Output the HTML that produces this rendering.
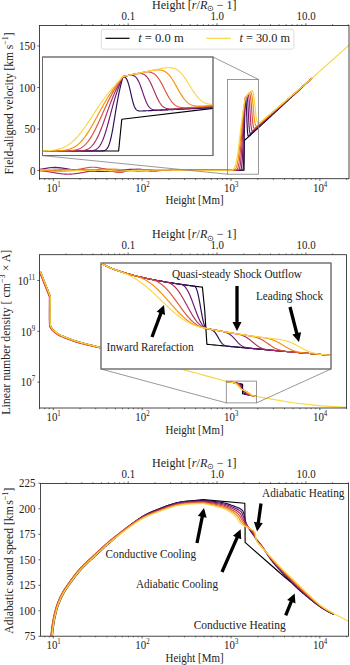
<!DOCTYPE html>
<html><head><meta charset="utf-8"><style>html,body{margin:0;padding:0;background:#fff;width:350px;height:665px;overflow:hidden}svg{display:block}</style></head><body>
<svg width="350" height="665" viewBox="0 0 350 665" font-family='"Liberation Serif", serif' fill="#222">
<rect width="350" height="665" fill="#fff"/>
<defs>
<clipPath id="c1"><rect x="39.5" y="25.5" width="309.5" height="153.2"/></clipPath>
<clipPath id="ci1"><rect x="42.5" y="57" width="170.5" height="98.6"/></clipPath>
</defs>
<path d="M39 170.2 L244 170.2 L244.3 139.7 L245 139.93 L246 139.04 L247 138.15 L248 137.26 L249 136.37 L250 135.48 L251 134.55 L252 133.63 L253 132.7 L254 131.78 L255 130.85 L256 129.92 L257 129 L258 128.07 L259 127.15 L260 126.22 L261 125.3 L262 124.37 L263 123.44 L264 122.52 L265 121.59 L266 120.67 L267 119.74 L268 118.81 L269 117.89 L270 116.96 L271 116.04 L272 115.11 L273 114.19 L274 113.26 L275 112.33 L276 111.41 L277 110.48 L278 109.56 L279 108.63 L280 107.7 L281 106.78 L282 105.85 L283 104.93 L284 104 L285 103.08 L286 102.15 L287 101.22 L288 100.3 L289 99.37 L290 98.45 L291 97.52 L292 96.59 L293 95.67 L294 94.74 L295 93.82 L296 92.89 L297 91.97 L298 91.04 L299 90.11 L300 89.19 L301 88.26 L302 87.34 L303 86.41 L304 85.48 L305 84.56 L306 83.63 L307 82.71 L308 81.78 L309 80.86 L310 79.93 L311 79.04 L312 78.15" fill="none" stroke="#000004" stroke-width="1.15" stroke-linejoin="round" stroke-linecap="butt" clip-path="url(#c1)"/>
<path d="M39 170.06 L39.5 170.05 L40 170.03 L40.5 170.02 L41 170 L41.5 169.98 L42 169.96 L42.5 169.94 L43 169.92 L43.5 169.9 L44 169.88 L44.5 169.86 L45 169.83 L45.5 169.81 L46 169.78 L46.5 169.76 L47 169.73 L47.5 169.7 L48 169.67 L48.5 169.64 L49 169.62 L49.5 169.59 L50 169.56 L50.5 169.53 L51 169.5 L51.5 169.47 L52 169.45 L52.5 169.42 L53 169.4 L53.5 169.37 L54 169.35 L54.5 169.33 L55 169.31 L55.5 169.29 L56 169.27 L56.5 169.25 L57 169.24 L57.5 169.23 L58 169.22 L58.5 169.21 L59 169.2 L59.5 169.2 L60 169.2 L60.5 169.2 L61 169.2 L61.5 169.21 L62 169.22 L62.5 169.23 L63 169.24 L63.5 169.25 L64 169.27 L64.5 169.29 L65 169.31 L65.5 169.33 L66 169.35 L66.5 169.37 L67 169.4 L67.5 169.42 L68 169.45 L68.5 169.48 L69 169.5 L69.5 169.53 L70 169.56 L70.5 169.59 L71 169.62 L71.5 169.65 L72 169.67 L72.5 169.7 L73 169.73 L73.5 169.76 L74 169.78 L74.5 169.81 L75 169.84 L75.5 169.86 L76 169.88 L76.5 169.91 L77 169.93 L77.5 169.95 L78 169.97 L78.5 169.99 L79 170.01 L79.5 170.03 L80 170.05 L80.5 170.06 L81 170.08 L81.5 170.09 L82 170.11 L82.5 170.12 L83 170.14 L83.5 170.15 L84 170.16 L84.5 170.18 L85 170.19 L85.5 170.2 L86 170.21 L86.5 170.22 L87 170.24 L87.5 170.25 L88 170.26 L88.5 170.28 L89 170.29 L89.5 170.3 L90 170.32 L90.5 170.33 L91 170.35 L91.5 170.36 L92 170.38 L92.5 170.4 L93 170.41 L93.5 170.43 L94 170.45 L94.5 170.47 L95 170.49 L95.5 170.51 L96 170.53 L96.5 170.55 L97 170.58 L97.5 170.6 L98 170.62 L98.5 170.64 L99 170.67 L99.5 170.69 L100 170.71 L100.5 170.73 L101 170.76 L101.5 170.78 L102 170.8 L102.5 170.82 L103 170.84 L103.5 170.86 L104 170.88 L104.5 170.9 L105 170.92 L105.5 170.93 L106 170.95 L106.5 170.96 L107 170.97 L107.5 170.98 L108 170.99 L108.5 170.99 L109 171 L109.5 171 L110 171 L110.5 171 L111 171 L111.5 170.99 L112 170.99 L112.5 170.98 L113 170.97 L113.5 170.96 L114 170.95 L114.5 170.93 L115 170.92 L115.5 170.9 L116 170.88 L116.5 170.86 L117 170.84 L117.5 170.82 L118 170.8 L118.5 170.78 L119 170.76 L119.5 170.73 L120 170.71 L120.5 170.69 L121 170.67 L121.5 170.64 L122 170.62 L122.5 170.6 L123 170.57 L123.5 170.55 L124 170.53 L124.5 170.51 L125 170.49 L125.5 170.47 L126 170.45 L126.5 170.43 L127 170.41 L127.5 170.39 L128 170.37 L128.5 170.35 L129 170.34 L129.5 170.32 L130 170.3 L130.5 170.29 L131 170.27 L131.5 170.26 L132 170.24 L132.5 170.22 L133 170.21 L133.5 170.19 L134 170.18 L134.5 170.16 L135 170.14 L135.5 170.13 L136 170.11 L136.5 170.09 L137 170.08 L137.5 170.06 L138 170.04 L138.5 170.02 L139 170 L139.5 169.98 L140 169.96 L140.5 169.95 L141 169.93 L141.5 169.91 L142 169.89 L142.5 169.87 L143 169.85 L143.5 169.83 L144 169.82 L144.5 169.8 L145 169.78 L145.5 169.77 L146 169.76 L146.5 169.74 L147 169.73 L147.5 169.72 L148 169.72 L148.5 169.71 L149 169.7 L149.5 169.7 L150 169.7 L150.5 169.7 L151 169.7 L151.5 169.71 L152 169.71 L152.5 169.72 L153 169.73 L153.5 169.74 L154 169.75 L154.5 169.77 L155 169.78 L155.5 169.79 L156 169.81 L156.5 169.83 L157 169.84 L157.5 169.86 L158 169.88 L158.5 169.9 L159 169.92 L159.5 169.93 L160 169.95 L160.5 169.97 L161 169.98 L161.5 170 L162 170.02 L162.5 170.03 L163 170.05 L163.5 170.06 L164 170.07 L164.5 170.08 L165 170.1 L165.5 170.11 L166 170.12 L166.5 170.12 L167 170.13 L167.5 170.14 L168 170.15 L168.5 170.15 L169 170.16 L169.5 170.16 L170 170.17 L170.5 170.17 L171 170.18 L171.5 170.18 L172 170.18 L172.5 170.19 L173 170.19 L173.5 170.19 L174 170.19 L174.5 170.19 L175 170.19 L175.5 170.19 L176 170.2 L176.5 170.2 L177 170.2 L177.5 170.2 L178 170.2 L178.5 170.2 L179 170.2 L179.5 170.2 L180 170.2 L180.5 170.2 L181 170.2 L181.5 170.2 L182 170.2 L182.5 170.2 L183 170.2 L183.5 170.2 L184 170.2 L184.5 170.2 L185 170.2 L185.5 170.2 L186 170.2 L186.5 170.2 L187 170.2 L187.5 170.2 L188 170.2 L188.5 170.2 L189 170.2 L189.5 170.2 L190 170.2 L190.5 170.2 L191 170.2 L191.5 170.2 L192 170.2 L192.5 170.2 L193 170.2 L193.5 170.2 L194 170.2 L194.5 170.2 L195 170.2 L195.5 170.2 L196 170.2 L196.5 170.2 L197 170.2 L197.5 170.2 L198 170.2 L198.5 170.2 L199 170.2 L199.5 170.2 L200 170.2 L200.5 170.2 L201 170.2 L201.5 170.2 L202 170.2 L202.5 170.2 L203 170.2 L203.5 170.2 L204 170.2 L204.5 170.2 L205 170.2 L205.5 170.2 L206 170.2 L206.5 170.2 L207 170.2 L207.5 170.2 L208 170.2 L208.5 170.2 L209 170.2 L209.5 170.2 L210 170.2 L210.5 170.2 L211 170.2 L211.5 170.2 L212 170.2 L212.5 170.2 L213 170.2 L213.5 170.2 L214 170.2 L214.5 170.2 L215 170.2 L215.5 170.2 L216 170.2 L216.5 170.2 L217 170.2 L217.5 170.2 L218 170.2 L218.5 170.2 L219 170.2 L219.5 170.2 L220 170.2 L220.5 170.2 L221 170.2 L221.5 170.2 L222 170.2 L222.5 170.2 L223 170.2 L223.5 170.2 L224 170.2 L224.5 170.2 L225 170.2 L225.5 170.2 L226 170.2 L226.5 170.2 L227 170.2 L227.5 170.2 L228 170.2 L228.5 170.2 L229 170.2 L229.5 170.2 L230 170.2 L230.5 170.2 L231 170.2 L231.5 170.2 L232 170.2 L232.5 170.2 L233 170.2 L233.5 170.2 L234 170.2 L234.5 170.2 L235 170.2 L235.5 170.2 L236 170.2 L236.5 170.2 L237 170.2 L237.5 170.2 L238 170.2 L238.5 170.2 L239 170.2 L239.5 170.2 L240 170.2 L240.5 170.2 L241 170.2 L241.5 170.2 L242 170.2 L242.5 170.19 L243 169.74 L243.5 165.38 L244 149.93 L244.5 126.17 L245 106.53 L245.5 97.72 L246 99.97 L246.5 108.56 L247 122.28 L247.5 132.45 L248 135.83 L248.5 136.04 L249 135.65 L249.5 135.21 L250 134.76 L250.5 134.31 L251 133.85 L251.5 133.39 L252 132.94 L252.5 132.48 L253 132.02 L253.5 131.56 L254 131.11 L254.5 130.65 L255 130.19 L255.5 129.74 L256 129.28 L256.5 128.82 L257 128.37 L257.5 127.91 L258 127.45 L258.5 127 L259 126.54 L259.5 126.08 L260 125.62 L260.5 125.17 L261 124.71 L261.5 124.25 L262 123.8 L262.5 123.34 L263 122.88 L263.5 122.43 L264 121.97 L264.5 121.51 L265 121.05 L265.5 120.6 L266 120.14 L266.5 119.68 L267 119.23 L267.5 118.77 L268 118.31 L268.5 117.86 L269 117.4 L269.5 116.94 L270 116.49 L270.5 116.03 L271 115.57 L271.5 115.11 L272 114.66 L272.5 114.2 L273 113.74 L273.5 113.29 L274 112.83 L274.5 112.37 L275 111.92 L275.5 111.46 L276 111 L276.5 110.55 L277 110.09 L277.5 109.63 L278 109.17 L278.5 108.72 L279 108.26 L279.5 107.8 L280 107.35 L280.5 106.89 L281 106.43 L281.5 105.98 L282 105.52 L282.5 105.06 L283 104.6 L283.5 104.15 L284 103.69 L284.5 103.23 L285 102.78 L285.5 102.32 L286 101.86 L286.5 101.41 L287 100.95 L287.5 100.49 L288 100.04 L288.5 99.58 L289 99.12 L289.5 98.66 L290 98.21 L290.5 97.75 L291 97.29 L291.5 96.84 L292 96.38 L292.5 95.92 L293 95.47 L293.5 95.01 L294 94.55 L294.5 94.1 L295 93.64 L295.5 93.18 L296 92.72 L296.5 92.27 L297 91.81 L297.5 91.35 L298 90.9 L298.5 90.44 L299 89.98 L299.5 89.53 L300 89.07 L300.5 88.61 L301 88.16 L301.5 87.7 L302 87.24 L302.5 86.78 L303 86.33 L303.5 85.87 L304 85.41 L304.5 84.96 L305 84.5 L305.5 84.04 L306 83.59 L306.5 83.13 L307 82.67 L307.5 82.21 L308 81.76 L308.5 81.3 L309 80.84 L309.5 80.39 L310 79.93 L310.5 79.48 L311 79.04 L311.5 78.59 L312 78.15" fill="none" stroke="#2b0b57" stroke-width="1.15" stroke-linejoin="round" stroke-linecap="butt" clip-path="url(#c1)"/>
<path d="M39 169.44 L39.5 169.38 L40 169.31 L40.5 169.24 L41 169.17 L41.5 169.1 L42 169.02 L42.5 168.94 L43 168.86 L43.5 168.77 L44 168.69 L44.5 168.6 L45 168.52 L45.5 168.43 L46 168.35 L46.5 168.26 L47 168.18 L47.5 168.1 L48 168.02 L48.5 167.94 L49 167.87 L49.5 167.8 L50 167.74 L50.5 167.67 L51 167.62 L51.5 167.57 L52 167.53 L52.5 167.49 L53 167.46 L53.5 167.43 L54 167.41 L54.5 167.4 L55 167.4 L55.5 167.4 L56 167.41 L56.5 167.43 L57 167.46 L57.5 167.49 L58 167.53 L58.5 167.57 L59 167.62 L59.5 167.68 L60 167.74 L60.5 167.8 L61 167.87 L61.5 167.94 L62 168.02 L62.5 168.1 L63 168.18 L63.5 168.26 L64 168.35 L64.5 168.44 L65 168.52 L65.5 168.61 L66 168.69 L66.5 168.78 L67 168.86 L67.5 168.94 L68 169.02 L68.5 169.1 L69 169.18 L69.5 169.25 L70 169.32 L70.5 169.39 L71 169.46 L71.5 169.52 L72 169.58 L72.5 169.64 L73 169.69 L73.5 169.74 L74 169.79 L74.5 169.84 L75 169.89 L75.5 169.93 L76 169.97 L76.5 170.01 L77 170.04 L77.5 170.08 L78 170.11 L78.5 170.15 L79 170.18 L79.5 170.21 L80 170.24 L80.5 170.27 L81 170.3 L81.5 170.33 L82 170.36 L82.5 170.39 L83 170.42 L83.5 170.45 L84 170.49 L84.5 170.52 L85 170.55 L85.5 170.59 L86 170.62 L86.5 170.66 L87 170.69 L87.5 170.73 L88 170.76 L88.5 170.8 L89 170.84 L89.5 170.88 L90 170.92 L90.5 170.95 L91 170.99 L91.5 171.03 L92 171.06 L92.5 171.1 L93 171.13 L93.5 171.17 L94 171.2 L94.5 171.23 L95 171.26 L95.5 171.28 L96 171.31 L96.5 171.33 L97 171.35 L97.5 171.36 L98 171.38 L98.5 171.39 L99 171.39 L99.5 171.4 L100 171.4 L100.5 171.4 L101 171.39 L101.5 171.39 L102 171.38 L102.5 171.36 L103 171.35 L103.5 171.33 L104 171.3 L104.5 171.28 L105 171.25 L105.5 171.23 L106 171.2 L106.5 171.16 L107 171.13 L107.5 171.1 L108 171.06 L108.5 171.02 L109 170.98 L109.5 170.95 L110 170.91 L110.5 170.87 L111 170.83 L111.5 170.79 L112 170.75 L112.5 170.71 L113 170.67 L113.5 170.63 L114 170.59 L114.5 170.56 L115 170.52 L115.5 170.48 L116 170.44 L116.5 170.41 L117 170.37 L117.5 170.33 L118 170.3 L118.5 170.26 L119 170.22 L119.5 170.18 L120 170.15 L120.5 170.11 L121 170.07 L121.5 170.03 L122 169.99 L122.5 169.95 L123 169.91 L123.5 169.87 L124 169.83 L124.5 169.79 L125 169.75 L125.5 169.71 L126 169.67 L126.5 169.63 L127 169.59 L127.5 169.55 L128 169.51 L128.5 169.47 L129 169.44 L129.5 169.4 L130 169.37 L130.5 169.34 L131 169.31 L131.5 169.29 L132 169.27 L132.5 169.25 L133 169.23 L133.5 169.22 L134 169.21 L134.5 169.2 L135 169.2 L135.5 169.2 L136 169.21 L136.5 169.22 L137 169.23 L137.5 169.24 L138 169.26 L138.5 169.28 L139 169.31 L139.5 169.33 L140 169.36 L140.5 169.39 L141 169.42 L141.5 169.45 L142 169.49 L142.5 169.52 L143 169.56 L143.5 169.59 L144 169.63 L144.5 169.67 L145 169.7 L145.5 169.73 L146 169.77 L146.5 169.8 L147 169.83 L147.5 169.86 L148 169.89 L148.5 169.92 L149 169.94 L149.5 169.97 L150 169.99 L150.5 170.01 L151 170.03 L151.5 170.05 L152 170.07 L152.5 170.08 L153 170.09 L153.5 170.11 L154 170.12 L154.5 170.13 L155 170.14 L155.5 170.15 L156 170.15 L156.5 170.16 L157 170.17 L157.5 170.17 L158 170.17 L158.5 170.18 L159 170.18 L159.5 170.18 L160 170.19 L160.5 170.19 L161 170.19 L161.5 170.19 L162 170.19 L162.5 170.19 L163 170.2 L163.5 170.2 L164 170.2 L164.5 170.2 L165 170.2 L165.5 170.2 L166 170.2 L166.5 170.2 L167 170.2 L167.5 170.2 L168 170.2 L168.5 170.2 L169 170.2 L169.5 170.2 L170 170.2 L170.5 170.2 L171 170.2 L171.5 170.2 L172 170.2 L172.5 170.2 L173 170.2 L173.5 170.2 L174 170.2 L174.5 170.2 L175 170.2 L175.5 170.2 L176 170.2 L176.5 170.2 L177 170.2 L177.5 170.2 L178 170.2 L178.5 170.2 L179 170.2 L179.5 170.2 L180 170.2 L180.5 170.2 L181 170.2 L181.5 170.2 L182 170.2 L182.5 170.2 L183 170.2 L183.5 170.2 L184 170.2 L184.5 170.2 L185 170.2 L185.5 170.2 L186 170.2 L186.5 170.2 L187 170.2 L187.5 170.2 L188 170.2 L188.5 170.2 L189 170.2 L189.5 170.2 L190 170.2 L190.5 170.2 L191 170.2 L191.5 170.2 L192 170.2 L192.5 170.2 L193 170.2 L193.5 170.2 L194 170.2 L194.5 170.2 L195 170.2 L195.5 170.2 L196 170.2 L196.5 170.2 L197 170.2 L197.5 170.2 L198 170.2 L198.5 170.2 L199 170.2 L199.5 170.2 L200 170.2 L200.5 170.2 L201 170.2 L201.5 170.2 L202 170.2 L202.5 170.2 L203 170.2 L203.5 170.2 L204 170.2 L204.5 170.2 L205 170.2 L205.5 170.2 L206 170.2 L206.5 170.2 L207 170.2 L207.5 170.2 L208 170.2 L208.5 170.2 L209 170.2 L209.5 170.2 L210 170.2 L210.5 170.2 L211 170.2 L211.5 170.2 L212 170.2 L212.5 170.2 L213 170.2 L213.5 170.2 L214 170.2 L214.5 170.2 L215 170.2 L215.5 170.2 L216 170.2 L216.5 170.2 L217 170.2 L217.5 170.2 L218 170.2 L218.5 170.2 L219 170.2 L219.5 170.2 L220 170.2 L220.5 170.2 L221 170.2 L221.5 170.2 L222 170.2 L222.5 170.2 L223 170.2 L223.5 170.2 L224 170.2 L224.5 170.2 L225 170.2 L225.5 170.2 L226 170.2 L226.5 170.2 L227 170.2 L227.5 170.2 L228 170.2 L228.5 170.2 L229 170.2 L229.5 170.2 L230 170.2 L230.5 170.2 L231 170.2 L231.5 170.2 L232 170.2 L232.5 170.2 L233 170.2 L233.5 170.2 L234 170.2 L234.5 170.2 L235 170.2 L235.5 170.2 L236 170.2 L236.5 170.2 L237 170.2 L237.5 170.2 L238 170.2 L238.5 170.2 L239 170.2 L239.5 170.2 L240 170.18 L240.5 170.06 L241 169.52 L241.5 167.79 L242 163.67 L242.5 156.16 L243 145.41 L243.5 132.96 L244 120.92 L244.5 110.67 L245 102.22 L245.5 97.27 L246 96.72 L246.5 96.32 L247 96.67 L247.5 99.3 L248 105.94 L248.5 115.93 L249 125.45 L249.5 131.2 L250 133.26 L250.5 133.47 L251 133.13 L251.5 132.69 L252 132.24 L252.5 131.79 L253 131.34 L253.5 130.89 L254 130.44 L254.5 129.99 L255 129.54 L255.5 129.09 L256 128.63 L256.5 128.18 L257 127.73 L257.5 127.28 L258 126.83 L258.5 126.38 L259 125.93 L259.5 125.48 L260 125.03 L260.5 124.58 L261 124.13 L261.5 123.67 L262 123.22 L262.5 122.77 L263 122.32 L263.5 121.87 L264 121.42 L264.5 120.97 L265 120.52 L265.5 120.07 L266 119.62 L266.5 119.16 L267 118.71 L267.5 118.26 L268 117.81 L268.5 117.36 L269 116.91 L269.5 116.46 L270 116.01 L270.5 115.56 L271 115.11 L271.5 114.65 L272 114.2 L272.5 113.75 L273 113.3 L273.5 112.85 L274 112.4 L274.5 111.95 L275 111.5 L275.5 111.05 L276 110.6 L276.5 110.15 L277 109.69 L277.5 109.24 L278 108.79 L278.5 108.34 L279 107.89 L279.5 107.44 L280 106.99 L280.5 106.54 L281 106.09 L281.5 105.64 L282 105.18 L282.5 104.73 L283 104.28 L283.5 103.83 L284 103.38 L284.5 102.93 L285 102.48 L285.5 102.03 L286 101.58 L286.5 101.13 L287 100.67 L287.5 100.22 L288 99.77 L288.5 99.32 L289 98.87 L289.5 98.42 L290 97.97 L290.5 97.52 L291 97.07 L291.5 96.62 L292 96.16 L292.5 95.71 L293 95.26 L293.5 94.81 L294 94.36 L294.5 93.91 L295 93.46 L295.5 93.01 L296 92.56 L296.5 92.11 L297 91.66 L297.5 91.2 L298 90.75 L298.5 90.3 L299 89.85 L299.5 89.4 L300 88.95 L300.5 88.5 L301 88.05 L301.5 87.6 L302 87.15 L302.5 86.69 L303 86.24 L303.5 85.79 L304 85.34 L304.5 84.89 L305 84.44 L305.5 83.99 L306 83.54 L306.5 83.09 L307 82.64 L307.5 82.18 L308 81.73 L308.5 81.28 L309 80.83 L309.5 80.38 L310 79.93 L310.5 79.48 L311 79.04 L311.5 78.59 L312 78.15" fill="none" stroke="#6a176e" stroke-width="1.15" stroke-linejoin="round" stroke-linecap="butt" clip-path="url(#c1)"/>
<path d="M39 170.69 L39.5 170.73 L40 170.76 L40.5 170.8 L41 170.85 L41.5 170.89 L42 170.94 L42.5 170.99 L43 171.04 L43.5 171.09 L44 171.15 L44.5 171.21 L45 171.27 L45.5 171.33 L46 171.39 L46.5 171.46 L47 171.53 L47.5 171.6 L48 171.67 L48.5 171.75 L49 171.82 L49.5 171.9 L50 171.98 L50.5 172.06 L51 172.14 L51.5 172.23 L52 172.31 L52.5 172.39 L53 172.48 L53.5 172.56 L54 172.65 L54.5 172.74 L55 172.82 L55.5 172.91 L56 172.99 L56.5 173.07 L57 173.16 L57.5 173.24 L58 173.32 L58.5 173.39 L59 173.47 L59.5 173.54 L60 173.61 L60.5 173.68 L61 173.74 L61.5 173.8 L62 173.86 L62.5 173.91 L63 173.96 L63.5 174 L64 174.04 L64.5 174.08 L65 174.11 L65.5 174.14 L66 174.16 L66.5 174.18 L67 174.19 L67.5 174.2 L68 174.2 L68.5 174.2 L69 174.19 L69.5 174.18 L70 174.16 L70.5 174.14 L71 174.11 L71.5 174.08 L72 174.04 L72.5 174 L73 173.96 L73.5 173.91 L74 173.86 L74.5 173.8 L75 173.74 L75.5 173.68 L76 173.61 L76.5 173.54 L77 173.47 L77.5 173.39 L78 173.31 L78.5 173.24 L79 173.15 L79.5 173.07 L80 172.99 L80.5 172.9 L81 172.82 L81.5 172.73 L82 172.64 L82.5 172.56 L83 172.47 L83.5 172.38 L84 172.29 L84.5 172.2 L85 172.11 L85.5 172.03 L86 171.94 L86.5 171.85 L87 171.76 L87.5 171.67 L88 171.58 L88.5 171.49 L89 171.39 L89.5 171.3 L90 171.21 L90.5 171.11 L91 171.01 L91.5 170.91 L92 170.81 L92.5 170.71 L93 170.6 L93.5 170.49 L94 170.39 L94.5 170.28 L95 170.17 L95.5 170.06 L96 169.94 L96.5 169.84 L97 169.73 L97.5 169.62 L98 169.52 L98.5 169.42 L99 169.33 L99.5 169.25 L100 169.17 L100.5 169.1 L101 169.04 L101.5 168.99 L102 168.95 L102.5 168.93 L103 168.91 L103.5 168.9 L104 168.91 L104.5 168.93 L105 168.96 L105.5 169.01 L106 169.06 L106.5 169.12 L107 169.2 L107.5 169.29 L108 169.38 L108.5 169.49 L109 169.6 L109.5 169.72 L110 169.85 L110.5 169.98 L111 170.12 L111.5 170.27 L112 170.42 L112.5 170.57 L113 170.72 L113.5 170.87 L114 171.02 L114.5 171.17 L115 171.32 L115.5 171.45 L116 171.58 L116.5 171.7 L117 171.81 L117.5 171.91 L118 171.99 L118.5 172.06 L119 172.11 L119.5 172.15 L120 172.16 L120.5 172.16 L121 172.15 L121.5 172.11 L122 172.06 L122.5 172 L123 171.93 L123.5 171.85 L124 171.75 L124.5 171.65 L125 171.55 L125.5 171.45 L126 171.34 L126.5 171.24 L127 171.13 L127.5 171.03 L128 170.94 L128.5 170.85 L129 170.77 L129.5 170.7 L130 170.63 L130.5 170.57 L131 170.52 L131.5 170.47 L132 170.43 L132.5 170.4 L133 170.38 L133.5 170.36 L134 170.34 L134.5 170.33 L135 170.32 L135.5 170.32 L136 170.32 L136.5 170.33 L137 170.33 L137.5 170.34 L138 170.35 L138.5 170.37 L139 170.39 L139.5 170.4 L140 170.42 L140.5 170.45 L141 170.47 L141.5 170.49 L142 170.52 L142.5 170.54 L143 170.57 L143.5 170.59 L144 170.62 L144.5 170.64 L145 170.67 L145.5 170.69 L146 170.71 L146.5 170.73 L147 170.75 L147.5 170.76 L148 170.78 L148.5 170.79 L149 170.79 L149.5 170.8 L150 170.8 L150.5 170.8 L151 170.79 L151.5 170.79 L152 170.78 L152.5 170.76 L153 170.75 L153.5 170.73 L154 170.71 L154.5 170.69 L155 170.67 L155.5 170.64 L156 170.62 L156.5 170.59 L157 170.57 L157.5 170.54 L158 170.52 L158.5 170.49 L159 170.47 L159.5 170.44 L160 170.42 L160.5 170.4 L161 170.38 L161.5 170.36 L162 170.34 L162.5 170.33 L163 170.31 L163.5 170.3 L164 170.28 L164.5 170.27 L165 170.26 L165.5 170.25 L166 170.25 L166.5 170.24 L167 170.23 L167.5 170.23 L168 170.22 L168.5 170.22 L169 170.22 L169.5 170.21 L170 170.21 L170.5 170.21 L171 170.21 L171.5 170.21 L172 170.2 L172.5 170.2 L173 170.2 L173.5 170.2 L174 170.2 L174.5 170.2 L175 170.2 L175.5 170.2 L176 170.2 L176.5 170.2 L177 170.2 L177.5 170.2 L178 170.2 L178.5 170.2 L179 170.2 L179.5 170.2 L180 170.2 L180.5 170.2 L181 170.2 L181.5 170.2 L182 170.2 L182.5 170.2 L183 170.2 L183.5 170.2 L184 170.2 L184.5 170.2 L185 170.2 L185.5 170.2 L186 170.2 L186.5 170.2 L187 170.2 L187.5 170.2 L188 170.2 L188.5 170.2 L189 170.2 L189.5 170.2 L190 170.2 L190.5 170.2 L191 170.2 L191.5 170.2 L192 170.2 L192.5 170.2 L193 170.2 L193.5 170.2 L194 170.2 L194.5 170.2 L195 170.2 L195.5 170.2 L196 170.2 L196.5 170.2 L197 170.2 L197.5 170.2 L198 170.2 L198.5 170.2 L199 170.2 L199.5 170.2 L200 170.2 L200.5 170.2 L201 170.2 L201.5 170.2 L202 170.2 L202.5 170.2 L203 170.2 L203.5 170.2 L204 170.2 L204.5 170.2 L205 170.2 L205.5 170.2 L206 170.2 L206.5 170.2 L207 170.2 L207.5 170.2 L208 170.2 L208.5 170.2 L209 170.2 L209.5 170.2 L210 170.2 L210.5 170.2 L211 170.2 L211.5 170.2 L212 170.2 L212.5 170.2 L213 170.2 L213.5 170.2 L214 170.2 L214.5 170.2 L215 170.2 L215.5 170.2 L216 170.2 L216.5 170.2 L217 170.2 L217.5 170.2 L218 170.2 L218.5 170.2 L219 170.2 L219.5 170.2 L220 170.2 L220.5 170.2 L221 170.2 L221.5 170.2 L222 170.2 L222.5 170.2 L223 170.2 L223.5 170.2 L224 170.2 L224.5 170.2 L225 170.2 L225.5 170.2 L226 170.2 L226.5 170.2 L227 170.2 L227.5 170.2 L228 170.2 L228.5 170.2 L229 170.2 L229.5 170.2 L230 170.2 L230.5 170.2 L231 170.2 L231.5 170.2 L232 170.2 L232.5 170.2 L233 170.2 L233.5 170.2 L234 170.2 L234.5 170.2 L235 170.2 L235.5 170.2 L236 170.2 L236.5 170.2 L237 170.19 L237.5 170.18 L238 170.11 L238.5 169.92 L239 169.44 L239.5 168.4 L240 166.42 L240.5 163.11 L241 158.23 L241.5 151.78 L242 144.08 L242.5 135.71 L243 127.33 L243.5 119.49 L244 112.5 L244.5 106.37 L245 100.8 L245.5 97.27 L246 96.7 L246.5 96.12 L247 95.56 L247.5 95.09 L248 94.92 L248.5 95.67 L249 98.31 L249.5 103.65 L250 111.3 L250.5 119.38 L251 125.71 L251.5 129.33 L252 130.72 L252.5 130.91 L253 130.62 L253.5 130.21 L254 129.77 L254.5 129.32 L255 128.88 L255.5 128.43 L256 127.99 L256.5 127.54 L257 127.1 L257.5 126.65 L258 126.21 L258.5 125.77 L259 125.32 L259.5 124.88 L260 124.43 L260.5 123.98 L261 123.54 L261.5 123.09 L262 122.65 L262.5 122.2 L263 121.76 L263.5 121.31 L264 120.87 L264.5 120.42 L265 119.98 L265.5 119.53 L266 119.09 L266.5 118.64 L267 118.2 L267.5 117.75 L268 117.31 L268.5 116.86 L269 116.42 L269.5 115.97 L270 115.53 L270.5 115.08 L271 114.64 L271.5 114.19 L272 113.75 L272.5 113.3 L273 112.86 L273.5 112.41 L274 111.97 L274.5 111.52 L275 111.08 L275.5 110.63 L276 110.19 L276.5 109.74 L277 109.3 L277.5 108.85 L278 108.41 L278.5 107.97 L279 107.52 L279.5 107.07 L280 106.63 L280.5 106.19 L281 105.74 L281.5 105.29 L282 104.85 L282.5 104.41 L283 103.96 L283.5 103.51 L284 103.07 L284.5 102.62 L285 102.18 L285.5 101.73 L286 101.29 L286.5 100.84 L287 100.4 L287.5 99.96 L288 99.51 L288.5 99.06 L289 98.62 L289.5 98.17 L290 97.73 L290.5 97.28 L291 96.84 L291.5 96.39 L292 95.95 L292.5 95.5 L293 95.06 L293.5 94.62 L294 94.17 L294.5 93.72 L295 93.28 L295.5 92.83 L296 92.39 L296.5 91.94 L297 91.5 L297.5 91.06 L298 90.61 L298.5 90.16 L299 89.72 L299.5 89.27 L300 88.83 L300.5 88.38 L301 87.94 L301.5 87.49 L302 87.05 L302.5 86.61 L303 86.16 L303.5 85.72 L304 85.27 L304.5 84.82 L305 84.38 L305.5 83.94 L306 83.49 L306.5 83.04 L307 82.6 L307.5 82.16 L308 81.71 L308.5 81.26 L309 80.82 L309.5 80.38 L310 79.93 L310.5 79.48 L311 79.04 L311.5 78.59 L312 78.15" fill="none" stroke="#a82e5f" stroke-width="1.15" stroke-linejoin="round" stroke-linecap="butt" clip-path="url(#c1)"/>
<path d="M39 170.2 L39.5 170.2 L40 170.2 L40.5 170.2 L41 170.2 L41.5 170.2 L42 170.2 L42.5 170.2 L43 170.2 L43.5 170.2 L44 170.2 L44.5 170.2 L45 170.2 L45.5 170.2 L46 170.2 L46.5 170.2 L47 170.2 L47.5 170.2 L48 170.2 L48.5 170.2 L49 170.2 L49.5 170.2 L50 170.2 L50.5 170.2 L51 170.2 L51.5 170.2 L52 170.2 L52.5 170.2 L53 170.2 L53.5 170.2 L54 170.2 L54.5 170.2 L55 170.2 L55.5 170.2 L56 170.2 L56.5 170.2 L57 170.2 L57.5 170.2 L58 170.2 L58.5 170.2 L59 170.2 L59.5 170.2 L60 170.2 L60.5 170.19 L61 170.19 L61.5 170.19 L62 170.19 L62.5 170.19 L63 170.19 L63.5 170.18 L64 170.18 L64.5 170.18 L65 170.17 L65.5 170.17 L66 170.16 L66.5 170.15 L67 170.15 L67.5 170.14 L68 170.13 L68.5 170.11 L69 170.1 L69.5 170.09 L70 170.07 L70.5 170.05 L71 170.03 L71.5 170.01 L72 169.98 L72.5 169.95 L73 169.92 L73.5 169.88 L74 169.85 L74.5 169.8 L75 169.76 L75.5 169.71 L76 169.66 L76.5 169.6 L77 169.54 L77.5 169.48 L78 169.41 L78.5 169.34 L79 169.26 L79.5 169.18 L80 169.1 L80.5 169.01 L81 168.92 L81.5 168.83 L82 168.73 L82.5 168.64 L83 168.54 L83.5 168.44 L84 168.34 L84.5 168.24 L85 168.15 L85.5 168.05 L86 167.96 L86.5 167.86 L87 167.78 L87.5 167.69 L88 167.61 L88.5 167.54 L89 167.47 L89.5 167.41 L90 167.36 L90.5 167.31 L91 167.27 L91.5 167.24 L92 167.22 L92.5 167.21 L93 167.2 L93.5 167.21 L94 167.22 L94.5 167.24 L95 167.27 L95.5 167.31 L96 167.36 L96.5 167.42 L97 167.48 L97.5 167.55 L98 167.63 L98.5 167.71 L99 167.8 L99.5 167.9 L100 168 L100.5 168.1 L101 168.21 L101.5 168.32 L102 168.44 L102.5 168.55 L103 168.68 L103.5 168.8 L104 168.93 L104.5 169.06 L105 169.19 L105.5 169.33 L106 169.47 L106.5 169.61 L107 169.75 L107.5 169.9 L108 170.05 L108.5 170.2 L109 170.35 L109.5 170.5 L110 170.66 L110.5 170.81 L111 170.96 L111.5 171.11 L112 171.26 L112.5 171.4 L113 171.53 L113.5 171.66 L114 171.78 L114.5 171.9 L115 172 L115.5 172.09 L116 172.16 L116.5 172.22 L117 172.27 L117.5 172.31 L118 172.32 L118.5 172.33 L119 172.31 L119.5 172.29 L120 172.25 L120.5 172.19 L121 172.13 L121.5 172.05 L122 171.97 L122.5 171.87 L123 171.77 L123.5 171.67 L124 171.56 L124.5 171.45 L125 171.33 L125.5 171.22 L126 171.1 L126.5 170.99 L127 170.88 L127.5 170.77 L128 170.67 L128.5 170.57 L129 170.47 L129.5 170.37 L130 170.28 L130.5 170.19 L131 170.11 L131.5 170.02 L132 169.94 L132.5 169.87 L133 169.79 L133.5 169.73 L134 169.66 L134.5 169.6 L135 169.54 L135.5 169.49 L136 169.44 L136.5 169.4 L137 169.37 L137.5 169.34 L138 169.32 L138.5 169.31 L139 169.31 L139.5 169.31 L140 169.33 L140.5 169.36 L141 169.4 L141.5 169.44 L142 169.5 L142.5 169.57 L143 169.64 L143.5 169.73 L144 169.82 L144.5 169.92 L145 170.02 L145.5 170.13 L146 170.24 L146.5 170.35 L147 170.47 L147.5 170.58 L148 170.68 L148.5 170.78 L149 170.87 L149.5 170.96 L150 171.04 L150.5 171.1 L151 171.16 L151.5 171.2 L152 171.23 L152.5 171.25 L153 171.26 L153.5 171.25 L154 171.24 L154.5 171.21 L155 171.18 L155.5 171.14 L156 171.09 L156.5 171.04 L157 170.98 L157.5 170.93 L158 170.87 L158.5 170.81 L159 170.75 L159.5 170.69 L160 170.63 L160.5 170.58 L161 170.53 L161.5 170.49 L162 170.45 L162.5 170.41 L163 170.38 L163.5 170.35 L164 170.33 L164.5 170.3 L165 170.29 L165.5 170.27 L166 170.26 L166.5 170.24 L167 170.24 L167.5 170.23 L168 170.22 L168.5 170.22 L169 170.21 L169.5 170.21 L170 170.21 L170.5 170.21 L171 170.2 L171.5 170.2 L172 170.2 L172.5 170.2 L173 170.2 L173.5 170.2 L174 170.2 L174.5 170.2 L175 170.2 L175.5 170.2 L176 170.2 L176.5 170.2 L177 170.2 L177.5 170.2 L178 170.2 L178.5 170.2 L179 170.2 L179.5 170.2 L180 170.2 L180.5 170.2 L181 170.2 L181.5 170.2 L182 170.2 L182.5 170.2 L183 170.2 L183.5 170.2 L184 170.2 L184.5 170.2 L185 170.2 L185.5 170.2 L186 170.2 L186.5 170.2 L187 170.2 L187.5 170.2 L188 170.2 L188.5 170.2 L189 170.2 L189.5 170.2 L190 170.2 L190.5 170.2 L191 170.2 L191.5 170.2 L192 170.2 L192.5 170.2 L193 170.2 L193.5 170.2 L194 170.2 L194.5 170.2 L195 170.2 L195.5 170.2 L196 170.2 L196.5 170.2 L197 170.2 L197.5 170.2 L198 170.2 L198.5 170.2 L199 170.2 L199.5 170.2 L200 170.2 L200.5 170.2 L201 170.2 L201.5 170.2 L202 170.2 L202.5 170.2 L203 170.2 L203.5 170.2 L204 170.2 L204.5 170.2 L205 170.2 L205.5 170.2 L206 170.2 L206.5 170.2 L207 170.2 L207.5 170.2 L208 170.2 L208.5 170.2 L209 170.2 L209.5 170.2 L210 170.2 L210.5 170.2 L211 170.2 L211.5 170.2 L212 170.2 L212.5 170.2 L213 170.2 L213.5 170.2 L214 170.2 L214.5 170.2 L215 170.2 L215.5 170.2 L216 170.2 L216.5 170.2 L217 170.2 L217.5 170.2 L218 170.2 L218.5 170.2 L219 170.2 L219.5 170.2 L220 170.2 L220.5 170.2 L221 170.2 L221.5 170.2 L222 170.2 L222.5 170.2 L223 170.2 L223.5 170.2 L224 170.2 L224.5 170.2 L225 170.2 L225.5 170.2 L226 170.2 L226.5 170.2 L227 170.2 L227.5 170.2 L228 170.2 L228.5 170.2 L229 170.2 L229.5 170.2 L230 170.2 L230.5 170.2 L231 170.2 L231.5 170.2 L232 170.2 L232.5 170.2 L233 170.2 L233.5 170.2 L234 170.2 L234.5 170.19 L235 170.18 L235.5 170.13 L236 170.03 L236.5 169.82 L237 169.42 L237.5 168.68 L238 167.46 L238.5 165.59 L239 162.92 L239.5 159.34 L240 154.86 L240.5 149.56 L241 143.64 L241.5 137.36 L242 131 L242.5 124.82 L243 119.01 L243.5 113.67 L244 108.82 L244.5 104.34 L245 100.07 L245.5 97.27 L246 96.7 L246.5 96.12 L247 95.55 L247.5 94.97 L248 94.41 L248.5 93.9 L249 93.55 L249.5 93.62 L250 94.6 L250.5 97.11 L251 101.54 L251.5 107.64 L252 114.39 L252.5 120.43 L253 124.77 L253.5 127.24 L254 128.24 L254.5 128.39 L255 128.15 L255.5 127.77 L256 127.34 L256.5 126.91 L257 126.47 L257.5 126.03 L258 125.59 L258.5 125.15 L259 124.71 L259.5 124.27 L260 123.83 L260.5 123.39 L261 122.95 L261.5 122.52 L262 122.08 L262.5 121.64 L263 121.2 L263.5 120.76 L264 120.32 L264.5 119.88 L265 119.44 L265.5 119 L266 118.56 L266.5 118.13 L267 117.69 L267.5 117.25 L268 116.81 L268.5 116.37 L269 115.93 L269.5 115.49 L270 115.05 L270.5 114.61 L271 114.17 L271.5 113.74 L272 113.3 L272.5 112.86 L273 112.42 L273.5 111.98 L274 111.54 L274.5 111.1 L275 110.66 L275.5 110.22 L276 109.78 L276.5 109.34 L277 108.91 L277.5 108.47 L278 108.03 L278.5 107.59 L279 107.15 L279.5 106.71 L280 106.27 L280.5 105.83 L281 105.39 L281.5 104.95 L282 104.52 L282.5 104.08 L283 103.64 L283.5 103.2 L284 102.76 L284.5 102.32 L285 101.88 L285.5 101.44 L286 101 L286.5 100.56 L287 100.13 L287.5 99.69 L288 99.25 L288.5 98.81 L289 98.37 L289.5 97.93 L290 97.49 L290.5 97.05 L291 96.61 L291.5 96.17 L292 95.73 L292.5 95.3 L293 94.86 L293.5 94.42 L294 93.98 L294.5 93.54 L295 93.1 L295.5 92.66 L296 92.22 L296.5 91.78 L297 91.34 L297.5 90.91 L298 90.47 L298.5 90.03 L299 89.59 L299.5 89.15 L300 88.71 L300.5 88.27 L301 87.83 L301.5 87.39 L302 86.95 L302.5 86.52 L303 86.08 L303.5 85.64 L304 85.2 L304.5 84.76 L305 84.32 L305.5 83.88 L306 83.44 L306.5 83 L307 82.56 L307.5 82.13 L308 81.69 L308.5 81.25 L309 80.81 L309.5 80.37 L310 79.93 L310.5 79.48 L311 79.04 L311.5 78.59 L312 78.15" fill="none" stroke="#dd513a" stroke-width="1.15" stroke-linejoin="round" stroke-linecap="butt" clip-path="url(#c1)"/>
<path d="M39 170.34 L39.5 170.35 L40 170.37 L40.5 170.38 L41 170.4 L41.5 170.42 L42 170.44 L42.5 170.46 L43 170.48 L43.5 170.5 L44 170.52 L44.5 170.54 L45 170.57 L45.5 170.59 L46 170.62 L46.5 170.64 L47 170.67 L47.5 170.7 L48 170.73 L48.5 170.76 L49 170.78 L49.5 170.81 L50 170.84 L50.5 170.87 L51 170.9 L51.5 170.93 L52 170.95 L52.5 170.98 L53 171 L53.5 171.03 L54 171.05 L54.5 171.07 L55 171.09 L55.5 171.11 L56 171.13 L56.5 171.15 L57 171.16 L57.5 171.17 L58 171.18 L58.5 171.19 L59 171.2 L59.5 171.2 L60 171.2 L60.5 171.2 L61 171.2 L61.5 171.19 L62 171.18 L62.5 171.17 L63 171.16 L63.5 171.15 L64 171.13 L64.5 171.11 L65 171.09 L65.5 171.07 L66 171.05 L66.5 171.03 L67 171 L67.5 170.98 L68 170.95 L68.5 170.93 L69 170.9 L69.5 170.87 L70 170.84 L70.5 170.81 L71 170.78 L71.5 170.76 L72 170.73 L72.5 170.7 L73 170.67 L73.5 170.64 L74 170.62 L74.5 170.59 L75 170.57 L75.5 170.54 L76 170.52 L76.5 170.5 L77 170.48 L77.5 170.46 L78 170.44 L78.5 170.42 L79 170.4 L79.5 170.38 L80 170.37 L80.5 170.35 L81 170.34 L81.5 170.33 L82 170.32 L82.5 170.31 L83 170.29 L83.5 170.29 L84 170.28 L84.5 170.27 L85 170.26 L85.5 170.25 L86 170.25 L86.5 170.24 L87 170.24 L87.5 170.23 L88 170.23 L88.5 170.22 L89 170.22 L89.5 170.21 L90 170.21 L90.5 170.2 L91 170.2 L91.5 170.19 L92 170.19 L92.5 170.18 L93 170.18 L93.5 170.17 L94 170.16 L94.5 170.15 L95 170.14 L95.5 170.12 L96 170.11 L96.5 170.09 L97 170.08 L97.5 170.06 L98 170.03 L98.5 170.01 L99 169.98 L99.5 169.95 L100 169.92 L100.5 169.88 L101 169.84 L101.5 169.8 L102 169.76 L102.5 169.71 L103 169.67 L103.5 169.62 L104 169.57 L104.5 169.52 L105 169.46 L105.5 169.41 L106 169.36 L106.5 169.31 L107 169.27 L107.5 169.22 L108 169.18 L108.5 169.14 L109 169.1 L109.5 169.07 L110 169.05 L110.5 169.03 L111 169.01 L111.5 169 L112 169 L112.5 169 L113 169.01 L113.5 169.03 L114 169.05 L114.5 169.07 L115 169.1 L115.5 169.14 L116 169.18 L116.5 169.22 L117 169.27 L117.5 169.31 L118 169.37 L118.5 169.42 L119 169.47 L119.5 169.52 L120 169.57 L120.5 169.63 L121 169.68 L121.5 169.73 L122 169.78 L122.5 169.83 L123 169.88 L123.5 169.93 L124 169.97 L124.5 170.02 L125 170.06 L125.5 170.11 L126 170.16 L126.5 170.21 L127 170.25 L127.5 170.31 L128 170.36 L128.5 170.41 L129 170.47 L129.5 170.53 L130 170.59 L130.5 170.66 L131 170.73 L131.5 170.79 L132 170.86 L132.5 170.93 L133 171 L133.5 171.06 L134 171.13 L134.5 171.18 L135 171.24 L135.5 171.28 L136 171.32 L136.5 171.36 L137 171.38 L137.5 171.39 L138 171.4 L138.5 171.39 L139 171.38 L139.5 171.36 L140 171.33 L140.5 171.29 L141 171.24 L141.5 171.19 L142 171.13 L142.5 171.07 L143 171.01 L143.5 170.94 L144 170.88 L144.5 170.81 L145 170.75 L145.5 170.68 L146 170.63 L146.5 170.57 L147 170.51 L147.5 170.46 L148 170.42 L148.5 170.37 L149 170.33 L149.5 170.3 L150 170.26 L150.5 170.23 L151 170.2 L151.5 170.17 L152 170.15 L152.5 170.12 L153 170.09 L153.5 170.07 L154 170.04 L154.5 170.02 L155 169.99 L155.5 169.97 L156 169.94 L156.5 169.91 L157 169.89 L157.5 169.86 L158 169.83 L158.5 169.81 L159 169.78 L159.5 169.76 L160 169.73 L160.5 169.71 L161 169.69 L161.5 169.67 L162 169.65 L162.5 169.64 L163 169.62 L163.5 169.61 L164 169.61 L164.5 169.6 L165 169.6 L165.5 169.6 L166 169.61 L166.5 169.61 L167 169.62 L167.5 169.64 L168 169.65 L168.5 169.67 L169 169.69 L169.5 169.71 L170 169.73 L170.5 169.76 L171 169.78 L171.5 169.81 L172 169.83 L172.5 169.86 L173 169.88 L173.5 169.91 L174 169.93 L174.5 169.96 L175 169.98 L175.5 170 L176 170.02 L176.5 170.04 L177 170.06 L177.5 170.07 L178 170.09 L178.5 170.1 L179 170.12 L179.5 170.13 L180 170.14 L180.5 170.15 L181 170.15 L181.5 170.16 L182 170.17 L182.5 170.17 L183 170.18 L183.5 170.18 L184 170.18 L184.5 170.19 L185 170.19 L185.5 170.19 L186 170.19 L186.5 170.19 L187 170.2 L187.5 170.2 L188 170.2 L188.5 170.2 L189 170.2 L189.5 170.2 L190 170.2 L190.5 170.2 L191 170.2 L191.5 170.2 L192 170.2 L192.5 170.2 L193 170.2 L193.5 170.2 L194 170.2 L194.5 170.2 L195 170.2 L195.5 170.2 L196 170.2 L196.5 170.2 L197 170.2 L197.5 170.2 L198 170.2 L198.5 170.2 L199 170.2 L199.5 170.2 L200 170.2 L200.5 170.2 L201 170.2 L201.5 170.2 L202 170.2 L202.5 170.2 L203 170.2 L203.5 170.2 L204 170.2 L204.5 170.2 L205 170.2 L205.5 170.2 L206 170.2 L206.5 170.2 L207 170.2 L207.5 170.2 L208 170.2 L208.5 170.2 L209 170.2 L209.5 170.2 L210 170.2 L210.5 170.2 L211 170.2 L211.5 170.2 L212 170.2 L212.5 170.2 L213 170.2 L213.5 170.2 L214 170.2 L214.5 170.2 L215 170.2 L215.5 170.2 L216 170.2 L216.5 170.2 L217 170.2 L217.5 170.2 L218 170.2 L218.5 170.2 L219 170.2 L219.5 170.2 L220 170.2 L220.5 170.2 L221 170.2 L221.5 170.2 L222 170.2 L222.5 170.2 L223 170.2 L223.5 170.2 L224 170.2 L224.5 170.2 L225 170.2 L225.5 170.2 L226 170.2 L226.5 170.2 L227 170.2 L227.5 170.2 L228 170.2 L228.5 170.2 L229 170.2 L229.5 170.2 L230 170.2 L230.5 170.2 L231 170.2 L231.5 170.2 L232 170.19 L232.5 170.18 L233 170.14 L233.5 170.08 L234 169.97 L234.5 169.76 L235 169.41 L235.5 168.85 L236 168.01 L236.5 166.79 L237 165.1 L237.5 162.88 L238 160.09 L238.5 156.7 L239 152.76 L239.5 148.35 L240 143.57 L240.5 138.55 L241 133.45 L241.5 128.41 L242 123.53 L242.5 118.89 L243 114.56 L243.5 110.52 L244 106.75 L244.5 103.16 L245 99.64 L245.5 97.27 L246 96.7 L246.5 96.12 L247 95.55 L247.5 94.97 L248 94.4 L248.5 93.82 L249 93.26 L249.5 92.73 L250 92.29 L250.5 92.08 L251 92.34 L251.5 93.44 L252 95.77 L252.5 99.52 L253 104.54 L253.5 110.22 L254 115.68 L254.5 120.18 L255 123.29 L255.5 125.06 L256 125.82 L256.5 125.94 L257 125.73 L257.5 125.37 L258 124.96 L258.5 124.53 L259 124.1 L259.5 123.67 L260 123.24 L260.5 122.8 L261 122.37 L261.5 121.94 L262 121.5 L262.5 121.07 L263 120.64 L263.5 120.2 L264 119.77 L264.5 119.34 L265 118.9 L265.5 118.47 L266 118.04 L266.5 117.61 L267 117.17 L267.5 116.74 L268 116.31 L268.5 115.87 L269 115.44 L269.5 115.01 L270 114.57 L270.5 114.14 L271 113.71 L271.5 113.28 L272 112.84 L272.5 112.41 L273 111.98 L273.5 111.54 L274 111.11 L274.5 110.68 L275 110.24 L275.5 109.81 L276 109.38 L276.5 108.94 L277 108.51 L277.5 108.08 L278 107.65 L278.5 107.21 L279 106.78 L279.5 106.35 L280 105.91 L280.5 105.48 L281 105.05 L281.5 104.61 L282 104.18 L282.5 103.75 L283 103.31 L283.5 102.88 L284 102.45 L284.5 102.02 L285 101.58 L285.5 101.15 L286 100.72 L286.5 100.28 L287 99.85 L287.5 99.42 L288 98.98 L288.5 98.55 L289 98.12 L289.5 97.69 L290 97.25 L290.5 96.82 L291 96.39 L291.5 95.95 L292 95.52 L292.5 95.09 L293 94.65 L293.5 94.22 L294 93.79 L294.5 93.35 L295 92.92 L295.5 92.49 L296 92.06 L296.5 91.62 L297 91.19 L297.5 90.76 L298 90.32 L298.5 89.89 L299 89.46 L299.5 89.02 L300 88.59 L300.5 88.16 L301 87.72 L301.5 87.29 L302 86.86 L302.5 86.43 L303 85.99 L303.5 85.56 L304 85.13 L304.5 84.69 L305 84.26 L305.5 83.83 L306 83.39 L306.5 82.96 L307 82.53 L307.5 82.1 L308 81.66 L308.5 81.23 L309 80.8 L309.5 80.36 L310 79.93 L310.5 79.48 L311 79.04 L311.5 78.59 L312 78.15" fill="none" stroke="#f98e09" stroke-width="1.15" stroke-linejoin="round" stroke-linecap="butt" clip-path="url(#c1)"/>
<path d="M39 170.02 L39.5 170 L40 169.98 L40.5 169.96 L41 169.93 L41.5 169.91 L42 169.88 L42.5 169.86 L43 169.83 L43.5 169.81 L44 169.78 L44.5 169.76 L45 169.73 L45.5 169.71 L46 169.69 L46.5 169.67 L47 169.65 L47.5 169.64 L48 169.62 L48.5 169.61 L49 169.61 L49.5 169.6 L50 169.6 L50.5 169.6 L51 169.61 L51.5 169.61 L52 169.62 L52.5 169.64 L53 169.65 L53.5 169.67 L54 169.69 L54.5 169.71 L55 169.73 L55.5 169.76 L56 169.78 L56.5 169.81 L57 169.83 L57.5 169.86 L58 169.88 L58.5 169.91 L59 169.93 L59.5 169.96 L60 169.98 L60.5 170 L61 170.02 L61.5 170.04 L62 170.06 L62.5 170.07 L63 170.09 L63.5 170.1 L64 170.12 L64.5 170.13 L65 170.14 L65.5 170.15 L66 170.15 L66.5 170.16 L67 170.17 L67.5 170.17 L68 170.18 L68.5 170.18 L69 170.18 L69.5 170.19 L70 170.19 L70.5 170.19 L71 170.19 L71.5 170.19 L72 170.2 L72.5 170.2 L73 170.2 L73.5 170.2 L74 170.2 L74.5 170.2 L75 170.2 L75.5 170.2 L76 170.2 L76.5 170.2 L77 170.2 L77.5 170.2 L78 170.2 L78.5 170.2 L79 170.2 L79.5 170.2 L80 170.2 L80.5 170.2 L81 170.2 L81.5 170.2 L82 170.2 L82.5 170.2 L83 170.2 L83.5 170.2 L84 170.2 L84.5 170.2 L85 170.2 L85.5 170.2 L86 170.2 L86.5 170.2 L87 170.2 L87.5 170.2 L88 170.2 L88.5 170.21 L89 170.21 L89.5 170.21 L90 170.21 L90.5 170.21 L91 170.21 L91.5 170.21 L92 170.21 L92.5 170.22 L93 170.22 L93.5 170.22 L94 170.22 L94.5 170.23 L95 170.23 L95.5 170.24 L96 170.24 L96.5 170.24 L97 170.25 L97.5 170.26 L98 170.26 L98.5 170.27 L99 170.28 L99.5 170.28 L100 170.29 L100.5 170.3 L101 170.31 L101.5 170.32 L102 170.34 L102.5 170.35 L103 170.36 L103.5 170.37 L104 170.39 L104.5 170.41 L105 170.42 L105.5 170.44 L106 170.46 L106.5 170.48 L107 170.49 L107.5 170.51 L108 170.53 L108.5 170.56 L109 170.58 L109.5 170.6 L110 170.62 L110.5 170.64 L111 170.67 L111.5 170.69 L112 170.71 L112.5 170.74 L113 170.76 L113.5 170.78 L114 170.8 L114.5 170.82 L115 170.84 L115.5 170.86 L116 170.88 L116.5 170.9 L117 170.92 L117.5 170.93 L118 170.95 L118.5 170.96 L119 170.97 L119.5 170.98 L120 170.99 L120.5 170.99 L121 171 L121.5 171 L122 171 L122.5 171 L123 171 L123.5 170.99 L124 170.99 L124.5 170.98 L125 170.97 L125.5 170.96 L126 170.94 L126.5 170.93 L127 170.92 L127.5 170.9 L128 170.88 L128.5 170.86 L129 170.84 L129.5 170.82 L130 170.8 L130.5 170.78 L131 170.76 L131.5 170.73 L132 170.71 L132.5 170.69 L133 170.66 L133.5 170.64 L134 170.62 L134.5 170.6 L135 170.57 L135.5 170.55 L136 170.53 L136.5 170.51 L137 170.48 L137.5 170.46 L138 170.44 L138.5 170.42 L139 170.4 L139.5 170.38 L140 170.36 L140.5 170.35 L141 170.33 L141.5 170.31 L142 170.29 L142.5 170.28 L143 170.26 L143.5 170.24 L144 170.23 L144.5 170.21 L145 170.19 L145.5 170.18 L146 170.16 L146.5 170.14 L147 170.13 L147.5 170.11 L148 170.09 L148.5 170.08 L149 170.06 L149.5 170.04 L150 170.02 L150.5 170.01 L151 169.99 L151.5 169.97 L152 169.96 L152.5 169.94 L153 169.93 L153.5 169.91 L154 169.9 L154.5 169.88 L155 169.87 L155.5 169.86 L156 169.85 L156.5 169.84 L157 169.83 L157.5 169.82 L158 169.81 L158.5 169.81 L159 169.8 L159.5 169.8 L160 169.8 L160.5 169.8 L161 169.8 L161.5 169.81 L162 169.81 L162.5 169.82 L163 169.82 L163.5 169.83 L164 169.84 L164.5 169.85 L165 169.86 L165.5 169.88 L166 169.89 L166.5 169.9 L167 169.92 L167.5 169.93 L168 169.94 L168.5 169.96 L169 169.97 L169.5 169.99 L170 170 L170.5 170.01 L171 170.03 L171.5 170.04 L172 170.05 L172.5 170.06 L173 170.08 L173.5 170.09 L174 170.1 L174.5 170.11 L175 170.12 L175.5 170.12 L176 170.13 L176.5 170.14 L177 170.15 L177.5 170.15 L178 170.16 L178.5 170.16 L179 170.17 L179.5 170.17 L180 170.18 L180.5 170.18 L181 170.18 L181.5 170.18 L182 170.19 L182.5 170.19 L183 170.19 L183.5 170.19 L184 170.19 L184.5 170.19 L185 170.19 L185.5 170.2 L186 170.2 L186.5 170.2 L187 170.2 L187.5 170.2 L188 170.2 L188.5 170.2 L189 170.2 L189.5 170.2 L190 170.2 L190.5 170.2 L191 170.2 L191.5 170.2 L192 170.2 L192.5 170.2 L193 170.2 L193.5 170.2 L194 170.2 L194.5 170.2 L195 170.2 L195.5 170.2 L196 170.2 L196.5 170.2 L197 170.2 L197.5 170.2 L198 170.2 L198.5 170.2 L199 170.2 L199.5 170.2 L200 170.2 L200.5 170.2 L201 170.2 L201.5 170.2 L202 170.2 L202.5 170.2 L203 170.2 L203.5 170.2 L204 170.2 L204.5 170.2 L205 170.2 L205.5 170.2 L206 170.2 L206.5 170.2 L207 170.2 L207.5 170.2 L208 170.2 L208.5 170.2 L209 170.2 L209.5 170.2 L210 170.2 L210.5 170.2 L211 170.2 L211.5 170.2 L212 170.2 L212.5 170.2 L213 170.2 L213.5 170.2 L214 170.2 L214.5 170.2 L215 170.2 L215.5 170.2 L216 170.2 L216.5 170.2 L217 170.2 L217.5 170.2 L218 170.2 L218.5 170.2 L219 170.2 L219.5 170.2 L220 170.2 L220.5 170.2 L221 170.2 L221.5 170.2 L222 170.2 L222.5 170.2 L223 170.2 L223.5 170.2 L224 170.2 L224.5 170.2 L225 170.2 L225.5 170.2 L226 170.2 L226.5 170.2 L227 170.2 L227.5 170.2 L228 170.2 L228.5 170.2 L229 170.19 L229.5 170.19 L230 170.18 L230.5 170.15 L231 170.11 L231.5 170.04 L232 169.91 L232.5 169.72 L233 169.42 L233.5 168.98 L234 168.34 L234.5 167.47 L235 166.31 L235.5 164.81 L236 162.93 L236.5 160.65 L237 157.96 L237.5 154.88 L238 151.43 L238.5 147.68 L239 143.68 L239.5 139.52 L240 135.28 L240.5 131.04 L241 126.87 L241.5 122.83 L242 118.97 L242.5 115.3 L243 111.84 L243.5 108.55 L244 105.42 L244.5 102.37 L245 99.34 L245.5 97.27 L246 96.7 L246.5 96.12 L247 95.55 L247.5 94.97 L248 94.4 L248.5 93.82 L249 93.25 L249.5 92.67 L250 92.11 L250.5 91.57 L251 91.08 L251.5 90.73 L252 90.66 L252.5 91.06 L253 92.2 L253.5 94.34 L254 97.58 L254.5 101.8 L255 106.63 L255.5 111.49 L256 115.83 L256.5 119.22 L257 121.54 L257.5 122.87 L258 123.45 L258.5 123.54 L259 123.35 L259.5 123.01 L260 122.62 L260.5 122.21 L261 121.78 L261.5 121.36 L262 120.93 L262.5 120.5 L263 120.08 L263.5 119.65 L264 119.22 L264.5 118.79 L265 118.37 L265.5 117.94 L266 117.51 L266.5 117.09 L267 116.66 L267.5 116.23 L268 115.8 L268.5 115.38 L269 114.95 L269.5 114.52 L270 114.1 L270.5 113.67 L271 113.24 L271.5 112.82 L272 112.39 L272.5 111.96 L273 111.53 L273.5 111.11 L274 110.68 L274.5 110.25 L275 109.83 L275.5 109.4 L276 108.97 L276.5 108.54 L277 108.12 L277.5 107.69 L278 107.26 L278.5 106.84 L279 106.41 L279.5 105.98 L280 105.55 L280.5 105.13 L281 104.7 L281.5 104.27 L282 103.85 L282.5 103.42 L283 102.99 L283.5 102.57 L284 102.14 L284.5 101.71 L285 101.28 L285.5 100.86 L286 100.43 L286.5 100 L287 99.58 L287.5 99.15 L288 98.72 L288.5 98.29 L289 97.87 L289.5 97.44 L290 97.01 L290.5 96.59 L291 96.16 L291.5 95.73 L292 95.3 L292.5 94.88 L293 94.45 L293.5 94.02 L294 93.6 L294.5 93.17 L295 92.74 L295.5 92.32 L296 91.89 L296.5 91.46 L297 91.03 L297.5 90.61 L298 90.18 L298.5 89.75 L299 89.33 L299.5 88.9 L300 88.47 L300.5 88.04 L301 87.62 L301.5 87.19 L302 86.76 L302.5 86.34 L303 85.91 L303.5 85.48 L304 85.05 L304.5 84.63 L305 84.2 L305.5 83.77 L306 83.35 L306.5 82.92 L307 82.49 L307.5 82.07 L308 81.64 L308.5 81.21 L309 80.78 L309.5 80.36 L310 79.93 L310.5 79.48 L311 79.04 L311.5 78.59 L312 78.15 L312.5 77.7 L313 77.26 L313.5 76.81 L314 76.37 L314.5 75.92 L315 75.48 L315.5 75.04 L316 74.59 L316.5 74.14 L317 73.7 L317.5 73.26 L318 72.81 L318.5 72.36 L319 71.92 L319.5 71.47 L320 71.03 L320.5 70.59 L321 70.14 L321.5 69.69 L322 69.25 L322.5 68.81 L323 68.36 L323.5 67.91 L324 67.47 L324.5 67.02 L325 66.58 L325.5 66.14 L326 65.69 L326.5 65.24 L327 64.8 L327.5 64.35 L328 63.91 L328.5 63.46 L329 63.02 L329.5 62.57 L330 62.13 L330.5 61.69 L331 61.24 L331.5 60.79 L332 60.35 L332.5 59.9 L333 59.46 L333.5 59.01 L334 58.57 L334.5 58.12 L335 57.68 L335.5 57.24 L336 56.79 L336.5 56.34 L337 55.9 L337.5 55.45 L338 55.01 L338.5 54.56 L339 54.12 L339.5 53.67 L340 53.23 L340.5 52.79 L341 52.34 L341.5 51.89 L342 51.45 L342.5 51 L343 50.56 L343.5 50.11 L344 49.67 L344.5 49.22 L345 48.78 L345.5 48.34 L346 47.89 L346.5 47.44 L347 47 L347.5 46.55 L348 46.11 L348.5 45.66 L349 45.22 L349.5 44.77" fill="none" stroke="#f6d746" stroke-width="1.15" stroke-linejoin="round" stroke-linecap="butt" clip-path="url(#c1)"/>
<rect x="39.5" y="25.5" width="309.5" height="153.2" fill="none" stroke="#262626" stroke-width="0.85"/>
<line x1="39.54" y1="178.7" x2="39.54" y2="179.9" stroke="#262626" stroke-width="0.7"/>
<line x1="44.69" y1="178.7" x2="44.69" y2="179.9" stroke="#262626" stroke-width="0.7"/>
<line x1="49.23" y1="178.7" x2="49.23" y2="179.9" stroke="#262626" stroke-width="0.7"/>
<line x1="53.3" y1="178.7" x2="53.3" y2="180.9" stroke="#262626" stroke-width="0.7"/>
<line x1="80.05" y1="178.7" x2="80.05" y2="179.9" stroke="#262626" stroke-width="0.7"/>
<line x1="95.69" y1="178.7" x2="95.69" y2="179.9" stroke="#262626" stroke-width="0.7"/>
<line x1="106.79" y1="178.7" x2="106.79" y2="179.9" stroke="#262626" stroke-width="0.7"/>
<line x1="115.4" y1="178.7" x2="115.4" y2="179.9" stroke="#262626" stroke-width="0.7"/>
<line x1="122.44" y1="178.7" x2="122.44" y2="179.9" stroke="#262626" stroke-width="0.7"/>
<line x1="128.39" y1="178.7" x2="128.39" y2="179.9" stroke="#262626" stroke-width="0.7"/>
<line x1="133.54" y1="178.7" x2="133.54" y2="179.9" stroke="#262626" stroke-width="0.7"/>
<line x1="138.08" y1="178.7" x2="138.08" y2="179.9" stroke="#262626" stroke-width="0.7"/>
<line x1="142.15" y1="178.7" x2="142.15" y2="180.9" stroke="#262626" stroke-width="0.7"/>
<line x1="168.9" y1="178.7" x2="168.9" y2="179.9" stroke="#262626" stroke-width="0.7"/>
<line x1="184.54" y1="178.7" x2="184.54" y2="179.9" stroke="#262626" stroke-width="0.7"/>
<line x1="195.64" y1="178.7" x2="195.64" y2="179.9" stroke="#262626" stroke-width="0.7"/>
<line x1="204.25" y1="178.7" x2="204.25" y2="179.9" stroke="#262626" stroke-width="0.7"/>
<line x1="211.29" y1="178.7" x2="211.29" y2="179.9" stroke="#262626" stroke-width="0.7"/>
<line x1="217.24" y1="178.7" x2="217.24" y2="179.9" stroke="#262626" stroke-width="0.7"/>
<line x1="222.39" y1="178.7" x2="222.39" y2="179.9" stroke="#262626" stroke-width="0.7"/>
<line x1="226.93" y1="178.7" x2="226.93" y2="179.9" stroke="#262626" stroke-width="0.7"/>
<line x1="231" y1="178.7" x2="231" y2="180.9" stroke="#262626" stroke-width="0.7"/>
<line x1="257.75" y1="178.7" x2="257.75" y2="179.9" stroke="#262626" stroke-width="0.7"/>
<line x1="273.39" y1="178.7" x2="273.39" y2="179.9" stroke="#262626" stroke-width="0.7"/>
<line x1="284.49" y1="178.7" x2="284.49" y2="179.9" stroke="#262626" stroke-width="0.7"/>
<line x1="293.1" y1="178.7" x2="293.1" y2="179.9" stroke="#262626" stroke-width="0.7"/>
<line x1="300.14" y1="178.7" x2="300.14" y2="179.9" stroke="#262626" stroke-width="0.7"/>
<line x1="306.09" y1="178.7" x2="306.09" y2="179.9" stroke="#262626" stroke-width="0.7"/>
<line x1="311.24" y1="178.7" x2="311.24" y2="179.9" stroke="#262626" stroke-width="0.7"/>
<line x1="315.78" y1="178.7" x2="315.78" y2="179.9" stroke="#262626" stroke-width="0.7"/>
<line x1="319.85" y1="178.7" x2="319.85" y2="180.9" stroke="#262626" stroke-width="0.7"/>
<line x1="346.6" y1="178.7" x2="346.6" y2="179.9" stroke="#262626" stroke-width="0.7"/>
<line x1="66.06" y1="25.5" x2="66.06" y2="24.3" stroke="#262626" stroke-width="0.7"/>
<line x1="81.71" y1="25.5" x2="81.71" y2="24.3" stroke="#262626" stroke-width="0.7"/>
<line x1="92.81" y1="25.5" x2="92.81" y2="24.3" stroke="#262626" stroke-width="0.7"/>
<line x1="101.42" y1="25.5" x2="101.42" y2="24.3" stroke="#262626" stroke-width="0.7"/>
<line x1="108.45" y1="25.5" x2="108.45" y2="24.3" stroke="#262626" stroke-width="0.7"/>
<line x1="114.4" y1="25.5" x2="114.4" y2="24.3" stroke="#262626" stroke-width="0.7"/>
<line x1="119.56" y1="25.5" x2="119.56" y2="24.3" stroke="#262626" stroke-width="0.7"/>
<line x1="124.1" y1="25.5" x2="124.1" y2="24.3" stroke="#262626" stroke-width="0.7"/>
<line x1="128.17" y1="25.5" x2="128.17" y2="23.3" stroke="#262626" stroke-width="0.7"/>
<line x1="154.91" y1="25.5" x2="154.91" y2="24.3" stroke="#262626" stroke-width="0.7"/>
<line x1="170.56" y1="25.5" x2="170.56" y2="24.3" stroke="#262626" stroke-width="0.7"/>
<line x1="181.66" y1="25.5" x2="181.66" y2="24.3" stroke="#262626" stroke-width="0.7"/>
<line x1="190.27" y1="25.5" x2="190.27" y2="24.3" stroke="#262626" stroke-width="0.7"/>
<line x1="197.3" y1="25.5" x2="197.3" y2="24.3" stroke="#262626" stroke-width="0.7"/>
<line x1="203.25" y1="25.5" x2="203.25" y2="24.3" stroke="#262626" stroke-width="0.7"/>
<line x1="208.41" y1="25.5" x2="208.41" y2="24.3" stroke="#262626" stroke-width="0.7"/>
<line x1="212.95" y1="25.5" x2="212.95" y2="24.3" stroke="#262626" stroke-width="0.7"/>
<line x1="217.02" y1="25.5" x2="217.02" y2="23.3" stroke="#262626" stroke-width="0.7"/>
<line x1="243.76" y1="25.5" x2="243.76" y2="24.3" stroke="#262626" stroke-width="0.7"/>
<line x1="259.41" y1="25.5" x2="259.41" y2="24.3" stroke="#262626" stroke-width="0.7"/>
<line x1="270.51" y1="25.5" x2="270.51" y2="24.3" stroke="#262626" stroke-width="0.7"/>
<line x1="279.12" y1="25.5" x2="279.12" y2="24.3" stroke="#262626" stroke-width="0.7"/>
<line x1="286.15" y1="25.5" x2="286.15" y2="24.3" stroke="#262626" stroke-width="0.7"/>
<line x1="292.1" y1="25.5" x2="292.1" y2="24.3" stroke="#262626" stroke-width="0.7"/>
<line x1="297.26" y1="25.5" x2="297.26" y2="24.3" stroke="#262626" stroke-width="0.7"/>
<line x1="301.8" y1="25.5" x2="301.8" y2="24.3" stroke="#262626" stroke-width="0.7"/>
<line x1="305.87" y1="25.5" x2="305.87" y2="23.3" stroke="#262626" stroke-width="0.7"/>
<line x1="332.61" y1="25.5" x2="332.61" y2="24.3" stroke="#262626" stroke-width="0.7"/>
<line x1="348.26" y1="25.5" x2="348.26" y2="24.3" stroke="#262626" stroke-width="0.7"/>
<text x="53.6" y="191.6" font-size="10.9" text-anchor="middle" transform="matrix(1 0 0 1.1 0 -19.16)">10<tspan dy="-4.6" font-size="6.9">1</tspan></text>
<text x="142.45" y="191.6" font-size="10.9" text-anchor="middle" transform="matrix(1 0 0 1.1 0 -19.16)">10<tspan dy="-4.6" font-size="6.9">2</tspan></text>
<text x="231.3" y="191.6" font-size="10.9" text-anchor="middle" transform="matrix(1 0 0 1.1 0 -19.16)">10<tspan dy="-4.6" font-size="6.9">3</tspan></text>
<text x="320.15" y="191.6" font-size="10.9" text-anchor="middle" transform="matrix(1 0 0 1.1 0 -19.16)">10<tspan dy="-4.6" font-size="6.9">4</tspan></text>
<text x="128.37" y="19.7" font-size="10.9" text-anchor="middle" transform="matrix(1 0 0 1.1 0 -1.97)">0.1</text>
<text x="217.22" y="19.7" font-size="10.9" text-anchor="middle" transform="matrix(1 0 0 1.1 0 -1.97)">1.0</text>
<text x="306.07" y="19.7" font-size="10.9" text-anchor="middle" transform="matrix(1 0 0 1.1 0 -1.97)">10.0</text>
<text x="165.6" y="204.5" font-size="10.9" textLength="58" lengthAdjust="spacingAndGlyphs" transform="matrix(1 0 0 1.1 0 -20.45)">Height [Mm]</text>
<text x="152" y="8.9" font-size="10.9" textLength="84.5" lengthAdjust="spacingAndGlyphs" transform="matrix(1 0 0 1.1 0 -0.89)">Height [<tspan font-style="italic">r</tspan>/<tspan font-style="italic">R</tspan><tspan dy="2.2" font-size="7">&#8857;</tspan><tspan dy="-2.2"> &#8722; 1]</tspan></text>
<line x1="37.3" y1="170.5" x2="39.5" y2="170.5" stroke="#262626" stroke-width="0.7"/>
<text x="35.4" y="174.7" font-size="10.9" text-anchor="end" transform="matrix(1 0 0 1.1 0 -17.47)">0</text>
<line x1="37.3" y1="129" x2="39.5" y2="129" stroke="#262626" stroke-width="0.7"/>
<text x="35.4" y="133.2" font-size="10.9" text-anchor="end" transform="matrix(1 0 0 1.1 0 -13.32)">50</text>
<line x1="37.3" y1="87.5" x2="39.5" y2="87.5" stroke="#262626" stroke-width="0.7"/>
<text x="35.4" y="91.7" font-size="10.9" text-anchor="end" transform="matrix(1 0 0 1.1 0 -9.17)">100</text>
<line x1="37.3" y1="46" x2="39.5" y2="46" stroke="#262626" stroke-width="0.7"/>
<text x="35.4" y="50.2" font-size="10.9" text-anchor="end" transform="matrix(1 0 0 1.1 0 -5.02)">150</text>
<text x="0" y="0" font-size="11.3" text-anchor="middle" textLength="142" lengthAdjust="spacingAndGlyphs" transform="translate(12.5 103.4) rotate(-90) scale(1 1.1)">Field-aligned velocity [km s<tspan dy="-4.4" font-size="7.8">&#8722;1</tspan><tspan dy="4.4">]</tspan></text>
<rect x="227.5" y="79.4" width="31" height="94.8" fill="none" stroke="#7f7f7f" stroke-width="0.8"/>
<line x1="213" y1="57" x2="258.5" y2="79.4" stroke="#7f7f7f" stroke-width="0.8"/>
<line x1="42.5" y1="155.6" x2="227.5" y2="174.2" stroke="#7f7f7f" stroke-width="0.8"/>
<rect x="42.5" y="57" width="170.5" height="98.6" fill="#fff" stroke="#555" stroke-width="0.85"/>
<path d="M42 151 L118.6 151 L121.8 119.2 L213.5 108.3" fill="none" stroke="#000004" stroke-width="1.15" stroke-linejoin="round" stroke-linecap="butt" clip-path="url(#ci1)"/>
<path d="M42 151 L42.5 151 L43 151 L43.5 151 L44 151 L44.5 151 L45 151 L45.5 151 L46 151 L46.5 151 L47 151 L47.5 151 L48 151 L48.5 151 L49 151 L49.5 151 L50 151 L50.5 151 L51 151 L51.5 151 L52 151 L52.5 151 L53 151 L53.5 151 L54 151 L54.5 151 L55 151 L55.5 151 L56 151 L56.5 151 L57 151 L57.5 151 L58 151 L58.5 151 L59 151 L59.5 151 L60 151 L60.5 151 L61 151 L61.5 151 L62 151 L62.5 151 L63 151 L63.5 151 L64 151 L64.5 151 L65 151 L65.5 151 L66 151 L66.5 151 L67 151 L67.5 151 L68 151 L68.5 151 L69 151 L69.5 151 L70 151 L70.5 151 L71 151 L71.5 151 L72 151 L72.5 151 L73 151 L73.5 151 L74 151 L74.5 151 L75 151 L75.5 151 L76 151 L76.5 151 L77 151 L77.5 151 L78 151 L78.5 151 L79 151 L79.5 151 L80 151 L80.5 151 L81 151 L81.5 151 L82 151 L82.5 151 L83 151 L83.5 151 L84 151 L84.5 151 L85 151 L85.5 151 L86 151 L86.5 151 L87 151 L87.5 151 L88 151 L88.5 151 L89 151 L89.5 151 L90 151 L90.5 151 L91 151 L91.5 151 L92 151 L92.5 151 L93 151 L93.5 151 L94 151 L94.5 151 L95 151 L95.5 151 L96 151 L96.5 151 L97 151 L97.5 151 L98 151 L98.5 151 L99 151 L99.5 150.99 L100 150.99 L100.5 150.98 L101 150.97 L101.5 150.96 L102 150.93 L102.5 150.9 L103 150.84 L103.5 150.77 L104 150.66 L104.5 150.51 L105 150.3 L105.5 150.03 L106 149.67 L106.5 149.22 L107 148.64 L107.5 147.93 L108 147.05 L108.5 146.01 L109 144.77 L109.5 143.34 L110 141.69 L110.5 139.83 L111 137.76 L111.5 135.48 L112 133.01 L112.5 130.37 L113 127.58 L113.5 124.67 L114 121.66 L114.5 118.6 L115 115.5 L115.5 112.4 L116 109.34 L116.5 106.34 L117 103.41 L117.5 100.59 L118 97.88 L118.5 95.3 L119 92.84 L119.5 90.51 L120 88.3 L120.5 86.2 L121 84.19 L121.5 82.27 L122 80.4 L122.5 78.57 L123 76.76 L123.5 76.79 L124 76.88 L124.5 77.04 L125 77.31 L125.5 77.7 L126 78.23 L126.5 78.95 L127 79.85 L127.5 80.97 L128 82.31 L128.5 83.87 L129 85.63 L129.5 87.57 L130 89.66 L130.5 91.85 L131 94.07 L131.5 96.29 L132 98.44 L132.5 100.47 L133 102.34 L133.5 104.03 L134 105.5 L134.5 106.76 L135 107.81 L135.5 108.67 L136 109.34 L136.5 109.86 L137 110.24 L137.5 110.52 L138 110.72 L138.5 110.85 L139 110.93 L139.5 110.98 L140 111 L140.5 111.01 L141 111 L141.5 110.99 L142 110.98 L142.5 110.96 L143 110.94 L143.5 110.92 L144 110.89 L144.5 110.87 L145 110.85 L145.5 110.83 L146 110.8 L146.5 110.78 L147 110.76 L147.5 110.74 L148 110.71 L148.5 110.69 L149 110.67 L149.5 110.65 L150 110.62 L150.5 110.6 L151 110.58 L151.5 110.56 L152 110.53 L152.5 110.51 L153 110.49 L153.5 110.47 L154 110.44 L154.5 110.42 L155 110.4 L155.5 110.38 L156 110.35 L156.5 110.33 L157 110.31 L157.5 110.29 L158 110.27 L158.5 110.24 L159 110.22 L159.5 110.2 L160 110.17 L160.5 110.15 L161 110.13 L161.5 110.11 L162 110.08 L162.5 110.06 L163 110.04 L163.5 110.02 L164 109.99 L164.5 109.97 L165 109.95 L165.5 109.93 L166 109.91 L166.5 109.88 L167 109.86 L167.5 109.84 L168 109.81 L168.5 109.79 L169 109.77 L169.5 109.75 L170 109.72 L170.5 109.7 L171 109.68 L171.5 109.66 L172 109.63 L172.5 109.61 L173 109.59 L173.5 109.57 L174 109.55 L174.5 109.52 L175 109.5 L175.5 109.48 L176 109.45 L176.5 109.43 L177 109.41 L177.5 109.39 L178 109.36 L178.5 109.34 L179 109.32 L179.5 109.3 L180 109.27 L180.5 109.25 L181 109.23 L181.5 109.21 L182 109.19 L182.5 109.16 L183 109.14 L183.5 109.12 L184 109.09 L184.5 109.07 L185 109.05 L185.5 109.03 L186 109 L186.5 108.98 L187 108.96 L187.5 108.94 L188 108.91 L188.5 108.89 L189 108.87 L189.5 108.85 L190 108.83 L190.5 108.8 L191 108.78 L191.5 108.76 L192 108.73 L192.5 108.71 L193 108.69 L193.5 108.67 L194 108.64 L194.5 108.62 L195 108.6 L195.5 108.58 L196 108.56 L196.5 108.53 L197 108.51 L197.5 108.49 L198 108.47 L198.5 108.44 L199 108.42 L199.5 108.4 L200 108.38 L200.5 108.35 L201 108.33 L201.5 108.31 L202 108.28 L202.5 108.26 L203 108.24 L203.5 108.22 L204 108.19 L204.5 108.17 L205 108.15 L205.5 108.13 L206 108.11 L206.5 108.08 L207 108.06 L207.5 108.04 L208 108.02 L208.5 107.99 L209 107.97 L209.5 107.95 L210 107.92 L210.5 107.9 L211 107.88 L211.5 107.86 L212 107.83 L212.5 107.81 L213 107.79 L213.5 107.77" fill="none" stroke="#2b0b57" stroke-width="1.15" stroke-linejoin="round" stroke-linecap="butt" clip-path="url(#ci1)"/>
<path d="M42 151 L42.5 151 L43 151 L43.5 151 L44 151 L44.5 151 L45 151 L45.5 151 L46 151 L46.5 151 L47 151 L47.5 151 L48 151 L48.5 151 L49 151 L49.5 151 L50 151 L50.5 151 L51 151 L51.5 151 L52 151 L52.5 151 L53 151 L53.5 151 L54 151 L54.5 151 L55 151 L55.5 151 L56 151 L56.5 151 L57 151 L57.5 151 L58 151 L58.5 151 L59 151 L59.5 151 L60 151 L60.5 151 L61 151 L61.5 151 L62 151 L62.5 151 L63 151 L63.5 151 L64 151 L64.5 151 L65 151 L65.5 151 L66 151 L66.5 151 L67 151 L67.5 151 L68 151 L68.5 151 L69 151 L69.5 151 L70 151 L70.5 151 L71 151 L71.5 151 L72 151 L72.5 151 L73 151 L73.5 151 L74 151 L74.5 151 L75 151 L75.5 151 L76 151 L76.5 151 L77 151 L77.5 151 L78 151 L78.5 151 L79 151 L79.5 151 L80 151 L80.5 151 L81 151 L81.5 151 L82 151 L82.5 151 L83 151 L83.5 151 L84 151 L84.5 151 L85 150.99 L85.5 150.99 L86 150.99 L86.5 150.99 L87 150.98 L87.5 150.97 L88 150.96 L88.5 150.95 L89 150.94 L89.5 150.92 L90 150.89 L90.5 150.86 L91 150.82 L91.5 150.77 L92 150.7 L92.5 150.63 L93 150.53 L93.5 150.42 L94 150.28 L94.5 150.12 L95 149.93 L95.5 149.71 L96 149.44 L96.5 149.14 L97 148.79 L97.5 148.39 L98 147.93 L98.5 147.41 L99 146.83 L99.5 146.18 L100 145.46 L100.5 144.67 L101 143.8 L101.5 142.85 L102 141.82 L102.5 140.71 L103 139.52 L103.5 138.25 L104 136.9 L104.5 135.47 L105 133.97 L105.5 132.41 L106 130.78 L106.5 129.09 L107 127.35 L107.5 125.57 L108 123.74 L108.5 121.89 L109 120.01 L109.5 118.11 L110 116.2 L110.5 114.29 L111 112.39 L111.5 110.5 L112 108.63 L112.5 106.78 L113 104.95 L113.5 103.17 L114 101.42 L114.5 99.71 L115 98.05 L115.5 96.43 L116 94.85 L116.5 93.32 L117 91.84 L117.5 90.41 L118 89.01 L118.5 87.66 L119 86.34 L119.5 85.06 L120 83.8 L120.5 82.56 L121 81.35 L121.5 80.14 L122 78.94 L122.5 77.73 L123 76.51 L123.5 76.41 L124 76.3 L124.5 76.2 L125 76.1 L125.5 76 L126 75.9 L126.5 75.8 L127 75.7 L127.5 75.61 L128 75.52 L128.5 75.44 L129 75.37 L129.5 75.3 L130 75.25 L130.5 75.22 L131 75.2 L131.5 75.21 L132 75.24 L132.5 75.31 L133 75.43 L133.5 75.58 L134 75.8 L134.5 76.07 L135 76.41 L135.5 76.83 L136 77.32 L136.5 77.91 L137 78.58 L137.5 79.35 L138 80.22 L138.5 81.19 L139 82.25 L139.5 83.39 L140 84.63 L140.5 85.93 L141 87.3 L141.5 88.72 L142 90.18 L142.5 91.66 L143 93.15 L143.5 94.62 L144 96.07 L144.5 97.49 L145 98.85 L145.5 100.14 L146 101.36 L146.5 102.5 L147 103.55 L147.5 104.51 L148 105.37 L148.5 106.14 L149 106.83 L149.5 107.42 L150 107.94 L150.5 108.38 L151 108.75 L151.5 109.05 L152 109.31 L152.5 109.51 L153 109.67 L153.5 109.8 L154 109.89 L154.5 109.96 L155 110.01 L155.5 110.04 L156 110.06 L156.5 110.07 L157 110.07 L157.5 110.06 L158 110.05 L158.5 110.04 L159 110.02 L159.5 110 L160 109.97 L160.5 109.95 L161 109.93 L161.5 109.9 L162 109.88 L162.5 109.85 L163 109.82 L163.5 109.8 L164 109.77 L164.5 109.75 L165 109.72 L165.5 109.69 L166 109.67 L166.5 109.64 L167 109.61 L167.5 109.59 L168 109.56 L168.5 109.53 L169 109.51 L169.5 109.48 L170 109.46 L170.5 109.43 L171 109.4 L171.5 109.38 L172 109.35 L172.5 109.32 L173 109.3 L173.5 109.27 L174 109.24 L174.5 109.22 L175 109.19 L175.5 109.17 L176 109.14 L176.5 109.11 L177 109.09 L177.5 109.06 L178 109.03 L178.5 109.01 L179 108.98 L179.5 108.96 L180 108.93 L180.5 108.9 L181 108.88 L181.5 108.85 L182 108.82 L182.5 108.8 L183 108.77 L183.5 108.74 L184 108.72 L184.5 108.69 L185 108.67 L185.5 108.64 L186 108.61 L186.5 108.59 L187 108.56 L187.5 108.53 L188 108.51 L188.5 108.48 L189 108.45 L189.5 108.43 L190 108.4 L190.5 108.38 L191 108.35 L191.5 108.32 L192 108.3 L192.5 108.27 L193 108.24 L193.5 108.22 L194 108.19 L194.5 108.16 L195 108.14 L195.5 108.11 L196 108.09 L196.5 108.06 L197 108.03 L197.5 108.01 L198 107.98 L198.5 107.95 L199 107.93 L199.5 107.9 L200 107.88 L200.5 107.85 L201 107.82 L201.5 107.8 L202 107.77 L202.5 107.74 L203 107.72 L203.5 107.69 L204 107.66 L204.5 107.64 L205 107.61 L205.5 107.59 L206 107.56 L206.5 107.53 L207 107.51 L207.5 107.48 L208 107.45 L208.5 107.43 L209 107.4 L209.5 107.37 L210 107.35 L210.5 107.32 L211 107.3 L211.5 107.27 L212 107.24 L212.5 107.22 L213 107.19 L213.5 107.17" fill="none" stroke="#6a176e" stroke-width="1.15" stroke-linejoin="round" stroke-linecap="butt" clip-path="url(#ci1)"/>
<path d="M42 151 L42.5 151 L43 151 L43.5 151 L44 151 L44.5 151 L45 151 L45.5 151 L46 151 L46.5 151 L47 151 L47.5 151 L48 151 L48.5 151 L49 151 L49.5 151 L50 151 L50.5 151 L51 151 L51.5 151 L52 151 L52.5 151 L53 151 L53.5 151 L54 151 L54.5 151 L55 151 L55.5 151 L56 151 L56.5 151 L57 151 L57.5 151 L58 151 L58.5 151 L59 151 L59.5 151 L60 151 L60.5 151 L61 151 L61.5 151 L62 151 L62.5 151 L63 151 L63.5 151 L64 151 L64.5 151 L65 151 L65.5 151 L66 151 L66.5 151 L67 151 L67.5 151 L68 151 L68.5 151 L69 151 L69.5 151 L70 151 L70.5 151 L71 151 L71.5 151 L72 151 L72.5 150.99 L73 150.99 L73.5 150.99 L74 150.99 L74.5 150.98 L75 150.98 L75.5 150.97 L76 150.97 L76.5 150.96 L77 150.95 L77.5 150.94 L78 150.93 L78.5 150.91 L79 150.89 L79.5 150.86 L80 150.84 L80.5 150.8 L81 150.76 L81.5 150.72 L82 150.66 L82.5 150.6 L83 150.53 L83.5 150.45 L84 150.35 L84.5 150.24 L85 150.12 L85.5 149.98 L86 149.82 L86.5 149.64 L87 149.44 L87.5 149.21 L88 148.97 L88.5 148.69 L89 148.38 L89.5 148.05 L90 147.68 L90.5 147.28 L91 146.84 L91.5 146.36 L92 145.85 L92.5 145.29 L93 144.7 L93.5 144.06 L94 143.37 L94.5 142.65 L95 141.87 L95.5 141.06 L96 140.19 L96.5 139.29 L97 138.34 L97.5 137.34 L98 136.31 L98.5 135.23 L99 134.11 L99.5 132.95 L100 131.76 L100.5 130.53 L101 129.27 L101.5 127.99 L102 126.67 L102.5 125.33 L103 123.97 L103.5 122.6 L104 121.2 L104.5 119.8 L105 118.39 L105.5 116.97 L106 115.54 L106.5 114.12 L107 112.7 L107.5 111.29 L108 109.88 L108.5 108.49 L109 107.11 L109.5 105.74 L110 104.39 L110.5 103.06 L111 101.75 L111.5 100.47 L112 99.2 L112.5 97.96 L113 96.75 L113.5 95.56 L114 94.39 L114.5 93.25 L115 92.13 L115.5 91.04 L116 89.97 L116.5 88.92 L117 87.89 L117.5 86.89 L118 85.9 L118.5 84.93 L119 83.97 L119.5 83.02 L120 82.08 L120.5 81.15 L121 80.23 L121.5 79.3 L122 78.38 L122.5 77.45 L123 76.51 L123.5 76.41 L124 76.3 L124.5 76.2 L125 76.09 L125.5 75.99 L126 75.88 L126.5 75.78 L127 75.67 L127.5 75.57 L128 75.46 L128.5 75.36 L129 75.25 L129.5 75.15 L130 75.04 L130.5 74.94 L131 74.84 L131.5 74.73 L132 74.63 L132.5 74.53 L133 74.43 L133.5 74.33 L134 74.23 L134.5 74.14 L135 74.05 L135.5 73.96 L136 73.88 L136.5 73.8 L137 73.73 L137.5 73.66 L138 73.61 L138.5 73.56 L139 73.53 L139.5 73.51 L140 73.51 L140.5 73.53 L141 73.58 L141.5 73.64 L142 73.74 L142.5 73.87 L143 74.04 L143.5 74.24 L144 74.49 L144.5 74.78 L145 75.13 L145.5 75.52 L146 75.97 L146.5 76.48 L147 77.05 L147.5 77.68 L148 78.37 L148.5 79.12 L149 79.93 L149.5 80.8 L150 81.73 L150.5 82.7 L151 83.73 L151.5 84.8 L152 85.91 L152.5 87.05 L153 88.21 L153.5 89.39 L154 90.58 L154.5 91.77 L155 92.96 L155.5 94.13 L156 95.28 L156.5 96.4 L157 97.48 L157.5 98.53 L158 99.53 L158.5 100.49 L159 101.39 L159.5 102.23 L160 103.02 L160.5 103.75 L161 104.42 L161.5 105.03 L162 105.58 L162.5 106.09 L163 106.53 L163.5 106.93 L164 107.28 L164.5 107.58 L165 107.85 L165.5 108.08 L166 108.27 L166.5 108.43 L167 108.57 L167.5 108.68 L168 108.77 L168.5 108.83 L169 108.89 L169.5 108.93 L170 108.95 L170.5 108.97 L171 108.98 L171.5 108.98 L172 108.97 L172.5 108.96 L173 108.95 L173.5 108.93 L174 108.91 L174.5 108.89 L175 108.87 L175.5 108.84 L176 108.81 L176.5 108.79 L177 108.76 L177.5 108.73 L178 108.7 L178.5 108.67 L179 108.64 L179.5 108.61 L180 108.58 L180.5 108.55 L181 108.52 L181.5 108.49 L182 108.46 L182.5 108.43 L183 108.4 L183.5 108.37 L184 108.34 L184.5 108.31 L185 108.28 L185.5 108.25 L186 108.22 L186.5 108.19 L187 108.16 L187.5 108.13 L188 108.1 L188.5 108.07 L189 108.04 L189.5 108.01 L190 107.98 L190.5 107.95 L191 107.92 L191.5 107.89 L192 107.86 L192.5 107.83 L193 107.8 L193.5 107.77 L194 107.74 L194.5 107.71 L195 107.68 L195.5 107.65 L196 107.62 L196.5 107.59 L197 107.56 L197.5 107.53 L198 107.5 L198.5 107.47 L199 107.44 L199.5 107.41 L200 107.37 L200.5 107.34 L201 107.31 L201.5 107.28 L202 107.25 L202.5 107.22 L203 107.19 L203.5 107.16 L204 107.13 L204.5 107.1 L205 107.07 L205.5 107.04 L206 107.01 L206.5 106.98 L207 106.95 L207.5 106.92 L208 106.89 L208.5 106.86 L209 106.83 L209.5 106.8 L210 106.77 L210.5 106.74 L211 106.71 L211.5 106.68 L212 106.65 L212.5 106.62 L213 106.59 L213.5 106.57" fill="none" stroke="#a82e5f" stroke-width="1.15" stroke-linejoin="round" stroke-linecap="butt" clip-path="url(#ci1)"/>
<path d="M42 151 L42.5 151 L43 151 L43.5 151 L44 151 L44.5 151 L45 151 L45.5 151 L46 151 L46.5 151 L47 151 L47.5 151 L48 151 L48.5 151 L49 151 L49.5 151 L50 151 L50.5 151 L51 151 L51.5 151 L52 151 L52.5 151 L53 151 L53.5 151 L54 151 L54.5 151 L55 151 L55.5 151 L56 151 L56.5 151 L57 151 L57.5 151 L58 151 L58.5 151 L59 150.99 L59.5 150.99 L60 150.99 L60.5 150.99 L61 150.99 L61.5 150.99 L62 150.98 L62.5 150.98 L63 150.97 L63.5 150.97 L64 150.96 L64.5 150.96 L65 150.95 L65.5 150.94 L66 150.93 L66.5 150.92 L67 150.9 L67.5 150.88 L68 150.87 L68.5 150.84 L69 150.82 L69.5 150.79 L70 150.76 L70.5 150.72 L71 150.68 L71.5 150.63 L72 150.58 L72.5 150.52 L73 150.46 L73.5 150.39 L74 150.31 L74.5 150.22 L75 150.12 L75.5 150.01 L76 149.89 L76.5 149.76 L77 149.61 L77.5 149.45 L78 149.28 L78.5 149.09 L79 148.89 L79.5 148.67 L80 148.43 L80.5 148.17 L81 147.89 L81.5 147.59 L82 147.27 L82.5 146.93 L83 146.56 L83.5 146.17 L84 145.76 L84.5 145.32 L85 144.85 L85.5 144.36 L86 143.84 L86.5 143.3 L87 142.72 L87.5 142.12 L88 141.5 L88.5 140.84 L89 140.16 L89.5 139.44 L90 138.7 L90.5 137.94 L91 137.15 L91.5 136.33 L92 135.48 L92.5 134.61 L93 133.72 L93.5 132.8 L94 131.86 L94.5 130.9 L95 129.92 L95.5 128.92 L96 127.91 L96.5 126.87 L97 125.82 L97.5 124.76 L98 123.69 L98.5 122.6 L99 121.51 L99.5 120.4 L100 119.3 L100.5 118.18 L101 117.06 L101.5 115.94 L102 114.83 L102.5 113.71 L103 112.59 L103.5 111.48 L104 110.37 L104.5 109.27 L105 108.17 L105.5 107.08 L106 106 L106.5 104.94 L107 103.88 L107.5 102.84 L108 101.8 L108.5 100.78 L109 99.78 L109.5 98.79 L110 97.81 L110.5 96.85 L111 95.9 L111.5 94.97 L112 94.05 L112.5 93.15 L113 92.26 L113.5 91.38 L114 90.52 L114.5 89.68 L115 88.84 L115.5 88.02 L116 87.21 L116.5 86.41 L117 85.62 L117.5 84.84 L118 84.07 L118.5 83.3 L119 82.54 L119.5 81.79 L120 81.04 L120.5 80.29 L121 79.54 L121.5 78.78 L122 78.03 L122.5 77.27 L123 76.51 L123.5 76.41 L124 76.3 L124.5 76.2 L125 76.09 L125.5 75.99 L126 75.88 L126.5 75.78 L127 75.67 L127.5 75.57 L128 75.46 L128.5 75.36 L129 75.25 L129.5 75.15 L130 75.04 L130.5 74.94 L131 74.83 L131.5 74.73 L132 74.62 L132.5 74.52 L133 74.41 L133.5 74.31 L134 74.2 L134.5 74.1 L135 73.99 L135.5 73.89 L136 73.79 L136.5 73.68 L137 73.58 L137.5 73.48 L138 73.37 L138.5 73.27 L139 73.17 L139.5 73.07 L140 72.98 L140.5 72.88 L141 72.78 L141.5 72.69 L142 72.6 L142.5 72.52 L143 72.43 L143.5 72.35 L144 72.28 L144.5 72.21 L145 72.15 L145.5 72.1 L146 72.05 L146.5 72.02 L147 72 L147.5 71.99 L148 71.99 L148.5 72.01 L149 72.05 L149.5 72.1 L150 72.18 L150.5 72.28 L151 72.4 L151.5 72.56 L152 72.74 L152.5 72.95 L153 73.2 L153.5 73.48 L154 73.8 L154.5 74.15 L155 74.55 L155.5 74.98 L156 75.46 L156.5 75.98 L157 76.54 L157.5 77.14 L158 77.79 L158.5 78.48 L159 79.21 L159.5 79.97 L160 80.78 L160.5 81.62 L161 82.49 L161.5 83.39 L162 84.31 L162.5 85.26 L163 86.22 L163.5 87.2 L164 88.19 L164.5 89.18 L165 90.18 L165.5 91.17 L166 92.15 L166.5 93.12 L167 94.08 L167.5 95.01 L168 95.93 L168.5 96.81 L169 97.67 L169.5 98.49 L170 99.28 L170.5 100.03 L171 100.75 L171.5 101.42 L172 102.06 L172.5 102.65 L173 103.21 L173.5 103.72 L174 104.2 L174.5 104.63 L175 105.03 L175.5 105.39 L176 105.72 L176.5 106.02 L177 106.28 L177.5 106.52 L178 106.72 L178.5 106.9 L179 107.06 L179.5 107.2 L180 107.31 L180.5 107.41 L181 107.49 L181.5 107.56 L182 107.61 L182.5 107.66 L183 107.69 L183.5 107.71 L184 107.72 L184.5 107.73 L185 107.73 L185.5 107.72 L186 107.72 L186.5 107.7 L187 107.68 L187.5 107.66 L188 107.64 L188.5 107.62 L189 107.59 L189.5 107.56 L190 107.54 L190.5 107.51 L191 107.47 L191.5 107.44 L192 107.41 L192.5 107.38 L193 107.35 L193.5 107.31 L194 107.28 L194.5 107.25 L195 107.21 L195.5 107.18 L196 107.15 L196.5 107.11 L197 107.08 L197.5 107.04 L198 107.01 L198.5 106.98 L199 106.94 L199.5 106.91 L200 106.87 L200.5 106.84 L201 106.81 L201.5 106.77 L202 106.74 L202.5 106.7 L203 106.67 L203.5 106.64 L204 106.6 L204.5 106.57 L205 106.53 L205.5 106.5 L206 106.47 L206.5 106.43 L207 106.4 L207.5 106.36 L208 106.33 L208.5 106.3 L209 106.26 L209.5 106.23 L210 106.19 L210.5 106.16 L211 106.13 L211.5 106.09 L212 106.06 L212.5 106.02 L213 105.99 L213.5 105.97" fill="none" stroke="#dd513a" stroke-width="1.15" stroke-linejoin="round" stroke-linecap="butt" clip-path="url(#ci1)"/>
<path d="M42 151 L42.5 151 L43 151 L43.5 151 L44 151 L44.5 151 L45 151 L45.5 151 L46 150.99 L46.5 150.99 L47 150.99 L47.5 150.99 L48 150.99 L48.5 150.99 L49 150.99 L49.5 150.98 L50 150.98 L50.5 150.98 L51 150.97 L51.5 150.97 L52 150.96 L52.5 150.96 L53 150.95 L53.5 150.95 L54 150.94 L54.5 150.93 L55 150.92 L55.5 150.91 L56 150.9 L56.5 150.88 L57 150.87 L57.5 150.85 L58 150.83 L58.5 150.8 L59 150.78 L59.5 150.75 L60 150.72 L60.5 150.69 L61 150.65 L61.5 150.61 L62 150.56 L62.5 150.52 L63 150.46 L63.5 150.4 L64 150.34 L64.5 150.27 L65 150.19 L65.5 150.1 L66 150.01 L66.5 149.91 L67 149.81 L67.5 149.69 L68 149.57 L68.5 149.43 L69 149.29 L69.5 149.14 L70 148.97 L70.5 148.79 L71 148.61 L71.5 148.4 L72 148.19 L72.5 147.96 L73 147.72 L73.5 147.46 L74 147.19 L74.5 146.9 L75 146.6 L75.5 146.28 L76 145.95 L76.5 145.59 L77 145.22 L77.5 144.83 L78 144.43 L78.5 144 L79 143.56 L79.5 143.1 L80 142.62 L80.5 142.12 L81 141.6 L81.5 141.06 L82 140.5 L82.5 139.92 L83 139.33 L83.5 138.71 L84 138.08 L84.5 137.43 L85 136.76 L85.5 136.07 L86 135.37 L86.5 134.65 L87 133.91 L87.5 133.15 L88 132.38 L88.5 131.6 L89 130.8 L89.5 129.99 L90 129.16 L90.5 128.32 L91 127.47 L91.5 126.61 L92 125.74 L92.5 124.86 L93 123.97 L93.5 123.08 L94 122.17 L94.5 121.26 L95 120.35 L95.5 119.43 L96 118.51 L96.5 117.58 L97 116.66 L97.5 115.73 L98 114.8 L98.5 113.87 L99 112.94 L99.5 112.02 L100 111.1 L100.5 110.18 L101 109.26 L101.5 108.35 L102 107.45 L102.5 106.55 L103 105.66 L103.5 104.78 L104 103.9 L104.5 103.03 L105 102.17 L105.5 101.31 L106 100.47 L106.5 99.64 L107 98.81 L107.5 97.99 L108 97.19 L108.5 96.39 L109 95.61 L109.5 94.83 L110 94.06 L110.5 93.31 L111 92.56 L111.5 91.82 L112 91.09 L112.5 90.37 L113 89.66 L113.5 88.96 L114 88.27 L114.5 87.58 L115 86.9 L115.5 86.23 L116 85.56 L116.5 84.9 L117 84.24 L117.5 83.59 L118 82.94 L118.5 82.3 L119 81.66 L119.5 81.02 L120 80.38 L120.5 79.74 L121 79.1 L121.5 78.46 L122 77.81 L122.5 77.16 L123 76.51 L123.5 76.41 L124 76.3 L124.5 76.2 L125 76.09 L125.5 75.99 L126 75.88 L126.5 75.78 L127 75.67 L127.5 75.57 L128 75.46 L128.5 75.36 L129 75.25 L129.5 75.15 L130 75.04 L130.5 74.94 L131 74.83 L131.5 74.73 L132 74.62 L132.5 74.52 L133 74.41 L133.5 74.31 L134 74.2 L134.5 74.1 L135 73.99 L135.5 73.89 L136 73.78 L136.5 73.68 L137 73.57 L137.5 73.47 L138 73.36 L138.5 73.26 L139 73.15 L139.5 73.05 L140 72.94 L140.5 72.84 L141 72.73 L141.5 72.63 L142 72.52 L142.5 72.42 L143 72.31 L143.5 72.21 L144 72.1 L144.5 72 L145 71.9 L145.5 71.79 L146 71.69 L146.5 71.59 L147 71.49 L147.5 71.38 L148 71.28 L148.5 71.18 L149 71.09 L149.5 70.99 L150 70.89 L150.5 70.8 L151 70.7 L151.5 70.61 L152 70.53 L152.5 70.44 L153 70.36 L153.5 70.28 L154 70.21 L154.5 70.14 L155 70.08 L155.5 70.03 L156 69.98 L156.5 69.94 L157 69.91 L157.5 69.88 L158 69.87 L158.5 69.88 L159 69.89 L159.5 69.92 L160 69.97 L160.5 70.03 L161 70.11 L161.5 70.21 L162 70.34 L162.5 70.48 L163 70.65 L163.5 70.85 L164 71.07 L164.5 71.32 L165 71.6 L165.5 71.92 L166 72.26 L166.5 72.63 L167 73.04 L167.5 73.48 L168 73.96 L168.5 74.47 L169 75.01 L169.5 75.59 L170 76.2 L170.5 76.85 L171 77.52 L171.5 78.23 L172 78.96 L172.5 79.72 L173 80.51 L173.5 81.32 L174 82.15 L174.5 83 L175 83.86 L175.5 84.74 L176 85.63 L176.5 86.52 L177 87.42 L177.5 88.32 L178 89.21 L178.5 90.1 L179 90.98 L179.5 91.85 L180 92.71 L180.5 93.55 L181 94.36 L181.5 95.16 L182 95.93 L182.5 96.68 L183 97.4 L183.5 98.09 L184 98.76 L184.5 99.39 L185 99.99 L185.5 100.55 L186 101.09 L186.5 101.59 L187 102.06 L187.5 102.5 L188 102.91 L188.5 103.28 L189 103.63 L189.5 103.95 L190 104.24 L190.5 104.5 L191 104.74 L191.5 104.96 L192 105.15 L192.5 105.32 L193 105.47 L193.5 105.61 L194 105.72 L194.5 105.82 L195 105.91 L195.5 105.98 L196 106.04 L196.5 106.09 L197 106.12 L197.5 106.15 L198 106.17 L198.5 106.19 L199 106.19 L199.5 106.19 L200 106.19 L200.5 106.18 L201 106.17 L201.5 106.15 L202 106.13 L202.5 106.11 L203 106.08 L203.5 106.06 L204 106.03 L204.5 106 L205 105.97 L205.5 105.93 L206 105.9 L206.5 105.87 L207 105.83 L207.5 105.8 L208 105.76 L208.5 105.72 L209 105.69 L209.5 105.65 L210 105.61 L210.5 105.58 L211 105.54 L211.5 105.5 L212 105.46 L212.5 105.43 L213 105.39 L213.5 105.37" fill="none" stroke="#f98e09" stroke-width="1.15" stroke-linejoin="round" stroke-linecap="butt" clip-path="url(#ci1)"/>
<path d="M42 150.9 L42.5 150.89 L43 150.88 L43.5 150.86 L44 150.85 L44.5 150.83 L45 150.81 L45.5 150.79 L46 150.77 L46.5 150.75 L47 150.72 L47.5 150.7 L48 150.67 L48.5 150.64 L49 150.6 L49.5 150.56 L50 150.52 L50.5 150.48 L51 150.43 L51.5 150.38 L52 150.32 L52.5 150.27 L53 150.2 L53.5 150.14 L54 150.06 L54.5 149.99 L55 149.9 L55.5 149.81 L56 149.72 L56.5 149.62 L57 149.51 L57.5 149.4 L58 149.28 L58.5 149.15 L59 149.02 L59.5 148.88 L60 148.73 L60.5 148.57 L61 148.4 L61.5 148.22 L62 148.04 L62.5 147.84 L63 147.64 L63.5 147.43 L64 147.2 L64.5 146.97 L65 146.72 L65.5 146.46 L66 146.2 L66.5 145.92 L67 145.62 L67.5 145.32 L68 145.01 L68.5 144.68 L69 144.34 L69.5 143.99 L70 143.62 L70.5 143.25 L71 142.85 L71.5 142.45 L72 142.04 L72.5 141.61 L73 141.16 L73.5 140.71 L74 140.24 L74.5 139.76 L75 139.27 L75.5 138.76 L76 138.24 L76.5 137.71 L77 137.17 L77.5 136.61 L78 136.04 L78.5 135.46 L79 134.87 L79.5 134.27 L80 133.65 L80.5 133.03 L81 132.39 L81.5 131.75 L82 131.09 L82.5 130.43 L83 129.75 L83.5 129.07 L84 128.38 L84.5 127.68 L85 126.98 L85.5 126.26 L86 125.54 L86.5 124.82 L87 124.08 L87.5 123.35 L88 122.6 L88.5 121.86 L89 121.11 L89.5 120.35 L90 119.59 L90.5 118.84 L91 118.07 L91.5 117.31 L92 116.55 L92.5 115.78 L93 115.01 L93.5 114.25 L94 113.48 L94.5 112.72 L95 111.96 L95.5 111.2 L96 110.44 L96.5 109.68 L97 108.93 L97.5 108.18 L98 107.43 L98.5 106.69 L99 105.95 L99.5 105.22 L100 104.49 L100.5 103.76 L101 103.04 L101.5 102.33 L102 101.62 L102.5 100.92 L103 100.22 L103.5 99.53 L104 98.85 L104.5 98.17 L105 97.5 L105.5 96.83 L106 96.17 L106.5 95.52 L107 94.87 L107.5 94.23 L108 93.6 L108.5 92.97 L109 92.35 L109.5 91.73 L110 91.12 L110.5 90.52 L111 89.92 L111.5 89.33 L112 88.74 L112.5 88.16 L113 87.58 L113.5 87.01 L114 86.44 L114.5 85.87 L115 85.31 L115.5 84.75 L116 84.2 L116.5 83.65 L117 83.1 L117.5 82.55 L118 82 L118.5 81.45 L119 80.91 L119.5 80.36 L120 79.82 L120.5 79.27 L121 78.72 L121.5 78.17 L122 77.62 L122.5 77.07 L123 76.51 L123.5 76.41 L124 76.3 L124.5 76.2 L125 76.09 L125.5 75.99 L126 75.88 L126.5 75.78 L127 75.67 L127.5 75.57 L128 75.46 L128.5 75.36 L129 75.25 L129.5 75.15 L130 75.04 L130.5 74.94 L131 74.83 L131.5 74.73 L132 74.62 L132.5 74.52 L133 74.41 L133.5 74.31 L134 74.2 L134.5 74.1 L135 73.99 L135.5 73.89 L136 73.78 L136.5 73.68 L137 73.57 L137.5 73.47 L138 73.36 L138.5 73.26 L139 73.15 L139.5 73.05 L140 72.94 L140.5 72.84 L141 72.73 L141.5 72.63 L142 72.52 L142.5 72.42 L143 72.31 L143.5 72.21 L144 72.1 L144.5 72 L145 71.89 L145.5 71.79 L146 71.68 L146.5 71.58 L147 71.47 L147.5 71.37 L148 71.26 L148.5 71.16 L149 71.05 L149.5 70.95 L150 70.84 L150.5 70.74 L151 70.63 L151.5 70.53 L152 70.42 L152.5 70.32 L153 70.22 L153.5 70.11 L154 70.01 L154.5 69.9 L155 69.8 L155.5 69.7 L156 69.6 L156.5 69.49 L157 69.39 L157.5 69.29 L158 69.19 L158.5 69.09 L159 69 L159.5 68.9 L160 68.8 L160.5 68.71 L161 68.62 L161.5 68.53 L162 68.44 L162.5 68.36 L163 68.28 L163.5 68.2 L164 68.12 L164.5 68.05 L165 67.99 L165.5 67.93 L166 67.87 L166.5 67.83 L167 67.79 L167.5 67.75 L168 67.73 L168.5 67.71 L169 67.71 L169.5 67.72 L170 67.73 L170.5 67.77 L171 67.81 L171.5 67.87 L172 67.95 L172.5 68.04 L173 68.15 L173.5 68.28 L174 68.43 L174.5 68.61 L175 68.8 L175.5 69.02 L176 69.26 L176.5 69.52 L177 69.81 L177.5 70.13 L178 70.47 L178.5 70.84 L179 71.24 L179.5 71.67 L180 72.12 L180.5 72.61 L181 73.12 L181.5 73.66 L182 74.22 L182.5 74.81 L183 75.43 L183.5 76.07 L184 76.74 L184.5 77.43 L185 78.14 L185.5 78.87 L186 79.61 L186.5 80.38 L187 81.16 L187.5 81.95 L188 82.74 L188.5 83.55 L189 84.37 L189.5 85.18 L190 86 L190.5 86.82 L191 87.63 L191.5 88.44 L192 89.24 L192.5 90.03 L193 90.81 L193.5 91.57 L194 92.32 L194.5 93.05 L195 93.77 L195.5 94.46 L196 95.13 L196.5 95.78 L197 96.4 L197.5 97 L198 97.57 L198.5 98.12 L199 98.64 L199.5 99.14 L200 99.61 L200.5 100.05 L201 100.47 L201.5 100.86 L202 101.22 L202.5 101.56 L203 101.88 L203.5 102.17 L204 102.44 L204.5 102.68 L205 102.91 L205.5 103.11 L206 103.3 L206.5 103.47 L207 103.62 L207.5 103.75 L208 103.87 L208.5 103.97 L209 104.06 L209.5 104.14 L210 104.21 L210.5 104.26 L211 104.31 L211.5 104.34 L212 104.37 L212.5 104.39 L213 104.41 L213.5 104.43" fill="none" stroke="#f6d746" stroke-width="1.15" stroke-linejoin="round" stroke-linecap="butt" clip-path="url(#ci1)"/>
<rect x="42.5" y="57" width="170.5" height="98.6" fill="none" stroke="#6a6a6a" stroke-width="0.85"/>
<rect x="101.3" y="29.3" width="192.6" height="19.8" rx="2" fill="#fff" fill-opacity="0.85" stroke="#d6d6d6" stroke-width="0.8"/>
<line x1="105.5" y1="38.3" x2="129.5" y2="38.3" stroke="#000" stroke-width="1.2"/>
<line x1="206.3" y1="38.3" x2="230.9" y2="38.3" stroke="#f6d746" stroke-width="1.2"/>
<text x="138.2" y="42.3" font-size="10.9" textLength="45.5" lengthAdjust="spacingAndGlyphs" transform="matrix(1 0 0 1.1 0 -4.23)"><tspan font-style="italic">t</tspan> = 0.0 m</text>
<text x="239.4" y="42.3" font-size="10.9" textLength="50.6" lengthAdjust="spacingAndGlyphs" transform="matrix(1 0 0 1.1 0 -4.23)"><tspan font-style="italic">t</tspan> = 30.0 m</text>
<defs><clipPath id="c2"><rect x="39.5" y="254.7" width="307.0" height="153.3"/></clipPath>
<clipPath id="ci2"><rect x="101" y="263" width="230" height="106"/></clipPath></defs>
<path d="M40.4 271.3 L45.3 283.6 L50.3 296 L50.29 299.07 L50.26 303.51 L50.23 308.68 L50.22 313.91 L50.24 318.57 L50.3 322 L50.4 324.09 L50.52 325.34 L50.67 326.01 L50.86 326.36 L51.1 326.67 L51.4 327.2 L51.77 327.89 L52.2 328.51 L52.69 329.09 L53.21 329.64 L53.75 330.17 L54.3 330.7 L54.86 331.22 L55.43 331.73 L56.02 332.21 L56.65 332.69 L57.3 333.15 L58 333.6 L58.7 334.03 L59.39 334.43 L60.11 334.81 L60.91 335.21 L61.83 335.63 L62.9 336.1 L64.19 336.64 L65.66 337.23 L67.26 337.84 L68.89 338.46 L70.5 339.06 L72 339.6 L73.26 340.06 L74.3 340.44 L75.32 340.79 L76.49 341.17 L77.98 341.63 L80 342.2 L82.41 342.85 L85.04 343.54 L88 344.29 L91.41 345.16 L95.37 346.18 L100 347.4 L105.5 348.86 L111.81 350.55" fill="none" stroke="#000004" stroke-width="1.15" stroke-linejoin="round" stroke-linecap="butt" clip-path="url(#c2)"/>
<path d="M226.5 381.4 L242.6 384.2 L242.6 393.7 L256.5 396.5" fill="none" stroke="#000004" stroke-width="1.15" stroke-linejoin="round" stroke-linecap="butt" clip-path="url(#c2)"/>
<path d="M40.2 271.5 L45.1 283.8 L50.1 296.2 L50.09 299.27 L50.06 303.71 L50.03 308.88 L50.02 314.11 L50.04 318.77 L50.1 322.2 L50.2 324.29 L50.32 325.54 L50.47 326.21 L50.66 326.56 L50.9 326.87 L51.2 327.4 L51.57 328.09 L52 328.71 L52.49 329.29 L53.01 329.84 L53.55 330.37 L54.1 330.9 L54.66 331.42 L55.23 331.93 L55.82 332.41 L56.45 332.89 L57.1 333.35 L57.8 333.8 L58.5 334.23 L59.19 334.63 L59.91 335.01 L60.71 335.41 L61.63 335.83 L62.7 336.3 L63.99 336.84 L65.46 337.43 L67.06 338.04 L68.69 338.66 L70.3 339.26 L71.8 339.8 L73.06 340.26 L74.1 340.64 L75.12 340.99 L76.29 341.37 L77.78 341.83 L79.8 342.4 L82.21 343.05 L84.84 343.74 L87.8 344.49 L91.22 345.35 L95.22 346.33 L99.9 347.5 L105.45 348.91 L111.81 350.55" fill="none" stroke="#2b0b57" stroke-width="1.15" stroke-linejoin="round" stroke-linecap="butt" clip-path="url(#c2)"/>
<path d="M226.5 381.43 L226.75 381.48 L227 381.52 L227.25 381.56 L227.5 381.6 L227.75 381.65 L228 381.69 L228.25 381.73 L228.5 381.77 L228.75 381.82 L229 381.86 L229.25 381.9 L229.5 381.94 L229.75 381.99 L230 382.03 L230.25 382.07 L230.5 382.11 L230.75 382.16 L231 382.2 L231.25 382.24 L231.5 382.28 L231.75 382.33 L232 382.37 L232.25 382.41 L232.5 382.45 L232.75 382.5 L233 382.54 L233.25 382.58 L233.5 382.62 L233.75 382.67 L234 382.71 L234.25 382.75 L234.5 382.79 L234.75 382.84 L235 382.88 L235.25 382.92 L235.5 382.96 L235.75 383.01 L236 383.05 L236.25 383.09 L236.5 383.13 L236.75 383.18 L237 383.22 L237.25 383.26 L237.5 383.3 L237.75 383.35 L238 383.39 L238.25 383.43 L238.5 383.47 L238.75 383.52 L239 383.56 L239.25 383.6 L239.5 383.64 L239.75 383.69 L240 383.73 L240.25 383.77 L240.5 383.81 L240.75 383.86 L241 383.9 L241.25 383.97 L241.5 384.38 L241.75 385.35 L242 386.73 L242.25 388.16 L242.5 389.23 L242.75 389.75 L243 389.91 L243.25 390.19 L243.5 390.78 L243.75 391.61 L244 392.52 L244.25 393.32 L244.5 393.87 L244.75 394.11 L245 394.18 L245.25 394.23 L245.5 394.28 L245.75 394.33 L246 394.38 L246.25 394.43 L246.5 394.48 L246.75 394.53 L247 394.58 L247.25 394.63 L247.5 394.68 L247.75 394.73 L248 394.78 L248.25 394.83 L248.5 394.88 L248.75 394.93 L249 394.98 L249.25 395.03 L249.5 395.08 L249.75 395.13 L250 395.18 L250.25 395.23 L250.5 395.28 L250.75 395.33 L251 395.38 L251.25 395.43 L251.5 395.48 L251.75 395.53 L252 395.58 L252.25 395.63 L252.5 395.68 L252.75 395.73 L253 395.78 L253.25 395.83 L253.5 395.88 L253.75 395.93 L254 395.98 L254.25 396.03 L254.5 396.08 L254.75 396.13 L255 396.18 L255.25 396.23 L255.5 396.28 L255.75 396.33 L256 396.38 L256.25 396.43" fill="none" stroke="#2b0b57" stroke-width="1.15" stroke-linejoin="round" stroke-linecap="butt" clip-path="url(#c2)"/>
<path d="M40 271.7 L44.9 284 L49.9 296.4 L49.89 299.47 L49.86 303.91 L49.83 309.07 L49.82 314.31 L49.84 318.97 L49.9 322.4 L50 324.49 L50.12 325.74 L50.27 326.41 L50.46 326.76 L50.7 327.07 L51 327.6 L51.37 328.29 L51.8 328.91 L52.29 329.49 L52.81 330.04 L53.35 330.57 L53.9 331.1 L54.46 331.62 L55.03 332.13 L55.62 332.61 L56.25 333.09 L56.9 333.55 L57.6 334 L58.3 334.43 L58.99 334.83 L59.71 335.21 L60.51 335.61 L61.43 336.03 L62.5 336.5 L63.79 337.04 L65.26 337.63 L66.86 338.24 L68.49 338.86 L70.1 339.46 L71.6 340 L72.86 340.46 L73.9 340.84 L74.92 341.19 L76.09 341.57 L77.58 342.03 L79.6 342.6 L82.01 343.25 L84.64 343.94 L87.6 344.69 L91.04 345.53 L95.08 346.48 L99.8 347.6 L105.41 348.95 L111.81 350.55" fill="none" stroke="#6a176e" stroke-width="1.15" stroke-linejoin="round" stroke-linecap="butt" clip-path="url(#c2)"/>
<path d="M226.5 381.43 L226.75 381.48 L227 381.52 L227.25 381.56 L227.5 381.6 L227.75 381.65 L228 381.69 L228.25 381.73 L228.5 381.77 L228.75 381.82 L229 381.86 L229.25 381.9 L229.5 381.94 L229.75 381.99 L230 382.03 L230.25 382.07 L230.5 382.11 L230.75 382.16 L231 382.2 L231.25 382.24 L231.5 382.28 L231.75 382.33 L232 382.37 L232.25 382.41 L232.5 382.45 L232.75 382.5 L233 382.54 L233.25 382.58 L233.5 382.62 L233.75 382.67 L234 382.71 L234.25 382.75 L234.5 382.79 L234.75 382.84 L235 382.88 L235.25 382.92 L235.5 382.96 L235.75 383.01 L236 383.05 L236.25 383.09 L236.5 383.13 L236.75 383.18 L237 383.22 L237.25 383.26 L237.5 383.3 L237.75 383.35 L238 383.39 L238.25 383.43 L238.5 383.47 L238.75 383.52 L239 383.56 L239.25 383.6 L239.5 383.65 L239.75 383.76 L240 383.97 L240.25 384.33 L240.5 384.82 L240.75 385.43 L241 386.14 L241.25 386.88 L241.5 387.62 L241.75 388.29 L242 388.86 L242.25 389.3 L242.5 389.59 L242.75 389.77 L243 389.9 L243.25 390.02 L243.5 390.15 L243.75 390.27 L244 390.41 L244.25 390.63 L244.5 390.96 L244.75 391.42 L245 391.95 L245.25 392.53 L245.5 393.09 L245.75 393.6 L246 394 L246.25 394.28 L246.5 394.45 L246.75 394.53 L247 394.58 L247.25 394.63 L247.5 394.68 L247.75 394.73 L248 394.78 L248.25 394.83 L248.5 394.88 L248.75 394.93 L249 394.98 L249.25 395.03 L249.5 395.08 L249.75 395.13 L250 395.18 L250.25 395.23 L250.5 395.28 L250.75 395.33 L251 395.38 L251.25 395.43 L251.5 395.48 L251.75 395.53 L252 395.58 L252.25 395.63 L252.5 395.68 L252.75 395.73 L253 395.78 L253.25 395.83 L253.5 395.88 L253.75 395.93 L254 395.98 L254.25 396.03 L254.5 396.08 L254.75 396.13 L255 396.18 L255.25 396.23 L255.5 396.28 L255.75 396.33 L256 396.38 L256.25 396.43" fill="none" stroke="#6a176e" stroke-width="1.15" stroke-linejoin="round" stroke-linecap="butt" clip-path="url(#c2)"/>
<path d="M39.5 272 L44.4 284.3 L49.4 296.7 L49.39 299.77 L49.36 304.21 L49.33 309.38 L49.32 314.61 L49.34 319.27 L49.4 322.7 L49.5 324.79 L49.62 326.04 L49.77 326.71 L49.96 327.06 L50.2 327.37 L50.5 327.9 L50.87 328.59 L51.3 329.21 L51.79 329.79 L52.31 330.34 L52.85 330.87 L53.4 331.4 L53.96 331.92 L54.53 332.43 L55.12 332.91 L55.75 333.39 L56.4 333.85 L57.1 334.3 L57.8 334.73 L58.49 335.13 L59.21 335.51 L60.01 335.91 L60.93 336.33 L62 336.8 L63.29 337.34 L64.76 337.93 L66.36 338.54 L67.99 339.16 L69.6 339.76 L71.1 340.3 L72.36 340.76 L73.4 341.14 L74.42 341.49 L75.59 341.87 L77.08 342.33 L79.1 342.9 L81.51 343.55 L84.14 344.24 L87.1 344.99 L90.57 345.81 L94.71 346.7 L99.55 347.75 L105.3 349.02 L111.81 350.55" fill="none" stroke="#a82e5f" stroke-width="1.15" stroke-linejoin="round" stroke-linecap="butt" clip-path="url(#c2)"/>
<path d="M226.5 381.43 L226.75 381.48 L227 381.52 L227.25 381.56 L227.5 381.6 L227.75 381.65 L228 381.69 L228.25 381.73 L228.5 381.77 L228.75 381.82 L229 381.86 L229.25 381.9 L229.5 381.94 L229.75 381.99 L230 382.03 L230.25 382.07 L230.5 382.11 L230.75 382.16 L231 382.2 L231.25 382.24 L231.5 382.28 L231.75 382.33 L232 382.37 L232.25 382.41 L232.5 382.45 L232.75 382.5 L233 382.54 L233.25 382.58 L233.5 382.62 L233.75 382.67 L234 382.71 L234.25 382.75 L234.5 382.79 L234.75 382.84 L235 382.88 L235.25 382.92 L235.5 382.96 L235.75 383.01 L236 383.05 L236.25 383.09 L236.5 383.13 L236.75 383.18 L237 383.22 L237.25 383.26 L237.5 383.3 L237.75 383.35 L238 383.42 L238.25 383.52 L238.5 383.68 L238.75 383.89 L239 384.15 L239.25 384.48 L239.5 384.86 L239.75 385.28 L240 385.74 L240.25 386.23 L240.5 386.73 L240.75 387.22 L241 387.7 L241.25 388.15 L241.5 388.55 L241.75 388.91 L242 389.2 L242.25 389.44 L242.5 389.63 L242.75 389.77 L243 389.9 L243.25 390.02 L243.5 390.15 L243.75 390.27 L244 390.4 L244.25 390.52 L244.5 390.65 L244.75 390.77 L245 390.91 L245.25 391.07 L245.5 391.29 L245.75 391.57 L246 391.9 L246.25 392.28 L246.5 392.68 L246.75 393.09 L247 393.48 L247.25 393.85 L247.5 394.17 L247.75 394.43 L248 394.63 L248.25 394.77 L248.5 394.87 L248.75 394.93 L249 394.98 L249.25 395.03 L249.5 395.08 L249.75 395.13 L250 395.18 L250.25 395.23 L250.5 395.28 L250.75 395.33 L251 395.38 L251.25 395.43 L251.5 395.48 L251.75 395.53 L252 395.58 L252.25 395.63 L252.5 395.68 L252.75 395.73 L253 395.78 L253.25 395.83 L253.5 395.88 L253.75 395.93 L254 395.98 L254.25 396.03 L254.5 396.08 L254.75 396.13 L255 396.18 L255.25 396.23 L255.5 396.28 L255.75 396.33 L256 396.38 L256.25 396.43" fill="none" stroke="#a82e5f" stroke-width="1.15" stroke-linejoin="round" stroke-linecap="butt" clip-path="url(#c2)"/>
<path d="M39.7 271.9 L44.6 284.2 L49.6 296.6 L49.59 299.67 L49.56 304.11 L49.53 309.28 L49.52 314.51 L49.54 319.17 L49.6 322.6 L49.7 324.69 L49.82 325.94 L49.97 326.61 L50.16 326.96 L50.4 327.27 L50.7 327.8 L51.07 328.49 L51.5 329.11 L51.99 329.69 L52.51 330.24 L53.05 330.77 L53.6 331.3 L54.16 331.82 L54.73 332.33 L55.32 332.81 L55.95 333.29 L56.6 333.75 L57.3 334.2 L58 334.63 L58.69 335.03 L59.41 335.41 L60.21 335.81 L61.13 336.23 L62.2 336.7 L63.49 337.24 L64.96 337.83 L66.56 338.44 L68.19 339.06 L69.8 339.66 L71.3 340.2 L72.56 340.66 L73.6 341.04 L74.62 341.39 L75.79 341.77 L77.28 342.23 L79.3 342.8 L81.71 343.45 L84.34 344.14 L87.3 344.89 L90.76 345.72 L94.86 346.62 L99.65 347.7 L105.34 349 L111.81 350.55" fill="none" stroke="#dd513a" stroke-width="1.15" stroke-linejoin="round" stroke-linecap="butt" clip-path="url(#c2)"/>
<path d="M226.5 381.43 L226.75 381.48 L227 381.52 L227.25 381.56 L227.5 381.6 L227.75 381.65 L228 381.69 L228.25 381.73 L228.5 381.77 L228.75 381.82 L229 381.86 L229.25 381.9 L229.5 381.94 L229.75 381.99 L230 382.03 L230.25 382.07 L230.5 382.11 L230.75 382.16 L231 382.2 L231.25 382.24 L231.5 382.28 L231.75 382.33 L232 382.37 L232.25 382.41 L232.5 382.45 L232.75 382.5 L233 382.54 L233.25 382.58 L233.5 382.62 L233.75 382.67 L234 382.71 L234.25 382.75 L234.5 382.79 L234.75 382.84 L235 382.88 L235.25 382.92 L235.5 382.96 L235.75 383.01 L236 383.05 L236.25 383.1 L236.5 383.17 L236.75 383.26 L237 383.37 L237.25 383.52 L237.5 383.69 L237.75 383.9 L238 384.14 L238.25 384.41 L238.5 384.71 L238.75 385.04 L239 385.39 L239.25 385.76 L239.5 386.13 L239.75 386.52 L240 386.9 L240.25 387.28 L240.5 387.65 L240.75 387.99 L241 388.32 L241.25 388.61 L241.5 388.88 L241.75 389.12 L242 389.32 L242.25 389.49 L242.5 389.64 L242.75 389.77 L243 389.9 L243.25 390.02 L243.5 390.15 L243.75 390.27 L244 390.4 L244.25 390.52 L244.5 390.65 L244.75 390.77 L245 390.9 L245.25 391.02 L245.5 391.15 L245.75 391.27 L246 391.4 L246.25 391.55 L246.5 391.72 L246.75 391.93 L247 392.16 L247.25 392.43 L247.5 392.72 L247.75 393.02 L248 393.33 L248.25 393.64 L248.5 393.93 L248.75 394.2 L249 394.45 L249.25 394.67 L249.5 394.85 L249.75 395 L250 395.12 L250.25 395.21 L250.5 395.28 L250.75 395.33 L251 395.38 L251.25 395.43 L251.5 395.48 L251.75 395.53 L252 395.58 L252.25 395.63 L252.5 395.68 L252.75 395.73 L253 395.78 L253.25 395.83 L253.5 395.88 L253.75 395.93 L254 395.98 L254.25 396.03 L254.5 396.08 L254.75 396.13 L255 396.18 L255.25 396.23 L255.5 396.28 L255.75 396.33 L256 396.38 L256.25 396.43" fill="none" stroke="#dd513a" stroke-width="1.15" stroke-linejoin="round" stroke-linecap="butt" clip-path="url(#c2)"/>
<path d="M40.1 271.6 L45 283.9 L50 296.3 L49.99 299.37 L49.96 303.81 L49.93 308.98 L49.92 314.21 L49.94 318.87 L50 322.3 L50.1 324.39 L50.22 325.64 L50.37 326.31 L50.56 326.66 L50.8 326.97 L51.1 327.5 L51.47 328.19 L51.9 328.81 L52.39 329.39 L52.91 329.94 L53.45 330.47 L54 331 L54.56 331.52 L55.13 332.03 L55.73 332.51 L56.35 332.99 L57 333.45 L57.7 333.9 L58.4 334.33 L59.09 334.73 L59.81 335.11 L60.61 335.51 L61.53 335.93 L62.6 336.4 L63.89 336.94 L65.36 337.53 L66.96 338.14 L68.59 338.76 L70.2 339.36 L71.7 339.9 L72.96 340.36 L74 340.74 L75.02 341.09 L76.19 341.47 L77.68 341.93 L79.7 342.5 L82.11 343.15 L84.74 343.84 L87.7 344.59 L91.13 345.44 L95.15 346.4 L99.85 347.55 L105.43 348.93 L111.81 350.55" fill="none" stroke="#f98e09" stroke-width="1.15" stroke-linejoin="round" stroke-linecap="butt" clip-path="url(#c2)"/>
<path d="M226.5 381.43 L226.75 381.48 L227 381.52 L227.25 381.56 L227.5 381.6 L227.75 381.65 L228 381.69 L228.25 381.73 L228.5 381.77 L228.75 381.82 L229 381.86 L229.25 381.9 L229.5 381.94 L229.75 381.99 L230 382.03 L230.25 382.07 L230.5 382.11 L230.75 382.16 L231 382.2 L231.25 382.24 L231.5 382.28 L231.75 382.33 L232 382.37 L232.25 382.41 L232.5 382.45 L232.75 382.5 L233 382.54 L233.25 382.58 L233.5 382.62 L233.75 382.67 L234 382.71 L234.25 382.75 L234.5 382.8 L234.75 382.86 L235 382.93 L235.25 383.01 L235.5 383.11 L235.75 383.23 L236 383.36 L236.25 383.52 L236.5 383.69 L236.75 383.89 L237 384.1 L237.25 384.34 L237.5 384.59 L237.75 384.86 L238 385.14 L238.25 385.43 L238.5 385.74 L238.75 386.05 L239 386.36 L239.25 386.68 L239.5 386.99 L239.75 387.29 L240 387.59 L240.25 387.87 L240.5 388.14 L240.75 388.4 L241 388.63 L241.25 388.85 L241.5 389.04 L241.75 389.22 L242 389.37 L242.25 389.52 L242.5 389.65 L242.75 389.77 L243 389.9 L243.25 390.02 L243.5 390.15 L243.75 390.27 L244 390.4 L244.25 390.52 L244.5 390.65 L244.75 390.77 L245 390.9 L245.25 391.02 L245.5 391.15 L245.75 391.27 L246 391.4 L246.25 391.52 L246.5 391.65 L246.75 391.77 L247 391.9 L247.25 392.03 L247.5 392.17 L247.75 392.32 L248 392.49 L248.25 392.68 L248.5 392.89 L248.75 393.11 L249 393.35 L249.25 393.58 L249.5 393.82 L249.75 394.06 L250 394.29 L250.25 394.51 L250.5 394.71 L250.75 394.9 L251 395.06 L251.25 395.21 L251.5 395.34 L251.75 395.44 L252 395.53 L252.25 395.61 L252.5 395.67 L252.75 395.73 L253 395.78 L253.25 395.83 L253.5 395.88 L253.75 395.93 L254 395.98 L254.25 396.03 L254.5 396.08 L254.75 396.13 L255 396.18 L255.25 396.23 L255.5 396.28 L255.75 396.33 L256 396.38 L256.25 396.43" fill="none" stroke="#f98e09" stroke-width="1.15" stroke-linejoin="round" stroke-linecap="butt" clip-path="url(#c2)"/>
<path d="M40.4 271.3 L45.3 283.6 L50.3 296 L50.29 299.07 L50.26 303.51 L50.23 308.68 L50.22 313.91 L50.24 318.57 L50.3 322 L50.4 324.09 L50.52 325.34 L50.67 326.01 L50.86 326.36 L51.1 326.67 L51.4 327.2 L51.77 327.89 L52.2 328.51 L52.69 329.09 L53.21 329.64 L53.75 330.17 L54.3 330.7 L54.86 331.22 L55.43 331.73 L56.02 332.21 L56.65 332.69 L57.3 333.15 L58 333.6 L58.7 334.03 L59.39 334.43 L60.11 334.81 L60.91 335.21 L61.83 335.63 L62.9 336.1 L64.19 336.64 L65.66 337.23 L67.26 337.84 L68.89 338.46 L70.5 339.06 L72 339.6 L73.26 340.06 L74.3 340.44 L75.32 340.79 L76.49 341.17 L77.98 341.63 L80 342.2 L82.41 342.85 L85.04 343.54 L88 344.29 L91.41 345.16 L95.37 346.18 L100 347.4 L105.5 348.86 L111.81 350.55 L118.69 352.39 L125.85 354.31 L133.04 356.24 L140 358.1 L146.73 359.89 L153.43 361.66 L160.17 363.44 L166.98 365.25 L173.91 367.09 L181 369 L188.83 371.12 L197.46 373.48 L206.21 375.88 L214.4 378.13 L221.32 380.03 L226.3 381.4 L226.5 381.43 L226.75 381.48 L227 381.52 L227.25 381.56 L227.5 381.6 L227.75 381.65 L228 381.69 L228.25 381.73 L228.5 381.77 L228.75 381.82 L229 381.86 L229.25 381.9 L229.5 381.94 L229.75 381.99 L230 382.03 L230.25 382.07 L230.5 382.11 L230.75 382.16 L231 382.2 L231.25 382.24 L231.5 382.28 L231.75 382.33 L232 382.37 L232.25 382.41 L232.5 382.46 L232.75 382.51 L233 382.56 L233.25 382.62 L233.5 382.69 L233.75 382.77 L234 382.86 L234.25 382.96 L234.5 383.07 L234.75 383.19 L235 383.33 L235.25 383.48 L235.5 383.64 L235.75 383.81 L236 384 L236.25 384.2 L236.5 384.41 L236.75 384.64 L237 384.87 L237.25 385.11 L237.5 385.36 L237.75 385.61 L238 385.87 L238.25 386.13 L238.5 386.4 L238.75 386.66 L239 386.92 L239.25 387.18 L239.5 387.43 L239.75 387.67 L240 387.91 L240.25 388.13 L240.5 388.35 L240.75 388.55 L241 388.74 L241.25 388.92 L241.5 389.09 L241.75 389.24 L242 389.38 L242.25 389.52 L242.5 389.65 L242.75 389.77 L243 389.9 L243.25 390.02 L243.5 390.15 L243.75 390.27 L244 390.4 L244.25 390.52 L244.5 390.65 L244.75 390.77 L245 390.9 L245.25 391.02 L245.5 391.15 L245.75 391.27 L246 391.4 L246.25 391.52 L246.5 391.65 L246.75 391.77 L247 391.9 L247.25 392.02 L247.5 392.15 L247.75 392.27 L248 392.4 L248.25 392.53 L248.5 392.65 L248.75 392.78 L249 392.92 L249.25 393.07 L249.5 393.23 L249.75 393.4 L250 393.58 L250.25 393.77 L250.5 393.96 L250.75 394.15 L251 394.34 L251.25 394.53 L251.5 394.71 L251.75 394.89 L252 395.05 L252.25 395.21 L252.5 395.35 L252.75 395.48 L253 395.6 L253.25 395.7 L253.5 395.79 L253.75 395.88 L254 395.95 L254.25 396.01 L254.5 396.07 L254.75 396.13 L255 396.18 L255.25 396.23 L255.5 396.28 L255.75 396.33 L256 396.38 L256.25 396.43 L256.5 396.5 L264.3 397.9 L292.9 402.7 L321.4 405.9 L348 407.5" fill="none" stroke="#f6d746" stroke-width="1.15" stroke-linejoin="round" stroke-linecap="butt" clip-path="url(#c2)"/>
<rect x="39.5" y="254.7" width="307" height="153.3" fill="none" stroke="#262626" stroke-width="0.85"/>
<line x1="39.54" y1="408" x2="39.54" y2="409.2" stroke="#262626" stroke-width="0.7"/>
<line x1="44.69" y1="408" x2="44.69" y2="409.2" stroke="#262626" stroke-width="0.7"/>
<line x1="49.23" y1="408" x2="49.23" y2="409.2" stroke="#262626" stroke-width="0.7"/>
<line x1="53.3" y1="408" x2="53.3" y2="410.2" stroke="#262626" stroke-width="0.7"/>
<line x1="80.05" y1="408" x2="80.05" y2="409.2" stroke="#262626" stroke-width="0.7"/>
<line x1="95.69" y1="408" x2="95.69" y2="409.2" stroke="#262626" stroke-width="0.7"/>
<line x1="106.79" y1="408" x2="106.79" y2="409.2" stroke="#262626" stroke-width="0.7"/>
<line x1="115.4" y1="408" x2="115.4" y2="409.2" stroke="#262626" stroke-width="0.7"/>
<line x1="122.44" y1="408" x2="122.44" y2="409.2" stroke="#262626" stroke-width="0.7"/>
<line x1="128.39" y1="408" x2="128.39" y2="409.2" stroke="#262626" stroke-width="0.7"/>
<line x1="133.54" y1="408" x2="133.54" y2="409.2" stroke="#262626" stroke-width="0.7"/>
<line x1="138.08" y1="408" x2="138.08" y2="409.2" stroke="#262626" stroke-width="0.7"/>
<line x1="142.15" y1="408" x2="142.15" y2="410.2" stroke="#262626" stroke-width="0.7"/>
<line x1="168.9" y1="408" x2="168.9" y2="409.2" stroke="#262626" stroke-width="0.7"/>
<line x1="184.54" y1="408" x2="184.54" y2="409.2" stroke="#262626" stroke-width="0.7"/>
<line x1="195.64" y1="408" x2="195.64" y2="409.2" stroke="#262626" stroke-width="0.7"/>
<line x1="204.25" y1="408" x2="204.25" y2="409.2" stroke="#262626" stroke-width="0.7"/>
<line x1="211.29" y1="408" x2="211.29" y2="409.2" stroke="#262626" stroke-width="0.7"/>
<line x1="217.24" y1="408" x2="217.24" y2="409.2" stroke="#262626" stroke-width="0.7"/>
<line x1="222.39" y1="408" x2="222.39" y2="409.2" stroke="#262626" stroke-width="0.7"/>
<line x1="226.93" y1="408" x2="226.93" y2="409.2" stroke="#262626" stroke-width="0.7"/>
<line x1="231" y1="408" x2="231" y2="410.2" stroke="#262626" stroke-width="0.7"/>
<line x1="257.75" y1="408" x2="257.75" y2="409.2" stroke="#262626" stroke-width="0.7"/>
<line x1="273.39" y1="408" x2="273.39" y2="409.2" stroke="#262626" stroke-width="0.7"/>
<line x1="284.49" y1="408" x2="284.49" y2="409.2" stroke="#262626" stroke-width="0.7"/>
<line x1="293.1" y1="408" x2="293.1" y2="409.2" stroke="#262626" stroke-width="0.7"/>
<line x1="300.14" y1="408" x2="300.14" y2="409.2" stroke="#262626" stroke-width="0.7"/>
<line x1="306.09" y1="408" x2="306.09" y2="409.2" stroke="#262626" stroke-width="0.7"/>
<line x1="311.24" y1="408" x2="311.24" y2="409.2" stroke="#262626" stroke-width="0.7"/>
<line x1="315.78" y1="408" x2="315.78" y2="409.2" stroke="#262626" stroke-width="0.7"/>
<line x1="319.85" y1="408" x2="319.85" y2="410.2" stroke="#262626" stroke-width="0.7"/>
<line x1="346.6" y1="408" x2="346.6" y2="409.2" stroke="#262626" stroke-width="0.7"/>
<line x1="66.06" y1="254.7" x2="66.06" y2="253.5" stroke="#262626" stroke-width="0.7"/>
<line x1="81.71" y1="254.7" x2="81.71" y2="253.5" stroke="#262626" stroke-width="0.7"/>
<line x1="92.81" y1="254.7" x2="92.81" y2="253.5" stroke="#262626" stroke-width="0.7"/>
<line x1="101.42" y1="254.7" x2="101.42" y2="253.5" stroke="#262626" stroke-width="0.7"/>
<line x1="108.45" y1="254.7" x2="108.45" y2="253.5" stroke="#262626" stroke-width="0.7"/>
<line x1="114.4" y1="254.7" x2="114.4" y2="253.5" stroke="#262626" stroke-width="0.7"/>
<line x1="119.56" y1="254.7" x2="119.56" y2="253.5" stroke="#262626" stroke-width="0.7"/>
<line x1="124.1" y1="254.7" x2="124.1" y2="253.5" stroke="#262626" stroke-width="0.7"/>
<line x1="128.17" y1="254.7" x2="128.17" y2="252.5" stroke="#262626" stroke-width="0.7"/>
<line x1="154.91" y1="254.7" x2="154.91" y2="253.5" stroke="#262626" stroke-width="0.7"/>
<line x1="170.56" y1="254.7" x2="170.56" y2="253.5" stroke="#262626" stroke-width="0.7"/>
<line x1="181.66" y1="254.7" x2="181.66" y2="253.5" stroke="#262626" stroke-width="0.7"/>
<line x1="190.27" y1="254.7" x2="190.27" y2="253.5" stroke="#262626" stroke-width="0.7"/>
<line x1="197.3" y1="254.7" x2="197.3" y2="253.5" stroke="#262626" stroke-width="0.7"/>
<line x1="203.25" y1="254.7" x2="203.25" y2="253.5" stroke="#262626" stroke-width="0.7"/>
<line x1="208.41" y1="254.7" x2="208.41" y2="253.5" stroke="#262626" stroke-width="0.7"/>
<line x1="212.95" y1="254.7" x2="212.95" y2="253.5" stroke="#262626" stroke-width="0.7"/>
<line x1="217.02" y1="254.7" x2="217.02" y2="252.5" stroke="#262626" stroke-width="0.7"/>
<line x1="243.76" y1="254.7" x2="243.76" y2="253.5" stroke="#262626" stroke-width="0.7"/>
<line x1="259.41" y1="254.7" x2="259.41" y2="253.5" stroke="#262626" stroke-width="0.7"/>
<line x1="270.51" y1="254.7" x2="270.51" y2="253.5" stroke="#262626" stroke-width="0.7"/>
<line x1="279.12" y1="254.7" x2="279.12" y2="253.5" stroke="#262626" stroke-width="0.7"/>
<line x1="286.15" y1="254.7" x2="286.15" y2="253.5" stroke="#262626" stroke-width="0.7"/>
<line x1="292.1" y1="254.7" x2="292.1" y2="253.5" stroke="#262626" stroke-width="0.7"/>
<line x1="297.26" y1="254.7" x2="297.26" y2="253.5" stroke="#262626" stroke-width="0.7"/>
<line x1="301.8" y1="254.7" x2="301.8" y2="253.5" stroke="#262626" stroke-width="0.7"/>
<line x1="305.87" y1="254.7" x2="305.87" y2="252.5" stroke="#262626" stroke-width="0.7"/>
<line x1="332.61" y1="254.7" x2="332.61" y2="253.5" stroke="#262626" stroke-width="0.7"/>
<text x="53.6" y="420.9" font-size="10.9" text-anchor="middle" transform="matrix(1 0 0 1.1 0 -42.09)">10<tspan dy="-4.6" font-size="6.9">1</tspan></text>
<text x="142.45" y="420.9" font-size="10.9" text-anchor="middle" transform="matrix(1 0 0 1.1 0 -42.09)">10<tspan dy="-4.6" font-size="6.9">2</tspan></text>
<text x="231.3" y="420.9" font-size="10.9" text-anchor="middle" transform="matrix(1 0 0 1.1 0 -42.09)">10<tspan dy="-4.6" font-size="6.9">3</tspan></text>
<text x="320.15" y="420.9" font-size="10.9" text-anchor="middle" transform="matrix(1 0 0 1.1 0 -42.09)">10<tspan dy="-4.6" font-size="6.9">4</tspan></text>
<text x="128.37" y="248.9" font-size="10.9" text-anchor="middle" transform="matrix(1 0 0 1.1 0 -24.89)">0.1</text>
<text x="217.22" y="248.9" font-size="10.9" text-anchor="middle" transform="matrix(1 0 0 1.1 0 -24.89)">1.0</text>
<text x="306.07" y="248.9" font-size="10.9" text-anchor="middle" transform="matrix(1 0 0 1.1 0 -24.89)">10.0</text>
<text x="165.6" y="433.8" font-size="10.9" textLength="58" lengthAdjust="spacingAndGlyphs" transform="matrix(1 0 0 1.1 0 -43.38)">Height [Mm]</text>
<text x="152" y="238.1" font-size="10.9" textLength="84.5" lengthAdjust="spacingAndGlyphs" transform="matrix(1 0 0 1.1 0 -23.81)">Height [<tspan font-style="italic">r</tspan>/<tspan font-style="italic">R</tspan><tspan dy="2.2" font-size="7">&#8857;</tspan><tspan dy="-2.2"> &#8722; 1]</tspan></text>
<line x1="37.3" y1="382.1" x2="39.5" y2="382.1" stroke="#262626" stroke-width="0.7"/>
<text x="35.2" y="386.5" font-size="10.9" text-anchor="end" transform="matrix(1 0 0 1.1 0 -38.65)">10<tspan dy="-4.6" font-size="6.9">7</tspan></text>
<line x1="37.3" y1="331.3" x2="39.5" y2="331.3" stroke="#262626" stroke-width="0.7"/>
<text x="35.2" y="335.7" font-size="10.9" text-anchor="end" transform="matrix(1 0 0 1.1 0 -33.57)">10<tspan dy="-4.6" font-size="6.9">9</tspan></text>
<line x1="37.3" y1="280.5" x2="39.5" y2="280.5" stroke="#262626" stroke-width="0.7"/>
<text x="35.2" y="284.9" font-size="10.9" text-anchor="end" transform="matrix(1 0 0 1.1 0 -28.49)">10<tspan dy="-4.6" font-size="6.9">11</tspan></text>
<text x="0" y="0" font-size="11.3" text-anchor="middle" textLength="165" lengthAdjust="spacingAndGlyphs" transform="translate(9.5 332.3) rotate(-90) scale(1 1.1)">Linear number density [ cm<tspan dy="-4.4" font-size="7.8">&#8722;3</tspan><tspan dy="4.4"> &#215; A]</tspan></text>
<rect x="226.3" y="381.1" width="30.2" height="21.8" fill="none" stroke="#7f7f7f" stroke-width="0.8"/>
<line x1="101" y1="369" x2="226.3" y2="402.9" stroke="#7f7f7f" stroke-width="0.8"/>
<line x1="331" y1="369" x2="256.5" y2="402.9" stroke="#7f7f7f" stroke-width="0.8"/>
<rect x="101" y="263" width="230" height="106" fill="#fff" stroke="#555" stroke-width="0.85"/>
<path d="M101 263.28 L102 263.83 L103 264.36 L104 264.88 L105 265.37 L106 265.86 L107 266.33 L108 266.78 L109 267.22 L110 267.65 L111 268.07 L112 268.48 L113 268.87 L114 269.26 L115 269.64 L116 270 L117 270.36 L118 270.72 L119 271.06 L120 271.4 L121 271.72 L122 272.05 L123 272.36 L124 272.67 L125 272.98 L126 273.27 L127 273.56 L128 273.85 L129 274.13 L130 274.41 L131 274.68 L132 274.95 L133 275.21 L134 275.47 L135 275.72 L136 275.97 L137 276.22 L138 276.46 L139 276.7 L140 276.93 L141 277.16 L142 277.39 L143 277.61 L144 277.83 L145 278.05 L146 278.27 L147 278.48 L148 278.69 L149 278.9 L150 279.1 L151 279.3 L152 279.5 L153 279.69 L154 279.89 L155 280.08 L156 280.27 L157 280.45 L158 280.64 L159 280.82 L160 281 L161 281.18 L162 281.35 L163 281.53 L164 281.7 L165 281.87 L166 282.04 L167 282.21 L168 282.37 L169 282.53 L170 282.69 L171 282.85 L172 283.01 L173 283.17 L174 283.32 L175 283.48 L176 283.63 L177 283.78 L178 283.93 L179 284.08 L180 284.22 L181 284.37 L182 284.51 L183 284.65 L184 284.79 L185 284.93 L186 285.07 L187 285.21 L188 285.34 L189 285.48 L190 285.61 L191 285.74 L192 285.88 L193 286.01 L194 286.13 L195 286.26 L196 286.39 L197 286.52 L198 286.64 L199 286.76 L200 286.89 L201 287.01 L202 287.13 L202.4 287.18 L204.7 310 L206.9 344.3 L207.5 344.35 L209.5 344.54 L211.5 344.73 L213.5 344.92 L215.5 345.1 L217.5 345.29 L219.5 345.48 L221.5 345.67 L223.5 345.85 L225.5 346.04 L227.5 346.23 L229.5 346.41 L231.5 346.6 L233.5 346.78 L235.5 346.97 L237.5 347.15 L239.5 347.33 L241.5 347.52 L243.5 347.7 L245.5 347.88 L247.5 348.07 L249.5 348.25 L251.5 348.43 L253.5 348.61 L255.5 348.79 L257.5 348.97 L259.5 349.15 L261.5 349.33 L263.5 349.51 L265.5 349.69 L267.5 349.86 L269.5 350.04 L271.5 350.22 L273.5 350.4 L275.5 350.57 L277.5 350.75 L279.5 350.92 L281.5 351.1 L283.5 351.27 L285.5 351.45 L287.5 351.62 L289.5 351.8 L291.5 351.97 L293.5 352.14 L295.5 352.32 L297.5 352.49 L299.5 352.66 L301.5 352.83 L303.5 353 L305.5 353.17 L307.5 353.34 L309.5 353.51 L311.5 353.68 L313.5 353.85 L315.5 354.02 L317.5 354.19 L319.5 354.35 L321.5 354.52 L323.5 354.69 L325.5 354.86 L327.5 355.02 L329.5 355.19 L331.5 355.35" fill="none" stroke="#000004" stroke-width="1.15" stroke-linejoin="round" stroke-linecap="butt" clip-path="url(#ci2)"/>
<path d="M100 262.7 L100.5 262.99 L101 263.28 L101.5 263.56 L102 263.83 L102.5 264.1 L103 264.36 L103.5 264.62 L104 264.88 L104.5 265.13 L105 265.37 L105.5 265.62 L106 265.86 L106.5 266.09 L107 266.33 L107.5 266.55 L108 266.78 L108.5 267 L109 267.22 L109.5 267.44 L110 267.65 L110.5 267.86 L111 268.07 L111.5 268.27 L112 268.48 L112.5 268.68 L113 268.87 L113.5 269.07 L114 269.26 L114.5 269.45 L115 269.64 L115.5 269.82 L116 270 L116.5 270.19 L117 270.36 L117.5 270.54 L118 270.72 L118.5 270.89 L119 271.06 L119.5 271.23 L120 271.4 L120.5 271.56 L121 271.72 L121.5 271.89 L122 272.05 L122.5 272.21 L123 272.36 L123.5 272.52 L124 272.67 L124.5 272.82 L125 272.98 L125.5 273.12 L126 273.27 L126.5 273.42 L127 273.56 L127.5 273.71 L128 273.85 L128.5 273.99 L129 274.13 L129.5 274.27 L130 274.41 L130.5 274.55 L131 274.68 L131.5 274.81 L132 274.95 L132.5 275.08 L133 275.21 L133.5 275.34 L134 275.47 L134.5 275.59 L135 275.72 L135.5 275.85 L136 275.97 L136.5 276.09 L137 276.22 L137.5 276.34 L138 276.46 L138.5 276.58 L139 276.7 L139.5 276.81 L140 276.93 L140.5 277.05 L141 277.16 L141.5 277.28 L142 277.39 L142.5 277.5 L143 277.61 L143.5 277.72 L144 277.83 L144.5 277.94 L145 278.05 L145.5 278.16 L146 278.27 L146.5 278.37 L147 278.48 L147.5 278.58 L148 278.69 L148.5 278.79 L149 278.9 L149.5 279 L150 279.1 L150.5 279.2 L151 279.3 L151.5 279.4 L152 279.5 L152.5 279.6 L153 279.69 L153.5 279.79 L154 279.89 L154.5 279.98 L155 280.08 L155.5 280.17 L156 280.27 L156.5 280.36 L157 280.45 L157.5 280.55 L158 280.64 L158.5 280.73 L159 280.82 L159.5 280.91 L160 281 L160.5 281.09 L161 281.18 L161.5 281.27 L162 281.35 L162.5 281.44 L163 281.53 L163.5 281.62 L164 281.7 L164.5 281.79 L165 281.87 L165.5 281.96 L166 282.04 L166.5 282.12 L167 282.21 L167.5 282.29 L168 282.37 L168.5 282.45 L169 282.53 L169.5 282.61 L170 282.69 L170.5 282.77 L171 282.85 L171.5 282.93 L172 283.01 L172.5 283.09 L173 283.17 L173.5 283.25 L174 283.32 L174.5 283.4 L175 283.48 L175.5 283.55 L176 283.63 L176.5 283.7 L177 283.78 L177.5 283.85 L178 283.93 L178.5 284 L179 284.08 L179.5 284.15 L180 284.22 L180.5 284.29 L181 284.37 L181.5 284.44 L182 284.51 L182.5 284.58 L183 284.65 L183.5 284.72 L184 284.79 L184.5 284.86 L185 284.93 L185.5 285 L186 285.07 L186.5 285.14 L187 285.21 L187.5 285.28 L188 285.34 L188.5 285.41 L189 285.48 L189.5 285.54 L190 285.61 L190.5 285.68 L191 285.74 L191.5 285.81 L192 285.88 L192.5 285.94 L193 286.01 L193.5 286.07 L194 286.14 L194.5 286.27 L195 286.56 L195.5 287.07 L196 287.86 L196.5 288.95 L197 290.34 L197.5 292.05 L198 294.05 L198.5 296.3 L199 298.78 L199.5 301.44 L200 304.22 L200.5 307.06 L201 309.91 L201.5 312.7 L202 315.38 L202.5 317.9 L203 320.2 L203.5 322.25 L204 324.01 L204.5 325.46 L205 326.6 L205.5 327.43 L206 328 L206.5 328.33 L207 328.5 L207.5 328.61 L208 328.72 L208.5 328.84 L209 328.95 L209.5 329.08 L210 329.22 L210.5 329.37 L211 329.55 L211.5 329.75 L212 329.99 L212.5 330.26 L213 330.58 L213.5 330.96 L214 331.4 L214.5 331.9 L215 332.47 L215.5 333.11 L216 333.82 L216.5 334.58 L217 335.4 L217.5 336.26 L218 337.15 L218.5 338.05 L219 338.94 L219.5 339.81 L220 340.64 L220.5 341.43 L221 342.15 L221.5 342.81 L222 343.4 L222.5 343.91 L223 344.36 L223.5 344.73 L224 345.05 L224.5 345.31 L225 345.53 L225.5 345.7 L226 345.85 L226.5 345.97 L227 346.07 L227.5 346.15 L228 346.22 L228.5 346.29 L229 346.35 L229.5 346.4 L230 346.45 L230.5 346.5 L231 346.55 L231.5 346.6 L232 346.64 L232.5 346.69 L233 346.74 L233.5 346.78 L234 346.83 L234.5 346.87 L235 346.92 L235.5 346.97 L236 347.01 L236.5 347.06 L237 347.1 L237.5 347.15 L238 347.2 L238.5 347.24 L239 347.29 L239.5 347.33 L240 347.38 L240.5 347.43 L241 347.47 L241.5 347.52 L242 347.56 L242.5 347.61 L243 347.66 L243.5 347.7 L244 347.75 L244.5 347.79 L245 347.84 L245.5 347.88 L246 347.93 L246.5 347.97 L247 348.02 L247.5 348.07 L248 348.11 L248.5 348.16 L249 348.2 L249.5 348.25 L250 348.29 L250.5 348.34 L251 348.38 L251.5 348.43 L252 348.47 L252.5 348.52 L253 348.56 L253.5 348.61 L254 348.65 L254.5 348.7 L255 348.74 L255.5 348.79 L256 348.83 L256.5 348.88 L257 348.93 L257.5 348.97 L258 349.01 L258.5 349.06 L259 349.1 L259.5 349.15 L260 349.19 L260.5 349.24 L261 349.28 L261.5 349.33 L262 349.37 L262.5 349.42 L263 349.46 L263.5 349.51 L264 349.55 L264.5 349.6 L265 349.64 L265.5 349.69 L266 349.73 L266.5 349.78 L267 349.82 L267.5 349.86 L268 349.91 L268.5 349.95 L269 350 L269.5 350.04 L270 350.09 L270.5 350.13 L271 350.18 L271.5 350.22 L272 350.26 L272.5 350.31 L273 350.35 L273.5 350.4 L274 350.44 L274.5 350.48 L275 350.53 L275.5 350.57 L276 350.62 L276.5 350.66 L277 350.7 L277.5 350.75 L278 350.79 L278.5 350.84 L279 350.88 L279.5 350.92 L280 350.97 L280.5 351.01 L281 351.06 L281.5 351.1 L282 351.14 L282.5 351.19 L283 351.23 L283.5 351.27 L284 351.32 L284.5 351.36 L285 351.41 L285.5 351.45 L286 351.49 L286.5 351.54 L287 351.58 L287.5 351.62 L288 351.67 L288.5 351.71 L289 351.75 L289.5 351.8 L290 351.84 L290.5 351.88 L291 351.93 L291.5 351.97 L292 352.01 L292.5 352.06 L293 352.1 L293.5 352.14 L294 352.19 L294.5 352.23 L295 352.27 L295.5 352.32 L296 352.36 L296.5 352.4 L297 352.45 L297.5 352.49 L298 352.53 L298.5 352.57 L299 352.62 L299.5 352.66 L300 352.7 L300.5 352.75 L301 352.79 L301.5 352.83 L302 352.87 L302.5 352.92 L303 352.96 L303.5 353 L304 353.04 L304.5 353.09 L305 353.13 L305.5 353.17 L306 353.21 L306.5 353.26 L307 353.3 L307.5 353.34 L308 353.38 L308.5 353.43 L309 353.47 L309.5 353.51 L310 353.55 L310.5 353.6 L311 353.64 L311.5 353.68 L312 353.72 L312.5 353.77 L313 353.81 L313.5 353.85 L314 353.89 L314.5 353.93 L315 353.98 L315.5 354.02 L316 354.06 L316.5 354.1 L317 354.14 L317.5 354.19 L318 354.23 L318.5 354.27 L319 354.31 L319.5 354.35 L320 354.4 L320.5 354.44 L321 354.48 L321.5 354.52 L322 354.56 L322.5 354.61 L323 354.65 L323.5 354.69 L324 354.73 L324.5 354.77 L325 354.81 L325.5 354.86 L326 354.9 L326.5 354.94 L327 354.98 L327.5 355.02 L328 355.06 L328.5 355.1 L329 355.15 L329.5 355.19 L330 355.23 L330.5 355.27 L331 355.31 L331.5 355.35" fill="none" stroke="#2b0b57" stroke-width="1.15" stroke-linejoin="round" stroke-linecap="butt" clip-path="url(#ci2)"/>
<path d="M100 262.7 L100.5 262.99 L101 263.28 L101.5 263.56 L102 263.83 L102.5 264.1 L103 264.36 L103.5 264.62 L104 264.88 L104.5 265.13 L105 265.37 L105.5 265.62 L106 265.86 L106.5 266.09 L107 266.33 L107.5 266.55 L108 266.78 L108.5 267 L109 267.22 L109.5 267.44 L110 267.65 L110.5 267.86 L111 268.07 L111.5 268.27 L112 268.48 L112.5 268.68 L113 268.87 L113.5 269.07 L114 269.26 L114.5 269.45 L115 269.64 L115.5 269.82 L116 270 L116.5 270.19 L117 270.36 L117.5 270.54 L118 270.72 L118.5 270.89 L119 271.06 L119.5 271.23 L120 271.4 L120.5 271.56 L121 271.72 L121.5 271.89 L122 272.05 L122.5 272.21 L123 272.36 L123.5 272.52 L124 272.67 L124.5 272.82 L125 272.98 L125.5 273.12 L126 273.27 L126.5 273.42 L127 273.56 L127.5 273.71 L128 273.85 L128.5 273.99 L129 274.13 L129.5 274.27 L130 274.41 L130.5 274.55 L131 274.68 L131.5 274.81 L132 274.95 L132.5 275.08 L133 275.21 L133.5 275.34 L134 275.47 L134.5 275.59 L135 275.72 L135.5 275.85 L136 275.97 L136.5 276.09 L137 276.22 L137.5 276.34 L138 276.46 L138.5 276.58 L139 276.7 L139.5 276.81 L140 276.93 L140.5 277.05 L141 277.16 L141.5 277.28 L142 277.39 L142.5 277.5 L143 277.61 L143.5 277.72 L144 277.83 L144.5 277.94 L145 278.05 L145.5 278.16 L146 278.27 L146.5 278.37 L147 278.48 L147.5 278.58 L148 278.69 L148.5 278.79 L149 278.9 L149.5 279 L150 279.1 L150.5 279.2 L151 279.3 L151.5 279.4 L152 279.5 L152.5 279.6 L153 279.69 L153.5 279.79 L154 279.89 L154.5 279.98 L155 280.08 L155.5 280.17 L156 280.27 L156.5 280.36 L157 280.45 L157.5 280.55 L158 280.64 L158.5 280.73 L159 280.82 L159.5 280.91 L160 281 L160.5 281.09 L161 281.18 L161.5 281.27 L162 281.35 L162.5 281.44 L163 281.53 L163.5 281.62 L164 281.7 L164.5 281.79 L165 281.87 L165.5 281.96 L166 282.04 L166.5 282.12 L167 282.21 L167.5 282.29 L168 282.37 L168.5 282.45 L169 282.53 L169.5 282.61 L170 282.69 L170.5 282.77 L171 282.85 L171.5 282.93 L172 283.01 L172.5 283.09 L173 283.17 L173.5 283.25 L174 283.32 L174.5 283.4 L175 283.48 L175.5 283.55 L176 283.63 L176.5 283.7 L177 283.78 L177.5 283.85 L178 283.93 L178.5 284 L179 284.08 L179.5 284.15 L180 284.22 L180.5 284.31 L181 284.41 L181.5 284.54 L182 284.72 L182.5 284.93 L183 285.2 L183.5 285.52 L184 285.9 L184.5 286.34 L185 286.86 L185.5 287.43 L186 288.08 L186.5 288.79 L187 289.57 L187.5 290.42 L188 291.33 L188.5 292.31 L189 293.34 L189.5 294.43 L190 295.57 L190.5 296.76 L191 297.99 L191.5 299.25 L192 300.55 L192.5 301.88 L193 303.23 L193.5 304.59 L194 305.96 L194.5 307.33 L195 308.7 L195.5 310.06 L196 311.4 L196.5 312.73 L197 314.02 L197.5 315.28 L198 316.5 L198.5 317.68 L199 318.81 L199.5 319.89 L200 320.91 L200.5 321.87 L201 322.77 L201.5 323.6 L202 324.36 L202.5 325.06 L203 325.69 L203.5 326.24 L204 326.73 L204.5 327.16 L205 327.52 L205.5 327.83 L206 328.08 L206.5 328.29 L207 328.45 L207.5 328.59 L208 328.7 L208.5 328.8 L209 328.9 L209.5 329 L210 329.09 L210.5 329.19 L211 329.29 L211.5 329.39 L212 329.48 L212.5 329.58 L213 329.67 L213.5 329.77 L214 329.87 L214.5 329.96 L215 330.06 L215.5 330.15 L216 330.24 L216.5 330.34 L217 330.43 L217.5 330.53 L218 330.62 L218.5 330.71 L219 330.81 L219.5 330.9 L220 331 L220.5 331.1 L221 331.2 L221.5 331.3 L222 331.4 L222.5 331.51 L223 331.62 L223.5 331.74 L224 331.87 L224.5 332 L225 332.14 L225.5 332.3 L226 332.46 L226.5 332.65 L227 332.85 L227.5 333.06 L228 333.3 L228.5 333.57 L229 333.85 L229.5 334.16 L230 334.5 L230.5 334.87 L231 335.26 L231.5 335.68 L232 336.12 L232.5 336.59 L233 337.09 L233.5 337.6 L234 338.13 L234.5 338.68 L235 339.24 L235.5 339.8 L236 340.36 L236.5 340.92 L237 341.48 L237.5 342.02 L238 342.55 L238.5 343.06 L239 343.54 L239.5 344.01 L240 344.44 L240.5 344.85 L241 345.23 L241.5 345.58 L242 345.9 L242.5 346.19 L243 346.45 L243.5 346.69 L244 346.91 L244.5 347.1 L245 347.27 L245.5 347.42 L246 347.55 L246.5 347.67 L247 347.78 L247.5 347.88 L248 347.96 L248.5 348.04 L249 348.11 L249.5 348.18 L250 348.24 L250.5 348.3 L251 348.35 L251.5 348.41 L252 348.46 L252.5 348.51 L253 348.56 L253.5 348.6 L254 348.65 L254.5 348.7 L255 348.74 L255.5 348.79 L256 348.83 L256.5 348.88 L257 348.92 L257.5 348.97 L258 349.01 L258.5 349.06 L259 349.1 L259.5 349.15 L260 349.19 L260.5 349.24 L261 349.28 L261.5 349.33 L262 349.37 L262.5 349.42 L263 349.46 L263.5 349.51 L264 349.55 L264.5 349.6 L265 349.64 L265.5 349.69 L266 349.73 L266.5 349.78 L267 349.82 L267.5 349.86 L268 349.91 L268.5 349.95 L269 350 L269.5 350.04 L270 350.09 L270.5 350.13 L271 350.18 L271.5 350.22 L272 350.26 L272.5 350.31 L273 350.35 L273.5 350.4 L274 350.44 L274.5 350.48 L275 350.53 L275.5 350.57 L276 350.62 L276.5 350.66 L277 350.7 L277.5 350.75 L278 350.79 L278.5 350.84 L279 350.88 L279.5 350.92 L280 350.97 L280.5 351.01 L281 351.06 L281.5 351.1 L282 351.14 L282.5 351.19 L283 351.23 L283.5 351.27 L284 351.32 L284.5 351.36 L285 351.41 L285.5 351.45 L286 351.49 L286.5 351.54 L287 351.58 L287.5 351.62 L288 351.67 L288.5 351.71 L289 351.75 L289.5 351.8 L290 351.84 L290.5 351.88 L291 351.93 L291.5 351.97 L292 352.01 L292.5 352.06 L293 352.1 L293.5 352.14 L294 352.19 L294.5 352.23 L295 352.27 L295.5 352.32 L296 352.36 L296.5 352.4 L297 352.45 L297.5 352.49 L298 352.53 L298.5 352.57 L299 352.62 L299.5 352.66 L300 352.7 L300.5 352.75 L301 352.79 L301.5 352.83 L302 352.87 L302.5 352.92 L303 352.96 L303.5 353 L304 353.04 L304.5 353.09 L305 353.13 L305.5 353.17 L306 353.21 L306.5 353.26 L307 353.3 L307.5 353.34 L308 353.38 L308.5 353.43 L309 353.47 L309.5 353.51 L310 353.55 L310.5 353.6 L311 353.64 L311.5 353.68 L312 353.72 L312.5 353.77 L313 353.81 L313.5 353.85 L314 353.89 L314.5 353.93 L315 353.98 L315.5 354.02 L316 354.06 L316.5 354.1 L317 354.14 L317.5 354.19 L318 354.23 L318.5 354.27 L319 354.31 L319.5 354.35 L320 354.4 L320.5 354.44 L321 354.48 L321.5 354.52 L322 354.56 L322.5 354.61 L323 354.65 L323.5 354.69 L324 354.73 L324.5 354.77 L325 354.81 L325.5 354.86 L326 354.9 L326.5 354.94 L327 354.98 L327.5 355.02 L328 355.06 L328.5 355.1 L329 355.15 L329.5 355.19 L330 355.23 L330.5 355.27 L331 355.31 L331.5 355.35" fill="none" stroke="#6a176e" stroke-width="1.15" stroke-linejoin="round" stroke-linecap="butt" clip-path="url(#ci2)"/>
<path d="M100 262.7 L100.5 262.99 L101 263.28 L101.5 263.56 L102 263.83 L102.5 264.1 L103 264.36 L103.5 264.62 L104 264.88 L104.5 265.13 L105 265.37 L105.5 265.62 L106 265.86 L106.5 266.09 L107 266.33 L107.5 266.55 L108 266.78 L108.5 267 L109 267.22 L109.5 267.44 L110 267.65 L110.5 267.86 L111 268.07 L111.5 268.27 L112 268.48 L112.5 268.68 L113 268.87 L113.5 269.07 L114 269.26 L114.5 269.45 L115 269.64 L115.5 269.82 L116 270 L116.5 270.19 L117 270.36 L117.5 270.54 L118 270.72 L118.5 270.89 L119 271.06 L119.5 271.23 L120 271.4 L120.5 271.56 L121 271.72 L121.5 271.89 L122 272.05 L122.5 272.21 L123 272.36 L123.5 272.52 L124 272.67 L124.5 272.82 L125 272.98 L125.5 273.12 L126 273.27 L126.5 273.42 L127 273.56 L127.5 273.71 L128 273.85 L128.5 273.99 L129 274.13 L129.5 274.27 L130 274.41 L130.5 274.55 L131 274.68 L131.5 274.81 L132 274.95 L132.5 275.08 L133 275.21 L133.5 275.34 L134 275.47 L134.5 275.59 L135 275.72 L135.5 275.85 L136 275.97 L136.5 276.09 L137 276.22 L137.5 276.34 L138 276.46 L138.5 276.58 L139 276.7 L139.5 276.81 L140 276.93 L140.5 277.05 L141 277.16 L141.5 277.28 L142 277.39 L142.5 277.5 L143 277.61 L143.5 277.72 L144 277.83 L144.5 277.94 L145 278.05 L145.5 278.16 L146 278.27 L146.5 278.37 L147 278.48 L147.5 278.58 L148 278.69 L148.5 278.79 L149 278.9 L149.5 279 L150 279.1 L150.5 279.2 L151 279.3 L151.5 279.4 L152 279.5 L152.5 279.6 L153 279.69 L153.5 279.79 L154 279.89 L154.5 279.98 L155 280.08 L155.5 280.17 L156 280.27 L156.5 280.36 L157 280.45 L157.5 280.55 L158 280.64 L158.5 280.73 L159 280.82 L159.5 280.91 L160 281 L160.5 281.09 L161 281.18 L161.5 281.27 L162 281.35 L162.5 281.44 L163 281.53 L163.5 281.62 L164 281.7 L164.5 281.79 L165 281.87 L165.5 281.96 L166 282.06 L166.5 282.16 L167 282.27 L167.5 282.4 L168 282.55 L168.5 282.71 L169 282.89 L169.5 283.09 L170 283.32 L170.5 283.57 L171 283.84 L171.5 284.14 L172 284.47 L172.5 284.82 L173 285.2 L173.5 285.61 L174 286.05 L174.5 286.51 L175 287 L175.5 287.53 L176 288.08 L176.5 288.66 L177 289.26 L177.5 289.89 L178 290.55 L178.5 291.23 L179 291.94 L179.5 292.67 L180 293.42 L180.5 294.19 L181 294.99 L181.5 295.8 L182 296.63 L182.5 297.47 L183 298.33 L183.5 299.2 L184 300.09 L184.5 300.98 L185 301.88 L185.5 302.79 L186 303.71 L186.5 304.62 L187 305.54 L187.5 306.46 L188 307.38 L188.5 308.29 L189 309.2 L189.5 310.1 L190 310.99 L190.5 311.87 L191 312.74 L191.5 313.6 L192 314.44 L192.5 315.27 L193 316.08 L193.5 316.87 L194 317.64 L194.5 318.38 L195 319.11 L195.5 319.81 L196 320.48 L196.5 321.13 L197 321.76 L197.5 322.35 L198 322.92 L198.5 323.46 L199 323.97 L199.5 324.45 L200 324.9 L200.5 325.33 L201 325.72 L201.5 326.08 L202 326.42 L202.5 326.73 L203 327.01 L203.5 327.27 L204 327.51 L204.5 327.72 L205 327.9 L205.5 328.07 L206 328.22 L206.5 328.36 L207 328.48 L207.5 328.59 L208 328.7 L208.5 328.8 L209 328.9 L209.5 329 L210 329.09 L210.5 329.19 L211 329.29 L211.5 329.39 L212 329.48 L212.5 329.58 L213 329.67 L213.5 329.77 L214 329.87 L214.5 329.96 L215 330.06 L215.5 330.15 L216 330.24 L216.5 330.34 L217 330.43 L217.5 330.52 L218 330.62 L218.5 330.71 L219 330.8 L219.5 330.89 L220 330.98 L220.5 331.07 L221 331.16 L221.5 331.25 L222 331.34 L222.5 331.43 L223 331.52 L223.5 331.61 L224 331.7 L224.5 331.79 L225 331.87 L225.5 331.96 L226 332.05 L226.5 332.13 L227 332.22 L227.5 332.31 L228 332.39 L228.5 332.48 L229 332.56 L229.5 332.65 L230 332.73 L230.5 332.82 L231 332.9 L231.5 332.99 L232 333.07 L232.5 333.16 L233 333.25 L233.5 333.33 L234 333.42 L234.5 333.51 L235 333.6 L235.5 333.69 L236 333.79 L236.5 333.88 L237 333.98 L237.5 334.09 L238 334.2 L238.5 334.31 L239 334.43 L239.5 334.55 L240 334.68 L240.5 334.82 L241 334.97 L241.5 335.13 L242 335.3 L242.5 335.48 L243 335.67 L243.5 335.88 L244 336.1 L244.5 336.33 L245 336.58 L245.5 336.84 L246 337.12 L246.5 337.42 L247 337.73 L247.5 338.06 L248 338.4 L248.5 338.75 L249 339.12 L249.5 339.5 L250 339.9 L250.5 340.3 L251 340.71 L251.5 341.12 L252 341.54 L252.5 341.97 L253 342.39 L253.5 342.81 L254 343.23 L254.5 343.64 L255 344.05 L255.5 344.45 L256 344.83 L256.5 345.21 L257 345.57 L257.5 345.91 L258 346.24 L258.5 346.56 L259 346.86 L259.5 347.14 L260 347.4 L260.5 347.65 L261 347.88 L261.5 348.09 L262 348.29 L262.5 348.48 L263 348.65 L263.5 348.8 L264 348.95 L264.5 349.08 L265 349.2 L265.5 349.31 L266 349.42 L266.5 349.51 L267 349.6 L267.5 349.68 L268 349.76 L268.5 349.83 L269 349.9 L269.5 349.96 L270 350.02 L270.5 350.08 L271 350.13 L271.5 350.18 L272 350.24 L272.5 350.29 L273 350.34 L273.5 350.38 L274 350.43 L274.5 350.48 L275 350.52 L275.5 350.57 L276 350.61 L276.5 350.66 L277 350.7 L277.5 350.75 L278 350.79 L278.5 350.84 L279 350.88 L279.5 350.92 L280 350.97 L280.5 351.01 L281 351.06 L281.5 351.1 L282 351.14 L282.5 351.19 L283 351.23 L283.5 351.27 L284 351.32 L284.5 351.36 L285 351.41 L285.5 351.45 L286 351.49 L286.5 351.54 L287 351.58 L287.5 351.62 L288 351.67 L288.5 351.71 L289 351.75 L289.5 351.8 L290 351.84 L290.5 351.88 L291 351.93 L291.5 351.97 L292 352.01 L292.5 352.06 L293 352.1 L293.5 352.14 L294 352.19 L294.5 352.23 L295 352.27 L295.5 352.32 L296 352.36 L296.5 352.4 L297 352.44 L297.5 352.49 L298 352.53 L298.5 352.57 L299 352.62 L299.5 352.66 L300 352.7 L300.5 352.75 L301 352.79 L301.5 352.83 L302 352.87 L302.5 352.92 L303 352.96 L303.5 353 L304 353.04 L304.5 353.09 L305 353.13 L305.5 353.17 L306 353.21 L306.5 353.26 L307 353.3 L307.5 353.34 L308 353.38 L308.5 353.43 L309 353.47 L309.5 353.51 L310 353.55 L310.5 353.6 L311 353.64 L311.5 353.68 L312 353.72 L312.5 353.77 L313 353.81 L313.5 353.85 L314 353.89 L314.5 353.93 L315 353.98 L315.5 354.02 L316 354.06 L316.5 354.1 L317 354.14 L317.5 354.19 L318 354.23 L318.5 354.27 L319 354.31 L319.5 354.35 L320 354.4 L320.5 354.44 L321 354.48 L321.5 354.52 L322 354.56 L322.5 354.61 L323 354.65 L323.5 354.69 L324 354.73 L324.5 354.77 L325 354.81 L325.5 354.86 L326 354.9 L326.5 354.94 L327 354.98 L327.5 355.02 L328 355.06 L328.5 355.1 L329 355.15 L329.5 355.19 L330 355.23 L330.5 355.27 L331 355.31 L331.5 355.35" fill="none" stroke="#a82e5f" stroke-width="1.15" stroke-linejoin="round" stroke-linecap="butt" clip-path="url(#ci2)"/>
<path d="M100 262.7 L100.5 262.99 L101 263.28 L101.5 263.56 L102 263.83 L102.5 264.1 L103 264.36 L103.5 264.62 L104 264.88 L104.5 265.13 L105 265.37 L105.5 265.62 L106 265.86 L106.5 266.09 L107 266.33 L107.5 266.55 L108 266.78 L108.5 267 L109 267.22 L109.5 267.44 L110 267.65 L110.5 267.86 L111 268.07 L111.5 268.27 L112 268.48 L112.5 268.68 L113 268.87 L113.5 269.07 L114 269.26 L114.5 269.45 L115 269.64 L115.5 269.82 L116 270 L116.5 270.19 L117 270.36 L117.5 270.54 L118 270.72 L118.5 270.89 L119 271.06 L119.5 271.23 L120 271.4 L120.5 271.56 L121 271.72 L121.5 271.89 L122 272.05 L122.5 272.21 L123 272.36 L123.5 272.52 L124 272.67 L124.5 272.82 L125 272.98 L125.5 273.12 L126 273.27 L126.5 273.42 L127 273.56 L127.5 273.71 L128 273.85 L128.5 273.99 L129 274.13 L129.5 274.27 L130 274.41 L130.5 274.55 L131 274.68 L131.5 274.81 L132 274.95 L132.5 275.08 L133 275.21 L133.5 275.34 L134 275.47 L134.5 275.59 L135 275.72 L135.5 275.85 L136 275.97 L136.5 276.09 L137 276.22 L137.5 276.34 L138 276.46 L138.5 276.58 L139 276.7 L139.5 276.81 L140 276.93 L140.5 277.05 L141 277.16 L141.5 277.28 L142 277.39 L142.5 277.5 L143 277.61 L143.5 277.72 L144 277.83 L144.5 277.94 L145 278.05 L145.5 278.16 L146 278.27 L146.5 278.37 L147 278.48 L147.5 278.58 L148 278.69 L148.5 278.79 L149 278.9 L149.5 279.01 L150 279.12 L150.5 279.23 L151 279.35 L151.5 279.48 L152 279.62 L152.5 279.76 L153 279.91 L153.5 280.07 L154 280.24 L154.5 280.43 L155 280.62 L155.5 280.83 L156 281.04 L156.5 281.28 L157 281.52 L157.5 281.78 L158 282.05 L158.5 282.34 L159 282.64 L159.5 282.96 L160 283.29 L160.5 283.63 L161 283.99 L161.5 284.37 L162 284.76 L162.5 285.17 L163 285.59 L163.5 286.02 L164 286.48 L164.5 286.94 L165 287.42 L165.5 287.91 L166 288.42 L166.5 288.94 L167 289.48 L167.5 290.02 L168 290.58 L168.5 291.15 L169 291.74 L169.5 292.33 L170 292.94 L170.5 293.55 L171 294.18 L171.5 294.81 L172 295.45 L172.5 296.1 L173 296.76 L173.5 297.43 L174 298.1 L174.5 298.78 L175 299.46 L175.5 300.14 L176 300.83 L176.5 301.53 L177 302.22 L177.5 302.92 L178 303.62 L178.5 304.32 L179 305.02 L179.5 305.72 L180 306.41 L180.5 307.11 L181 307.8 L181.5 308.49 L182 309.17 L182.5 309.85 L183 310.52 L183.5 311.19 L184 311.85 L184.5 312.5 L185 313.14 L185.5 313.78 L186 314.4 L186.5 315.02 L187 315.62 L187.5 316.22 L188 316.8 L188.5 317.37 L189 317.93 L189.5 318.47 L190 319 L190.5 319.52 L191 320.03 L191.5 320.52 L192 320.99 L192.5 321.45 L193 321.89 L193.5 322.32 L194 322.74 L194.5 323.13 L195 323.51 L195.5 323.88 L196 324.23 L196.5 324.56 L197 324.88 L197.5 325.18 L198 325.47 L198.5 325.74 L199 326 L199.5 326.24 L200 326.47 L200.5 326.68 L201 326.88 L201.5 327.07 L202 327.24 L202.5 327.4 L203 327.56 L203.5 327.7 L204 327.83 L204.5 327.96 L205 328.08 L205.5 328.19 L206 328.3 L206.5 328.4 L207 328.5 L207.5 328.6 L208 328.7 L208.5 328.8 L209 328.9 L209.5 329 L210 329.09 L210.5 329.19 L211 329.29 L211.5 329.39 L212 329.48 L212.5 329.58 L213 329.67 L213.5 329.77 L214 329.87 L214.5 329.96 L215 330.06 L215.5 330.15 L216 330.24 L216.5 330.34 L217 330.43 L217.5 330.52 L218 330.62 L218.5 330.71 L219 330.8 L219.5 330.89 L220 330.98 L220.5 331.07 L221 331.16 L221.5 331.25 L222 331.34 L222.5 331.43 L223 331.52 L223.5 331.61 L224 331.7 L224.5 331.79 L225 331.87 L225.5 331.96 L226 332.05 L226.5 332.13 L227 332.22 L227.5 332.31 L228 332.39 L228.5 332.48 L229 332.56 L229.5 332.65 L230 332.73 L230.5 332.81 L231 332.9 L231.5 332.98 L232 333.06 L232.5 333.14 L233 333.23 L233.5 333.31 L234 333.39 L234.5 333.47 L235 333.55 L235.5 333.63 L236 333.71 L236.5 333.79 L237 333.87 L237.5 333.95 L238 334.03 L238.5 334.11 L239 334.18 L239.5 334.26 L240 334.34 L240.5 334.42 L241 334.49 L241.5 334.57 L242 334.65 L242.5 334.72 L243 334.8 L243.5 334.88 L244 334.95 L244.5 335.03 L245 335.11 L245.5 335.18 L246 335.26 L246.5 335.34 L247 335.42 L247.5 335.5 L248 335.58 L248.5 335.66 L249 335.74 L249.5 335.83 L250 335.91 L250.5 336 L251 336.1 L251.5 336.19 L252 336.29 L252.5 336.4 L253 336.5 L253.5 336.62 L254 336.74 L254.5 336.86 L255 336.99 L255.5 337.13 L256 337.28 L256.5 337.43 L257 337.6 L257.5 337.77 L258 337.95 L258.5 338.15 L259 338.35 L259.5 338.56 L260 338.79 L260.5 339.03 L261 339.27 L261.5 339.53 L262 339.8 L262.5 340.08 L263 340.37 L263.5 340.67 L264 340.98 L264.5 341.3 L265 341.63 L265.5 341.96 L266 342.3 L266.5 342.65 L267 342.99 L267.5 343.35 L268 343.7 L268.5 344.05 L269 344.41 L269.5 344.76 L270 345.1 L270.5 345.45 L271 345.78 L271.5 346.12 L272 346.44 L272.5 346.75 L273 347.06 L273.5 347.35 L274 347.64 L274.5 347.91 L275 348.18 L275.5 348.43 L276 348.67 L276.5 348.89 L277 349.11 L277.5 349.31 L278 349.5 L278.5 349.68 L279 349.85 L279.5 350.01 L280 350.16 L280.5 350.3 L281 350.43 L281.5 350.55 L282 350.67 L282.5 350.77 L283 350.87 L283.5 350.96 L284 351.05 L284.5 351.13 L285 351.21 L285.5 351.28 L286 351.35 L286.5 351.42 L287 351.48 L287.5 351.54 L288 351.6 L288.5 351.65 L289 351.71 L289.5 351.76 L290 351.81 L290.5 351.86 L291 351.91 L291.5 351.95 L292 352 L292.5 352.05 L293 352.09 L293.5 352.14 L294 352.18 L294.5 352.22 L295 352.27 L295.5 352.31 L296 352.36 L296.5 352.4 L297 352.44 L297.5 352.49 L298 352.53 L298.5 352.57 L299 352.62 L299.5 352.66 L300 352.7 L300.5 352.75 L301 352.79 L301.5 352.83 L302 352.87 L302.5 352.92 L303 352.96 L303.5 353 L304 353.04 L304.5 353.09 L305 353.13 L305.5 353.17 L306 353.21 L306.5 353.26 L307 353.3 L307.5 353.34 L308 353.38 L308.5 353.43 L309 353.47 L309.5 353.51 L310 353.55 L310.5 353.6 L311 353.64 L311.5 353.68 L312 353.72 L312.5 353.77 L313 353.81 L313.5 353.85 L314 353.89 L314.5 353.93 L315 353.98 L315.5 354.02 L316 354.06 L316.5 354.1 L317 354.14 L317.5 354.19 L318 354.23 L318.5 354.27 L319 354.31 L319.5 354.35 L320 354.4 L320.5 354.44 L321 354.48 L321.5 354.52 L322 354.56 L322.5 354.61 L323 354.65 L323.5 354.69 L324 354.73 L324.5 354.77 L325 354.81 L325.5 354.86 L326 354.9 L326.5 354.94 L327 354.98 L327.5 355.02 L328 355.06 L328.5 355.1 L329 355.15 L329.5 355.19 L330 355.23 L330.5 355.27 L331 355.31 L331.5 355.35" fill="none" stroke="#dd513a" stroke-width="1.15" stroke-linejoin="round" stroke-linecap="butt" clip-path="url(#ci2)"/>
<path d="M100 262.7 L100.5 262.99 L101 263.28 L101.5 263.56 L102 263.83 L102.5 264.1 L103 264.36 L103.5 264.62 L104 264.88 L104.5 265.13 L105 265.37 L105.5 265.62 L106 265.86 L106.5 266.09 L107 266.33 L107.5 266.55 L108 266.78 L108.5 267 L109 267.22 L109.5 267.44 L110 267.65 L110.5 267.86 L111 268.07 L111.5 268.27 L112 268.48 L112.5 268.68 L113 268.87 L113.5 269.07 L114 269.26 L114.5 269.45 L115 269.64 L115.5 269.82 L116 270 L116.5 270.19 L117 270.36 L117.5 270.54 L118 270.72 L118.5 270.89 L119 271.06 L119.5 271.23 L120 271.4 L120.5 271.56 L121 271.72 L121.5 271.89 L122 272.05 L122.5 272.21 L123 272.36 L123.5 272.52 L124 272.67 L124.5 272.82 L125 272.98 L125.5 273.12 L126 273.27 L126.5 273.42 L127 273.56 L127.5 273.71 L128 273.85 L128.5 273.99 L129 274.13 L129.5 274.27 L130 274.41 L130.5 274.55 L131 274.68 L131.5 274.81 L132 274.95 L132.5 275.08 L133 275.21 L133.5 275.35 L134 275.49 L134.5 275.63 L135 275.77 L135.5 275.91 L136 276.06 L136.5 276.21 L137 276.37 L137.5 276.53 L138 276.7 L138.5 276.87 L139 277.05 L139.5 277.23 L140 277.42 L140.5 277.62 L141 277.82 L141.5 278.03 L142 278.25 L142.5 278.48 L143 278.71 L143.5 278.96 L144 279.21 L144.5 279.47 L145 279.74 L145.5 280.01 L146 280.3 L146.5 280.59 L147 280.89 L147.5 281.21 L148 281.53 L148.5 281.86 L149 282.2 L149.5 282.54 L150 282.9 L150.5 283.26 L151 283.64 L151.5 284.02 L152 284.41 L152.5 284.81 L153 285.22 L153.5 285.64 L154 286.06 L154.5 286.5 L155 286.94 L155.5 287.39 L156 287.84 L156.5 288.31 L157 288.78 L157.5 289.26 L158 289.74 L158.5 290.24 L159 290.74 L159.5 291.24 L160 291.75 L160.5 292.27 L161 292.79 L161.5 293.32 L162 293.85 L162.5 294.39 L163 294.93 L163.5 295.48 L164 296.03 L164.5 296.58 L165 297.14 L165.5 297.7 L166 298.26 L166.5 298.83 L167 299.4 L167.5 299.97 L168 300.54 L168.5 301.11 L169 301.68 L169.5 302.25 L170 302.82 L170.5 303.4 L171 303.97 L171.5 304.54 L172 305.11 L172.5 305.68 L173 306.24 L173.5 306.81 L174 307.37 L174.5 307.93 L175 308.48 L175.5 309.03 L176 309.58 L176.5 310.13 L177 310.67 L177.5 311.2 L178 311.73 L178.5 312.25 L179 312.77 L179.5 313.28 L180 313.79 L180.5 314.29 L181 314.78 L181.5 315.27 L182 315.74 L182.5 316.21 L183 316.68 L183.5 317.13 L184 317.58 L184.5 318.02 L185 318.44 L185.5 318.86 L186 319.28 L186.5 319.68 L187 320.07 L187.5 320.45 L188 320.83 L188.5 321.19 L189 321.55 L189.5 321.89 L190 322.23 L190.5 322.55 L191 322.86 L191.5 323.17 L192 323.46 L192.5 323.75 L193 324.02 L193.5 324.29 L194 324.54 L194.5 324.79 L195 325.02 L195.5 325.25 L196 325.47 L196.5 325.67 L197 325.87 L197.5 326.06 L198 326.24 L198.5 326.42 L199 326.58 L199.5 326.74 L200 326.89 L200.5 327.04 L201 327.17 L201.5 327.3 L202 327.43 L202.5 327.55 L203 327.67 L203.5 327.78 L204 327.89 L204.5 327.99 L205 328.1 L205.5 328.2 L206 328.3 L206.5 328.4 L207 328.5 L207.5 328.6 L208 328.7 L208.5 328.8 L209 328.9 L209.5 329 L210 329.09 L210.5 329.19 L211 329.29 L211.5 329.39 L212 329.48 L212.5 329.58 L213 329.67 L213.5 329.77 L214 329.87 L214.5 329.96 L215 330.06 L215.5 330.15 L216 330.24 L216.5 330.34 L217 330.43 L217.5 330.52 L218 330.62 L218.5 330.71 L219 330.8 L219.5 330.89 L220 330.98 L220.5 331.07 L221 331.16 L221.5 331.25 L222 331.34 L222.5 331.43 L223 331.52 L223.5 331.61 L224 331.7 L224.5 331.79 L225 331.87 L225.5 331.96 L226 332.05 L226.5 332.13 L227 332.22 L227.5 332.31 L228 332.39 L228.5 332.48 L229 332.56 L229.5 332.65 L230 332.73 L230.5 332.81 L231 332.9 L231.5 332.98 L232 333.06 L232.5 333.14 L233 333.23 L233.5 333.31 L234 333.39 L234.5 333.47 L235 333.55 L235.5 333.63 L236 333.71 L236.5 333.79 L237 333.87 L237.5 333.95 L238 334.03 L238.5 334.11 L239 334.18 L239.5 334.26 L240 334.34 L240.5 334.41 L241 334.49 L241.5 334.57 L242 334.64 L242.5 334.72 L243 334.79 L243.5 334.87 L244 334.94 L244.5 335.02 L245 335.09 L245.5 335.16 L246 335.24 L246.5 335.31 L247 335.38 L247.5 335.45 L248 335.52 L248.5 335.59 L249 335.67 L249.5 335.74 L250 335.81 L250.5 335.88 L251 335.95 L251.5 336.02 L252 336.08 L252.5 336.15 L253 336.22 L253.5 336.29 L254 336.36 L254.5 336.43 L255 336.49 L255.5 336.56 L256 336.63 L256.5 336.7 L257 336.77 L257.5 336.83 L258 336.9 L258.5 336.97 L259 337.04 L259.5 337.11 L260 337.18 L260.5 337.25 L261 337.32 L261.5 337.4 L262 337.47 L262.5 337.55 L263 337.63 L263.5 337.71 L264 337.79 L264.5 337.87 L265 337.96 L265.5 338.05 L266 338.15 L266.5 338.24 L267 338.35 L267.5 338.45 L268 338.56 L268.5 338.68 L269 338.8 L269.5 338.93 L270 339.07 L270.5 339.21 L271 339.36 L271.5 339.51 L272 339.67 L272.5 339.85 L273 340.02 L273.5 340.21 L274 340.41 L274.5 340.61 L275 340.82 L275.5 341.05 L276 341.27 L276.5 341.51 L277 341.76 L277.5 342.01 L278 342.27 L278.5 342.54 L279 342.82 L279.5 343.1 L280 343.38 L280.5 343.68 L281 343.97 L281.5 344.27 L282 344.57 L282.5 344.88 L283 345.18 L283.5 345.49 L284 345.8 L284.5 346.1 L285 346.4 L285.5 346.7 L286 347 L286.5 347.29 L287 347.58 L287.5 347.86 L288 348.14 L288.5 348.41 L289 348.67 L289.5 348.92 L290 349.17 L290.5 349.41 L291 349.64 L291.5 349.86 L292 350.07 L292.5 350.27 L293 350.47 L293.5 350.65 L294 350.83 L294.5 350.99 L295 351.15 L295.5 351.3 L296 351.45 L296.5 351.58 L297 351.71 L297.5 351.83 L298 351.94 L298.5 352.05 L299 352.15 L299.5 352.25 L300 352.34 L300.5 352.43 L301 352.51 L301.5 352.59 L302 352.66 L302.5 352.73 L303 352.8 L303.5 352.86 L304 352.93 L304.5 352.98 L305 353.04 L305.5 353.1 L306 353.15 L306.5 353.2 L307 353.25 L307.5 353.3 L308 353.35 L308.5 353.4 L309 353.45 L309.5 353.49 L310 353.54 L310.5 353.58 L311 353.63 L311.5 353.67 L312 353.72 L312.5 353.76 L313 353.8 L313.5 353.85 L314 353.89 L314.5 353.93 L315 353.97 L315.5 354.02 L316 354.06 L316.5 354.1 L317 354.14 L317.5 354.19 L318 354.23 L318.5 354.27 L319 354.31 L319.5 354.35 L320 354.4 L320.5 354.44 L321 354.48 L321.5 354.52 L322 354.56 L322.5 354.61 L323 354.65 L323.5 354.69 L324 354.73 L324.5 354.77 L325 354.81 L325.5 354.86 L326 354.9 L326.5 354.94 L327 354.98 L327.5 355.02 L328 355.06 L328.5 355.1 L329 355.15 L329.5 355.19 L330 355.23 L330.5 355.27 L331 355.31 L331.5 355.35" fill="none" stroke="#f98e09" stroke-width="1.15" stroke-linejoin="round" stroke-linecap="butt" clip-path="url(#ci2)"/>
<path d="M100 262.7 L100.5 262.99 L101 263.28 L101.5 263.56 L102 263.83 L102.5 264.1 L103 264.36 L103.5 264.62 L104 264.88 L104.5 265.13 L105 265.37 L105.5 265.62 L106 265.86 L106.5 266.09 L107 266.33 L107.5 266.55 L108 266.78 L108.5 267 L109 267.22 L109.5 267.44 L110 267.65 L110.5 267.86 L111 268.07 L111.5 268.27 L112 268.48 L112.5 268.68 L113 268.87 L113.5 269.07 L114 269.26 L114.5 269.45 L115 269.64 L115.5 269.82 L116 270.01 L116.5 270.19 L117 270.37 L117.5 270.56 L118 270.74 L118.5 270.92 L119 271.11 L119.5 271.29 L120 271.48 L120.5 271.67 L121 271.85 L121.5 272.05 L122 272.24 L122.5 272.43 L123 272.63 L123.5 272.83 L124 273.04 L124.5 273.24 L125 273.45 L125.5 273.67 L126 273.88 L126.5 274.11 L127 274.33 L127.5 274.56 L128 274.79 L128.5 275.03 L129 275.27 L129.5 275.52 L130 275.77 L130.5 276.03 L131 276.29 L131.5 276.55 L132 276.82 L132.5 277.1 L133 277.38 L133.5 277.66 L134 277.95 L134.5 278.25 L135 278.55 L135.5 278.85 L136 279.17 L136.5 279.48 L137 279.8 L137.5 280.13 L138 280.46 L138.5 280.8 L139 281.14 L139.5 281.49 L140 281.84 L140.5 282.2 L141 282.56 L141.5 282.93 L142 283.31 L142.5 283.68 L143 284.07 L143.5 284.45 L144 284.85 L144.5 285.24 L145 285.65 L145.5 286.05 L146 286.46 L146.5 286.88 L147 287.3 L147.5 287.72 L148 288.15 L148.5 288.58 L149 289.01 L149.5 289.45 L150 289.89 L150.5 290.34 L151 290.79 L151.5 291.24 L152 291.69 L152.5 292.15 L153 292.61 L153.5 293.08 L154 293.54 L154.5 294.01 L155 294.48 L155.5 294.96 L156 295.43 L156.5 295.91 L157 296.38 L157.5 296.86 L158 297.34 L158.5 297.83 L159 298.31 L159.5 298.79 L160 299.28 L160.5 299.76 L161 300.25 L161.5 300.73 L162 301.22 L162.5 301.7 L163 302.19 L163.5 302.67 L164 303.15 L164.5 303.64 L165 304.12 L165.5 304.6 L166 305.07 L166.5 305.55 L167 306.03 L167.5 306.5 L168 306.97 L168.5 307.44 L169 307.9 L169.5 308.37 L170 308.83 L170.5 309.29 L171 309.74 L171.5 310.19 L172 310.64 L172.5 311.08 L173 311.52 L173.5 311.96 L174 312.39 L174.5 312.82 L175 313.24 L175.5 313.66 L176 314.08 L176.5 314.49 L177 314.89 L177.5 315.29 L178 315.68 L178.5 316.07 L179 316.46 L179.5 316.84 L180 317.21 L180.5 317.57 L181 317.94 L181.5 318.29 L182 318.64 L182.5 318.98 L183 319.32 L183.5 319.65 L184 319.97 L184.5 320.29 L185 320.6 L185.5 320.91 L186 321.2 L186.5 321.5 L187 321.78 L187.5 322.06 L188 322.33 L188.5 322.59 L189 322.85 L189.5 323.1 L190 323.35 L190.5 323.59 L191 323.82 L191.5 324.05 L192 324.26 L192.5 324.48 L193 324.68 L193.5 324.88 L194 325.08 L194.5 325.27 L195 325.45 L195.5 325.62 L196 325.79 L196.5 325.96 L197 326.12 L197.5 326.27 L198 326.42 L198.5 326.56 L199 326.7 L199.5 326.84 L200 326.97 L200.5 327.1 L201 327.22 L201.5 327.34 L202 327.45 L202.5 327.57 L203 327.68 L203.5 327.78 L204 327.89 L204.5 327.99 L205 328.1 L205.5 328.2 L206 328.3 L206.5 328.4 L207 328.5 L207.5 328.6 L208 328.7 L208.5 328.8 L209 328.9 L209.5 329 L210 329.09 L210.5 329.19 L211 329.29 L211.5 329.39 L212 329.48 L212.5 329.58 L213 329.67 L213.5 329.77 L214 329.87 L214.5 329.96 L215 330.06 L215.5 330.15 L216 330.24 L216.5 330.34 L217 330.43 L217.5 330.52 L218 330.62 L218.5 330.71 L219 330.8 L219.5 330.89 L220 330.98 L220.5 331.07 L221 331.16 L221.5 331.25 L222 331.34 L222.5 331.43 L223 331.52 L223.5 331.61 L224 331.7 L224.5 331.79 L225 331.87 L225.5 331.96 L226 332.05 L226.5 332.13 L227 332.22 L227.5 332.31 L228 332.39 L228.5 332.48 L229 332.56 L229.5 332.65 L230 332.73 L230.5 332.81 L231 332.9 L231.5 332.98 L232 333.06 L232.5 333.14 L233 333.23 L233.5 333.31 L234 333.39 L234.5 333.47 L235 333.55 L235.5 333.63 L236 333.71 L236.5 333.79 L237 333.87 L237.5 333.95 L238 334.03 L238.5 334.11 L239 334.18 L239.5 334.26 L240 334.34 L240.5 334.41 L241 334.49 L241.5 334.57 L242 334.64 L242.5 334.72 L243 334.79 L243.5 334.87 L244 334.94 L244.5 335.02 L245 335.09 L245.5 335.16 L246 335.24 L246.5 335.31 L247 335.38 L247.5 335.45 L248 335.52 L248.5 335.59 L249 335.67 L249.5 335.74 L250 335.81 L250.5 335.88 L251 335.94 L251.5 336.01 L252 336.08 L252.5 336.15 L253 336.22 L253.5 336.29 L254 336.35 L254.5 336.42 L255 336.49 L255.5 336.55 L256 336.62 L256.5 336.68 L257 336.75 L257.5 336.81 L258 336.88 L258.5 336.94 L259 337.01 L259.5 337.07 L260 337.13 L260.5 337.2 L261 337.26 L261.5 337.32 L262 337.38 L262.5 337.44 L263 337.51 L263.5 337.57 L264 337.63 L264.5 337.69 L265 337.75 L265.5 337.81 L266 337.87 L266.5 337.93 L267 337.98 L267.5 338.04 L268 338.1 L268.5 338.16 L269 338.22 L269.5 338.28 L270 338.33 L270.5 338.39 L271 338.45 L271.5 338.51 L272 338.57 L272.5 338.62 L273 338.68 L273.5 338.74 L274 338.8 L274.5 338.86 L275 338.92 L275.5 338.98 L276 339.05 L276.5 339.11 L277 339.18 L277.5 339.24 L278 339.31 L278.5 339.38 L279 339.46 L279.5 339.53 L280 339.61 L280.5 339.69 L281 339.77 L281.5 339.86 L282 339.95 L282.5 340.04 L283 340.14 L283.5 340.25 L284 340.35 L284.5 340.47 L285 340.59 L285.5 340.71 L286 340.84 L286.5 340.98 L287 341.12 L287.5 341.27 L288 341.43 L288.5 341.59 L289 341.76 L289.5 341.94 L290 342.13 L290.5 342.32 L291 342.52 L291.5 342.73 L292 342.94 L292.5 343.16 L293 343.39 L293.5 343.63 L294 343.87 L294.5 344.12 L295 344.37 L295.5 344.63 L296 344.9 L296.5 345.17 L297 345.44 L297.5 345.71 L298 345.99 L298.5 346.27 L299 346.55 L299.5 346.84 L300 347.12 L300.5 347.4 L301 347.68 L301.5 347.96 L302 348.24 L302.5 348.51 L303 348.78 L303.5 349.05 L304 349.31 L304.5 349.56 L305 349.81 L305.5 350.06 L306 350.3 L306.5 350.53 L307 350.75 L307.5 350.97 L308 351.18 L308.5 351.38 L309 351.58 L309.5 351.76 L310 351.94 L310.5 352.11 L311 352.28 L311.5 352.44 L312 352.59 L312.5 352.73 L313 352.87 L313.5 353 L314 353.12 L314.5 353.24 L315 353.35 L315.5 353.45 L316 353.55 L316.5 353.65 L317 353.74 L317.5 353.83 L318 353.91 L318.5 353.99 L319 354.06 L319.5 354.13 L320 354.2 L320.5 354.27 L321 354.33 L321.5 354.39 L322 354.45 L322.5 354.51 L323 354.56 L323.5 354.61 L324 354.67 L324.5 354.72 L325 354.77 L325.5 354.82 L326 354.86 L326.5 354.91 L327 354.96 L327.5 355 L328 355.05 L328.5 355.09 L329 355.13 L329.5 355.18 L330 355.22 L330.5 355.26 L331 355.31 L331.5 355.35" fill="none" stroke="#f6d746" stroke-width="1.15" stroke-linejoin="round" stroke-linecap="butt" clip-path="url(#ci2)"/>
<rect x="101" y="263" width="230" height="106" fill="none" stroke="#6a6a6a" stroke-width="0.85"/>
<text x="172" y="277.6" font-size="10.9" textLength="130" lengthAdjust="spacingAndGlyphs" transform="matrix(1 0 0 1.1 0 -27.76)">Quasi-steady Shock Outflow</text>
<text x="256" y="300.2" font-size="10.9" textLength="67" lengthAdjust="spacingAndGlyphs" transform="matrix(1 0 0 1.1 0 -30.02)">Leading Shock</text>
<text x="106.4" y="350.8" font-size="10.9" textLength="87.2" lengthAdjust="spacingAndGlyphs" transform="matrix(1 0 0 1.1 0 -35.08)">Inward Rarefaction</text>
<path d="M153.54 337.58 L162.38 314.01 L165.05 315.01 L164 305 L156.63 311.85 L159.29 312.85 L150.46 336.42Z" fill="#000"/>
<path d="M235.35 286 L235.35 322 L232.5 322 L237 331 L241.5 322 L238.65 322 L238.65 286Z" fill="#000"/>
<path d="M288.4 307.41 L295.16 333.69 L292.4 334.4 L299 342 L301.12 332.16 L298.36 332.87 L291.6 306.59Z" fill="#000"/>
<defs><clipPath id="c3"><rect x="40.6" y="483.5" width="307.9" height="152.70000000000005"/></clipPath></defs>
<path d="M51.9 642 L51.86 641.16 L51.8 640.32 L51.76 639.47 L51.75 638.63 L51.77 637.79 L51.8 636.94 L51.87 636.1 L51.94 635.26 L52.03 634.42 L52.12 633.58 L52.21 632.74 L52.3 631.91 L52.4 631.07 L52.49 630.23 L52.6 629.39 L52.7 628.55 L52.81 627.72 L52.92 626.88 L53.03 626.05 L53.15 625.21 L53.27 624.38 L53.4 623.54 L53.53 622.71 L53.67 621.87 L53.81 621.04 L53.96 620.21 L54.12 619.38 L54.28 618.56 L54.45 617.73 L54.63 616.9 L54.8 616.08 L54.99 615.26 L55.17 614.43 L55.37 613.61 L55.57 612.79 L55.78 611.97 L55.99 611.16 L56.2 610.34 L56.43 609.53 L56.66 608.72 L56.9 607.91 L57.15 607.1 L57.41 606.3 L57.67 605.5 L57.95 604.7 L58.23 603.91 L58.53 603.12 L58.83 602.33 L59.15 601.55 L59.48 600.77 L59.81 600 L60.16 599.23 L60.51 598.46 L60.87 597.7 L61.24 596.94 L61.62 596.19 L62.01 595.43 L62.4 594.69 L62.79 593.94 L63.2 593.2 L63.61 592.47 L64.03 591.73 L64.46 591.01 L64.91 590.29 L65.35 589.58 L65.82 588.87 L66.28 588.17 L66.76 587.47 L67.24 586.78 L67.72 586.09 L68.21 585.4 L68.7 584.71 L69.2 584.03 L69.69 583.34 L70.18 582.66 L70.68 581.98 L71.17 581.29 L71.67 580.61 L72.17 579.93 L72.66 579.25 L73.17 578.57 L73.67 577.9 L74.18 577.22 L74.69 576.55 L75.21 575.88 L75.72 575.21 L76.25 574.55 L76.77 573.89 L77.3 573.23 L77.84 572.58 L78.38 571.94 L78.92 571.29 L79.48 570.66 L80.03 570.02 L80.59 569.39 L81.17 568.77 L81.74 568.15 L82.32 567.54 L82.91 566.94 L83.5 566.33 L84.09 565.74 L84.7 565.14 L85.3 564.55 L85.9 563.96 L86.51 563.38 L87.12 562.8 L87.74 562.22 L88.35 561.64 L88.97 561.07 L89.59 560.49 L90.21 559.92 L90.83 559.35 L91.45 558.78 L92.07 558.21 L92.69 557.64 L93.31 557.06 L93.93 556.49 L94.55 555.92 L95.17 555.35 L95.79 554.77 L96.41 554.2 L97.02 553.62 L97.64 553.04 L98.25 552.47 L98.87 551.89 L99.49 551.31 L100.1 550.74 L100.72 550.16 L101.34 549.59 L101.96 549.01 L102.58 548.44 L103.2 547.87 L103.82 547.3 L104.45 546.74 L105.07 546.17 L105.7 545.61 L106.33 545.05 L106.97 544.49 L107.6 543.93 L108.24 543.38 L108.88 542.83 L109.52 542.28 L110.16 541.73 L110.8 541.18 L111.45 540.62 L112.1 540.07 L112.75 539.52 L113.4 538.97 L114.05 538.43 L114.71 537.88 L115.36 537.34 L116.02 536.79 L116.67 536.24 L117.33 535.7 L117.99 535.16 L118.64 534.61 L119.3 534.07 L119.96 533.53 L120.62 532.98 L121.28 532.44 L121.94 531.9 L122.61 531.36 L123.27 530.82 L123.94 530.29 L124.6 529.75 L125.27 529.21 L125.93 528.67 L126.61 528.14 L127.28 527.61 L127.95 527.08 L128.62 526.55 L129.3 526.02 L129.97 525.49 L130.65 524.97 L131.33 524.45 L132.01 523.93 L132.7 523.4 L133.38 522.89 L134.07 522.38 L134.77 521.87 L135.46 521.36 L136.15 520.85 L136.85 520.36 L137.56 519.87 L138.27 519.38 L138.98 518.89 L139.69 518.41 L140.42 517.95 L141.14 517.49 L141.87 517.03 L142.61 516.58 L143.35 516.15 L144.1 515.72 L144.85 515.29 L145.61 514.89 L146.37 514.49 L147.14 514.09 L147.91 513.71 L148.69 513.34 L149.47 512.97 L150.25 512.61 L151.04 512.26 L151.83 511.91 L152.62 511.57 L153.42 511.24 L154.22 510.91 L155.02 510.58 L155.82 510.26 L156.62 509.93 L157.42 509.6 L158.22 509.27 L159.02 508.94 L159.82 508.61 L160.62 508.29 L161.41 507.98 L162.2 507.67 L163 507.36 L163.8 507.05 L164.59 506.74 L165.39 506.45 L166.19 506.15 L166.99 505.85 L167.79 505.57 L168.6 505.28 L169.4 505 L170.21 504.74 L171.03 504.47 L171.84 504.21 L172.65 503.97 L173.47 503.73 L174.29 503.49 L175.12 503.27 L175.94 503.06 L176.77 502.85 L177.6 502.66 L178.43 502.48 L179.27 502.3 L180.11 502.14 L180.95 502 L181.79 501.87 L182.63 501.73 L183.48 501.63 L184.33 501.53 L185.17 501.43 L186.02 501.34 L186.87 501.27 L187.72 501.19 L188.57 501.12 L189.42 501.05 L203 499.6 L244.8 503.2 L245.1 529.9 L245.1 542.4 L270.9 565 L283.2 575.8 L291.4 582.6 L292.25 583.16 L292.85 583.77 L293.45 584.38 L294.05 584.98 L294.66 585.58 L295.27 586.18 L295.88 586.77 L296.5 587.36 L297.12 587.94 L297.75 588.52 L298.38 589.09 L299.02 589.66 L299.66 590.22 L300.31 590.78 L300.95 591.34 L301.6 591.89 L302.25 592.44 L302.9 593 L303.55 593.55 L304.2 594.1 L304.85 594.65 L305.51 595.2 L306.16 595.75 L306.81 596.29 L307.47 596.84 L308.13 597.38 L308.79 597.92 L309.45 598.47 L310.11 599 L310.77 599.54 L311.43 600.08 L312.1 600.61 L312.77 601.14 L313.43 601.67 L314.11 602.2 L314.78 602.72 L315.45 603.25 L316.13 603.76 L316.81 604.28 L317.49 604.79 L318.18 605.3 L318.87 605.79 L319.57 606.29 L320.27 606.78 L320.97 607.26 L321.68 607.73 L322.4 608.19 L323.12 608.65 L323.84 609.1 L324.57 609.54 L325.31 609.98 L326.05 610.4 L326.79 610.82 L327.54 611.23 L328.29 611.63 L329.04 612.03 L329.8 612.43 L330.56 612.82 L331.31 613.21 L332.07 613.6 L332.83 614 L333.59 614.39" fill="none" stroke="#000004" stroke-width="1.15" stroke-linejoin="round" stroke-linecap="butt" clip-path="url(#c3)"/>
<path d="M52.5 641.95 L52.45 641.09 L52.39 640.24 L52.36 639.43 L52.35 638.63 L52.36 637.82 L52.4 637.01 L52.46 636.19 L52.54 635.36 L52.62 634.52 L52.71 633.68 L52.8 632.84 L52.89 631.99 L52.99 631.15 L53.09 630.31 L53.19 629.47 L53.3 628.63 L53.4 627.79 L53.52 626.94 L53.63 626.11 L53.75 625.27 L53.87 624.43 L54 623.6 L54.13 622.76 L54.27 621.93 L54.41 621.11 L54.56 620.28 L54.72 619.45 L54.88 618.62 L55.05 617.8 L55.22 616.97 L55.4 616.15 L55.59 615.32 L55.77 614.5 L55.97 613.68 L56.17 612.86 L56.38 612.05 L56.59 611.23 L56.81 610.42 L57.03 609.61 L57.26 608.81 L57.5 608 L57.75 607.2 L58 606.4 L58.27 605.61 L58.54 604.82 L58.82 604.04 L59.12 603.26 L59.42 602.48 L59.73 601.71 L60.06 600.94 L60.39 600.17 L60.73 599.41 L61.08 598.65 L61.44 597.9 L61.81 597.15 L62.19 596.4 L62.57 595.65 L62.96 594.91 L63.36 594.16 L63.76 593.43 L64.17 592.7 L64.58 591.98 L65.01 591.27 L65.45 590.56 L65.89 589.85 L66.35 589.16 L66.81 588.46 L67.29 587.76 L67.77 587.07 L68.25 586.38 L68.74 585.69 L69.24 585 L69.73 584.31 L70.23 583.62 L70.73 582.93 L71.23 582.24 L71.73 581.55 L72.23 580.86 L72.73 580.17 L73.23 579.49 L73.74 578.81 L74.25 578.13 L74.75 577.46 L75.27 576.79 L75.78 576.11 L76.3 575.45 L76.82 574.79 L77.35 574.13 L77.88 573.48 L78.42 572.83 L78.96 572.18 L79.5 571.54 L80.05 570.91 L80.61 570.28 L81.16 569.66 L81.74 569.04 L82.31 568.42 L82.89 567.82 L83.48 567.22 L84.06 566.61 L84.66 566.02 L85.26 565.43 L85.86 564.83 L86.47 564.25 L87.09 563.66 L87.7 563.08 L88.31 562.5 L88.94 561.92 L89.56 561.34 L90.18 560.77 L90.81 560.19 L91.43 559.61 L92.06 559.03 L92.69 558.46 L93.32 557.88 L93.94 557.3 L94.57 556.72 L95.2 556.14 L95.83 555.56 L96.45 554.97 L97.08 554.39 L97.7 553.81 L98.32 553.22 L98.95 552.64 L99.57 552.06 L100.19 551.48 L100.81 550.89 L101.43 550.31 L102.06 549.74 L102.68 549.16 L103.31 548.58 L103.93 548.01 L104.56 547.44 L105.19 546.87 L105.82 546.3 L106.45 545.74 L107.09 545.18 L107.73 544.62 L108.36 544.06 L109 543.51 L109.65 542.96 L110.3 542.4 L110.94 541.86 L111.57 541.3 L112.21 540.73 L112.85 540.17 L113.48 539.6 L114.12 539.05 L114.77 538.49 L115.41 537.93 L116.06 537.37 L116.7 536.81 L117.34 536.26 L117.99 535.7 L118.64 535.14 L119.28 534.59 L119.93 534.04 L120.58 533.48 L121.23 532.93 L121.88 532.38 L122.53 531.83 L123.17 531.28 L123.83 530.73 L124.48 530.18 L125.14 529.64 L125.79 529.09 L126.44 528.55 L127.1 528.01 L127.76 527.47 L128.42 526.93 L129.08 526.39 L129.74 525.85 L130.4 525.32 L131.07 524.8 L131.74 524.27 L132.41 523.74 L133.07 523.21 L133.74 522.69 L134.42 522.18 L135.1 521.66 L135.78 521.15 L136.46 520.63 L137.14 520.14 L137.84 519.65 L138.53 519.15 L139.22 518.66 L139.92 518.18 L140.63 517.72 L141.35 517.25 L142.06 516.79 L142.78 516.34 L143.51 515.91 L144.24 515.47 L144.98 515.04 L145.72 514.63 L146.47 514.23 L147.22 513.83 L147.98 513.44 L148.75 513.06 L149.51 512.69 L150.29 512.33 L151.08 512.01 L151.87 511.68 L152.66 511.36 L153.45 511.05 L154.25 510.74 L155.04 510.43 L155.84 510.13 L156.64 509.83 L157.43 509.52 L158.23 509.22 L159.03 508.91 L159.82 508.6 L160.62 508.29 L161.41 507.98 L162.2 507.67 L163 507.36 L163.8 507.05 L164.59 506.74 L165.39 506.45 L166.19 506.15 L166.99 505.85 L167.79 505.57 L168.6 505.28 L169.4 505 L170.21 504.74 L171.03 504.47 L171.84 504.21 L172.65 503.97 L173.47 503.73 L174.29 503.49 L175.12 503.27 L175.94 503.06 L176.77 502.85 L177.6 502.66 L178.43 502.48 L179.27 502.3 L180.11 502.14 L180.95 502 L181.79 501.87 L182.63 501.73 L183.48 501.63 L184.33 501.53 L185.17 501.43 L186.02 501.34 L186.87 501.27 L187.72 501.19 L188.57 501.12 L189.42 501.05 L190.27 500.99 L191.12 500.94 L191.98 500.88 L192.83 500.83 L193.68 500.78 L194.53 500.74 L195.38 500.69 L196.23 500.65 L197.09 500.61 L197.94 500.57 L198.79 500.53 L199.64 500.49 L200.49 500.45 L201.35 500.4 L202.2 500.35 L203.05 500.32 L203.9 500.4 L204.75 500.49 L205.6 500.57 L206.44 500.65 L207.29 500.73 L208.14 500.81 L208.99 500.89 L209.84 500.97 L210.69 501.06 L211.54 501.14 L212.39 501.23 L213.24 501.32 L214.08 501.41 L214.93 501.5 L215.78 501.6 L216.63 501.7 L217.47 501.81 L218.32 501.92 L219.16 502.04 L220.01 502.16 L220.85 502.31 L221.69 502.45 L222.53 502.61 L223.36 502.79 L224.19 502.98 L225.02 503.18 L225.85 503.39 L226.67 503.63 L227.49 503.86 L228.3 504.12 L229.11 504.37 L229.92 504.65 L230.73 504.92 L231.53 505.21 L232.34 505.5 L233.13 505.8 L233.93 506.1 L234.73 506.4 L235.53 506.7 L236.33 507.01 L237.12 507.32 L237.91 507.65 L238.69 507.99 L239.46 508.36 L240.21 508.76 L240.94 509.2 L241.63 509.7 L242.26 510.27 L242.8 510.93 L243.2 511.68 L243.47 512.49 L243.68 513.32 L243.9 514.14 L244.13 514.96 L244.34 515.79 L244.53 516.62 L244.7 517.45 L244.87 518.29 L245.04 519.13 L245.23 519.96 L245.44 520.78 L245.68 521.6 L245.93 522.42 L246.2 523.23 L246.48 524.03 L246.78 524.83 L247.1 525.62 L247.45 526.4 L247.84 527.16 L248.27 527.89 L248.76 528.59 L249.27 529.28 L249.77 529.97 L250.26 530.67 L250.75 531.37 L251.24 532.06 L251.74 532.76 L252.23 533.45 L252.73 534.14 L253.23 534.84 L253.73 535.53 L254.23 536.22 L254.74 536.9 L255.24 537.59 L255.76 538.27 L256.27 538.95 L256.8 539.62 L257.33 540.29 L257.88 540.94 L258.43 541.6 L258.97 542.25 L259.51 542.91 L260.04 543.58 L260.56 544.26 L261.08 544.94 L261.58 545.63 L262.08 546.32 L262.56 547.02 L263.04 547.73 L263.51 548.44 L263.97 549.16 L264.43 549.88 L264.89 550.6 L265.34 551.32 L265.8 552.04 L266.26 552.76 L266.71 553.48 L267.18 554.2 L267.64 554.91 L268.11 555.63 L268.58 556.33 L269.06 557.04 L269.54 557.74 L270.04 558.44 L270.54 559.13 L271.03 559.82 L271.54 560.51 L272.07 561.18 L272.59 561.85 L273.12 562.52 L273.67 563.18 L274.22 563.83 L274.77 564.48 L275.32 565.13 L275.88 565.77 L276.45 566.41 L277.01 567.05 L277.58 567.69 L278.15 568.32 L278.72 568.95 L279.3 569.59 L279.87 570.22 L280.45 570.84 L281.03 571.47 L281.61 572.09 L282.19 572.72 L282.78 573.34 L283.37 573.96 L283.95 574.58 L284.54 575.2 L285.13 575.81 L285.72 576.43 L286.31 577.04 L286.9 577.66 L287.49 578.27 L288.08 578.89 L288.68 579.5 L289.27 580.11 L289.86 580.72 L290.46 581.34 L291.06 581.95 L291.65 582.56 L292.25 583.16 L292.85 583.77 L293.45 584.38 L294.05 584.98 L294.66 585.58 L295.27 586.18 L295.88 586.77 L296.5 587.36 L297.12 587.94 L297.75 588.52 L298.38 589.09 L299.02 589.66 L299.66 590.22 L300.31 590.78 L300.95 591.34 L301.6 591.89 L302.25 592.44 L302.9 593 L303.55 593.55 L304.2 594.1 L304.85 594.65 L305.51 595.2 L306.16 595.75 L306.81 596.29 L307.47 596.84 L308.13 597.38 L308.79 597.92 L309.45 598.47 L310.11 599 L310.77 599.54 L311.43 600.08 L312.1 600.61 L312.77 601.14 L313.43 601.67 L314.11 602.2 L314.78 602.72 L315.45 603.25 L316.13 603.76 L316.81 604.28 L317.49 604.79 L318.18 605.3 L318.87 605.79 L319.57 606.29 L320.27 606.78 L320.97 607.26 L321.68 607.73 L322.4 608.19 L323.12 608.65 L323.84 609.1 L324.57 609.54 L325.31 609.98 L326.05 610.4 L326.79 610.82 L327.54 611.23 L328.29 611.63 L329.04 612.03 L329.8 612.43 L330.56 612.82 L331.31 613.21 L332.07 613.6 L332.83 614 L333.59 614.39" fill="none" stroke="#2b0b57" stroke-width="1.15" stroke-linejoin="round" stroke-linecap="butt" clip-path="url(#c3)"/>
<path d="M51.3 642.02 L51.26 641.17 L51.2 640.33 L51.16 639.48 L51.15 638.63 L51.17 637.77 L51.2 636.92 L51.27 636.08 L51.34 635.23 L51.43 634.38 L51.52 633.54 L51.61 632.69 L51.7 631.85 L51.8 631.01 L51.9 630.16 L52 629.32 L52.1 628.48 L52.21 627.63 L52.33 626.79 L52.44 625.95 L52.56 625.11 L52.68 624.27 L52.81 623.43 L52.94 622.59 L53.08 621.75 L53.23 620.91 L53.38 620.08 L53.54 619.24 L53.7 618.41 L53.87 617.58 L54.05 616.74 L54.22 615.91 L54.41 615.08 L54.6 614.26 L54.8 613.43 L55 612.6 L55.21 611.78 L55.42 610.96 L55.64 610.14 L55.87 609.32 L56.1 608.5 L56.34 607.69 L56.59 606.87 L56.85 606.06 L57.12 605.26 L57.4 604.46 L57.69 603.65 L57.98 602.86 L58.29 602.07 L58.61 601.28 L58.94 600.5 L59.28 599.72 L59.63 598.94 L59.98 598.17 L60.35 597.4 L60.72 596.64 L61.1 595.88 L61.49 595.12 L61.89 594.37 L62.29 593.62 L62.69 592.87 L63.11 592.13 L63.53 591.4 L63.97 590.67 L64.42 589.94 L64.87 589.22 L65.34 588.51 L65.81 587.8 L66.29 587.1 L66.77 586.4 L67.26 585.71 L67.75 585.02 L68.24 584.33 L68.74 583.64 L69.24 582.95 L69.73 582.26 L70.23 581.57 L70.73 580.88 L71.23 580.19 L71.73 579.51 L72.23 578.82 L72.74 578.14 L73.25 577.46 L73.76 576.78 L74.28 576.11 L74.79 575.43 L75.31 574.76 L75.84 574.1 L76.37 573.43 L76.9 572.77 L77.45 572.12 L77.99 571.46 L78.54 570.81 L79.1 570.18 L79.66 569.54 L80.23 568.9 L80.8 568.28 L81.38 567.66 L81.97 567.04 L82.56 566.43 L83.15 565.83 L83.76 565.23 L84.36 564.63 L84.97 564.03 L85.58 563.44 L86.19 562.86 L86.81 562.27 L87.43 561.69 L88.05 561.11 L88.67 560.53 L89.29 559.95 L89.92 559.38 L90.54 558.8 L91.17 558.22 L91.79 557.65 L92.42 557.08 L93.04 556.5 L93.66 555.92 L94.29 555.35 L94.91 554.77 L95.53 554.19 L96.15 553.61 L96.77 553.03 L97.39 552.45 L98.01 551.87 L98.63 551.29 L99.25 550.71 L99.87 550.13 L100.49 549.55 L101.12 548.97 L101.74 548.4 L102.37 547.82 L102.99 547.25 L103.62 546.68 L104.25 546.11 L104.88 545.53 L105.52 544.97 L106.15 544.41 L106.79 543.85 L107.43 543.29 L108.07 542.73 L108.72 542.18 L109.36 541.63 L110.01 541.08 L110.66 540.53 L111.31 539.99 L111.97 539.44 L112.62 538.9 L113.28 538.37 L113.94 537.83 L114.6 537.29 L115.26 536.76 L115.92 536.22 L116.58 535.69 L117.24 535.16 L117.9 534.62 L118.56 534.09 L119.22 533.56 L119.89 533.03 L120.55 532.5 L121.22 531.97 L121.88 531.44 L122.55 530.91 L123.22 530.39 L123.88 529.87 L124.55 529.34 L125.22 528.82 L125.89 528.3 L126.57 527.78 L127.24 527.27 L127.92 526.75 L128.59 526.23 L129.27 525.72 L129.95 525.21 L130.63 524.7 L131.31 524.2 L132 523.7 L132.68 523.19 L133.37 522.69 L134.06 522.2 L134.75 521.71 L135.45 521.22 L136.14 520.73 L136.85 520.26 L137.55 519.78 L138.26 519.32 L138.97 518.85 L139.69 518.39 L140.41 517.95 L141.14 517.51 L141.86 517.07 L142.6 516.64 L143.34 516.23 L144.09 515.82 L144.83 515.42 L145.59 515.04 L146.35 514.66 L147.11 514.28 L147.88 513.92 L148.66 513.57 L149.43 513.22 L150.21 512.89 L151 512.56 L151.78 512.24 L152.57 511.92 L153.36 511.61 L154.15 511.3 L154.94 511 L155.74 510.7 L156.53 510.4 L157.33 510.1 L158.12 509.8 L158.91 509.49 L159.71 509.19 L160.5 508.88 L161.29 508.57 L162.08 508.27 L162.87 507.96 L163.67 507.66 L164.46 507.35 L165.26 507.06 L166.05 506.76 L166.85 506.47 L167.65 506.18 L168.45 505.9 L169.25 505.62 L170.06 505.36 L170.87 505.09 L171.68 504.83 L172.49 504.59 L173.3 504.35 L174.12 504.11 L174.94 503.89 L175.76 503.68 L176.59 503.47 L177.41 503.28 L178.24 503.1 L179.07 502.92 L179.91 502.76 L180.74 502.62 L181.58 502.48 L182.42 502.35 L183.26 502.24 L184.11 502.14 L184.95 502.05 L185.79 501.95 L186.64 501.88 L187.49 501.81 L188.33 501.74 L189.18 501.67 L190.03 501.61 L190.87 501.56 L191.72 501.5 L192.57 501.45 L193.42 501.41 L194.27 501.36 L195.11 501.32 L195.96 501.28 L196.81 501.24 L197.66 501.2 L198.51 501.16 L199.36 501.13 L200.21 501.09 L201.05 501.05 L201.9 501 L202.75 500.97 L203.59 501.03 L204.44 501.1 L205.28 501.2 L206.12 501.3 L206.97 501.4 L207.81 501.5 L208.65 501.6 L209.49 501.7 L210.33 501.81 L211.18 501.91 L212.02 502.02 L212.86 502.12 L213.7 502.23 L214.54 502.35 L215.38 502.47 L216.22 502.58 L217.06 502.71 L217.9 502.84 L218.74 502.97 L219.58 503.11 L220.41 503.27 L221.24 503.43 L222.07 503.6 L222.9 503.79 L223.73 503.99 L224.54 504.21 L225.36 504.44 L226.17 504.69 L226.98 504.94 L227.79 505.21 L228.59 505.49 L229.38 505.78 L230.18 506.08 L230.96 506.4 L231.75 506.72 L232.53 507.04 L233.31 507.38 L234.08 507.71 L234.86 508.05 L235.63 508.39 L236.39 508.75 L237.15 509.12 L237.89 509.52 L238.61 509.93 L239.32 510.38 L240.01 510.87 L240.67 511.4 L241.28 511.98 L241.8 512.65 L242.2 513.39 L242.5 514.19 L242.75 514.99 L243.02 515.79 L243.31 516.58 L243.6 517.35 L243.88 518.12 L244.16 518.88 L244.44 519.64 L244.72 520.39 L245.01 521.14 L245.33 521.88 L245.67 522.61 L246.02 523.33 L246.38 524.05 L246.76 524.77 L247.15 525.48 L247.56 526.19 L247.98 526.89 L248.44 527.58 L248.94 528.23 L249.48 528.86 L250.03 529.49 L250.57 530.14 L251.09 530.81 L251.58 531.5 L252.04 532.21 L252.47 532.93 L252.9 533.65 L253.31 534.37 L253.73 535.09 L254.15 535.81 L254.57 536.53 L255 537.24 L255.44 537.95 L255.9 538.66 L256.38 539.35 L256.88 540.04 L257.4 540.71 L257.93 541.37 L258.47 542.03 L259.02 542.68 L259.56 543.33 L260.1 543.99 L260.63 544.65 L261.15 545.32 L261.66 546 L262.17 546.68 L262.67 547.36 L263.17 548.05 L263.65 548.75 L264.13 549.44 L264.61 550.14 L265.09 550.84 L265.56 551.54 L266.04 552.24 L266.52 552.94 L267 553.64 L267.48 554.34 L267.97 555.03 L268.45 555.73 L268.95 556.42 L269.44 557.1 L269.94 557.79 L270.45 558.47 L270.96 559.14 L271.48 559.82 L272 560.49 L272.53 561.15 L273.07 561.81 L273.6 562.46 L274.16 563.11 L274.71 563.75 L275.26 564.39 L275.82 565.03 L276.39 565.67 L276.96 566.3 L277.52 566.93 L278.1 567.56 L278.67 568.18 L279.25 568.81 L279.83 569.43 L280.4 570.05 L280.99 570.67 L281.57 571.28 L282.16 571.9 L282.74 572.52 L283.33 573.13 L283.92 573.74 L284.51 574.35 L285.09 574.96 L285.69 575.57 L286.28 576.18 L286.87 576.79 L287.46 577.4 L288.05 578.01 L288.65 578.62 L289.24 579.22 L289.84 579.83 L290.43 580.44 L291.03 581.04 L291.62 581.65 L292.22 582.25 L292.82 582.86 L293.41 583.46 L294.01 584.06 L294.61 584.66 L295.22 585.26 L295.83 585.85 L296.44 586.44 L297.05 587.03 L297.67 587.61 L298.29 588.19 L298.92 588.76 L299.55 589.33 L300.18 589.9 L300.82 590.46 L301.46 591.02 L302.09 591.58 L302.73 592.14 L303.37 592.69 L304.02 593.25 L304.66 593.81 L305.3 594.36 L305.94 594.92 L306.58 595.47 L307.23 596.03 L307.87 596.58 L308.52 597.13 L309.17 597.68 L309.82 598.22 L310.47 598.77 L311.12 599.31 L311.77 599.86 L312.42 600.4 L313.08 600.94 L313.74 601.47 L314.4 602.01 L315.06 602.54 L315.73 603.06 L316.4 603.59 L317.07 604.11 L317.74 604.62 L318.42 605.14 L319.1 605.64 L319.79 606.14 L320.48 606.63 L321.18 607.11 L321.89 607.58 L322.6 608.05 L323.31 608.51 L324.03 608.96 L324.76 609.4 L325.49 609.83 L326.23 610.25 L326.97 610.67 L327.71 611.08 L328.46 611.49 L329.2 611.89 L329.96 612.28 L330.71 612.68 L331.46 613.07 L332.21 613.47 L332.96 613.86 L333.72 614.26" fill="none" stroke="#6a176e" stroke-width="1.15" stroke-linejoin="round" stroke-linecap="butt" clip-path="url(#c3)"/>
<path d="M51 642.04 L50.96 641.21 L50.9 640.36 L50.86 639.49 L50.85 638.63 L50.87 637.76 L50.9 636.89 L50.97 636.04 L51.05 635.19 L51.13 634.34 L51.22 633.49 L51.31 632.65 L51.4 631.81 L51.5 630.97 L51.6 630.12 L51.7 629.28 L51.81 628.44 L51.92 627.6 L52.03 626.76 L52.14 625.92 L52.26 625.08 L52.38 624.24 L52.51 623.4 L52.65 622.56 L52.78 621.72 L52.93 620.88 L53.08 620.04 L53.24 619.2 L53.4 618.37 L53.57 617.54 L53.75 616.71 L53.93 615.87 L54.11 615.05 L54.3 614.22 L54.5 613.39 L54.7 612.56 L54.91 611.74 L55.12 610.91 L55.34 610.09 L55.57 609.27 L55.8 608.45 L56.05 607.63 L56.3 606.82 L56.56 606 L56.82 605.19 L57.1 604.39 L57.39 603.58 L57.69 602.78 L58 601.98 L58.32 601.19 L58.65 600.4 L58.99 599.62 L59.34 598.84 L59.7 598.06 L60.07 597.3 L60.44 596.53 L60.83 595.77 L61.21 595.01 L61.61 594.25 L62.01 593.5 L62.42 592.75 L62.84 592.01 L63.26 591.27 L63.7 590.53 L64.15 589.81 L64.6 589.08 L65.07 588.37 L65.54 587.66 L66.02 586.95 L66.51 586.25 L67 585.56 L67.49 584.87 L67.98 584.18 L68.48 583.49 L68.97 582.8 L69.46 582.12 L69.96 581.43 L70.46 580.74 L70.96 580.06 L71.46 579.38 L71.96 578.69 L72.46 578.01 L72.97 577.33 L73.48 576.65 L74 575.98 L74.51 575.31 L75.04 574.63 L75.56 573.97 L76.09 573.3 L76.63 572.64 L77.17 571.98 L77.71 571.33 L78.26 570.68 L78.82 570.03 L79.38 569.39 L79.95 568.76 L80.53 568.13 L81.11 567.51 L81.7 566.89 L82.29 566.28 L82.89 565.67 L83.49 565.07 L84.09 564.47 L84.7 563.88 L85.31 563.29 L85.92 562.7 L86.54 562.11 L87.16 561.53 L87.77 560.95 L88.39 560.38 L89.02 559.8 L89.64 559.23 L90.26 558.65 L90.88 558.08 L91.5 557.51 L92.13 556.93 L92.75 556.36 L93.37 555.79 L93.99 555.22 L94.61 554.64 L95.23 554.07 L95.84 553.49 L96.46 552.91 L97.08 552.34 L97.7 551.76 L98.31 551.18 L98.93 550.6 L99.55 550.02 L100.17 549.44 L100.79 548.87 L101.41 548.29 L102.03 547.72 L102.66 547.15 L103.28 546.58 L103.91 546.01 L104.54 545.44 L105.18 544.87 L105.81 544.31 L106.45 543.75 L107.08 543.19 L107.73 542.63 L108.37 542.08 L109.01 541.53 L109.66 540.98 L110.32 540.44 L110.98 539.91 L111.64 539.38 L112.3 538.85 L112.96 538.32 L113.63 537.8 L114.29 537.27 L114.96 536.75 L115.62 536.23 L116.29 535.7 L116.95 535.18 L117.62 534.66 L118.29 534.14 L118.96 533.62 L119.62 533.1 L120.29 532.59 L120.96 532.07 L121.63 531.55 L122.31 531.04 L122.98 530.52 L123.65 530.01 L124.33 529.5 L125 528.99 L125.68 528.48 L126.36 527.97 L127.04 527.47 L127.72 526.96 L128.4 526.46 L129.08 525.96 L129.76 525.46 L130.45 524.96 L131.14 524.47 L131.83 523.98 L132.52 523.49 L133.21 523 L133.91 522.52 L134.61 522.04 L135.3 521.56 L136 521.08 L136.71 520.62 L137.42 520.15 L138.14 519.7 L138.85 519.24 L139.57 518.8 L140.3 518.36 L141.03 517.93 L141.76 517.5 L142.5 517.09 L143.24 516.68 L143.99 516.29 L144.74 515.9 L145.5 515.52 L146.26 515.15 L147.03 514.79 L147.8 514.44 L148.57 514.1 L149.35 513.77 L150.13 513.45 L150.91 513.12 L151.69 512.8 L152.48 512.48 L153.27 512.17 L154.06 511.87 L154.85 511.57 L155.64 511.27 L156.43 510.97 L157.22 510.67 L158.01 510.38 L158.8 510.08 L159.59 509.78 L160.38 509.47 L161.17 509.17 L161.96 508.86 L162.75 508.56 L163.54 508.26 L164.33 507.96 L165.12 507.67 L165.92 507.37 L166.71 507.08 L167.51 506.8 L168.3 506.52 L169.1 506.24 L169.91 505.98 L170.71 505.71 L171.51 505.45 L172.32 505.21 L173.13 504.97 L173.95 504.73 L174.76 504.51 L175.58 504.3 L176.4 504.09 L177.22 503.9 L178.05 503.71 L178.88 503.54 L179.71 503.38 L180.54 503.23 L181.37 503.09 L182.21 502.96 L183.05 502.85 L183.89 502.75 L184.73 502.66 L185.57 502.57 L186.41 502.49 L187.25 502.42 L188.09 502.35 L188.94 502.28 L189.78 502.23 L190.62 502.17 L191.47 502.12 L192.31 502.07 L193.16 502.03 L194 501.99 L194.85 501.95 L195.69 501.91 L196.54 501.87 L197.38 501.84 L198.23 501.8 L199.07 501.77 L199.92 501.73 L200.76 501.69 L201.6 501.65 L202.45 501.62 L203.29 501.66 L204.13 501.7 L204.97 501.83 L205.8 501.95 L206.64 502.07 L207.47 502.19 L208.31 502.31 L209.14 502.43 L209.98 502.55 L210.81 502.68 L211.65 502.8 L212.48 502.93 L213.32 503.06 L214.15 503.19 L214.99 503.33 L215.82 503.46 L216.65 503.6 L217.48 503.75 L218.31 503.9 L219.14 504.06 L219.97 504.23 L220.8 504.4 L221.62 504.59 L222.44 504.8 L223.26 505.01 L224.07 505.24 L224.88 505.48 L225.68 505.75 L226.48 506.02 L227.27 506.31 L228.06 506.6 L228.85 506.92 L229.62 507.24 L230.39 507.58 L231.16 507.93 L231.92 508.29 L232.68 508.65 L233.44 509.02 L234.19 509.39 L234.93 509.77 L235.67 510.17 L236.38 510.6 L237.09 511.04 L237.77 511.51 L238.44 512.01 L239.08 512.53 L239.71 513.09 L240.29 513.7 L240.8 514.37 L241.21 515.11 L241.53 515.88 L241.83 516.67 L242.14 517.44 L242.49 518.19 L242.86 518.92 L243.24 519.63 L243.61 520.32 L244 520.99 L244.39 521.66 L244.79 522.33 L245.22 522.98 L245.66 523.62 L246.11 524.25 L246.57 524.88 L247.04 525.51 L247.52 526.13 L248.01 526.76 L248.52 527.38 L249.04 527.99 L249.61 528.57 L250.2 529.13 L250.8 529.7 L251.37 530.31 L251.91 530.95 L252.4 531.64 L252.83 532.37 L253.21 533.11 L253.56 533.85 L253.9 534.6 L254.23 535.35 L254.56 536.09 L254.9 536.84 L255.26 537.58 L255.63 538.32 L256.05 539.04 L256.49 539.76 L256.96 540.46 L257.46 541.14 L257.98 541.8 L258.52 542.45 L259.07 543.1 L259.61 543.75 L260.15 544.39 L260.69 545.05 L261.22 545.71 L261.74 546.37 L262.26 547.03 L262.77 547.7 L263.29 548.38 L263.79 549.05 L264.29 549.73 L264.79 550.41 L265.29 551.09 L265.79 551.77 L266.28 552.45 L266.78 553.13 L267.28 553.81 L267.79 554.48 L268.29 555.16 L268.8 555.83 L269.31 556.5 L269.82 557.17 L270.34 557.83 L270.86 558.5 L271.39 559.16 L271.92 559.81 L272.45 560.47 L273 561.11 L273.54 561.76 L274.08 562.41 L274.64 563.04 L275.2 563.67 L275.76 564.31 L276.33 564.94 L276.9 565.56 L277.47 566.18 L278.04 566.81 L278.62 567.42 L279.19 568.04 L279.77 568.66 L280.36 569.27 L280.94 569.88 L281.52 570.49 L282.11 571.1 L282.7 571.71 L283.28 572.32 L283.88 572.92 L284.47 573.53 L285.06 574.13 L285.65 574.73 L286.24 575.34 L286.84 575.94 L287.43 576.54 L288.03 577.14 L288.62 577.74 L289.21 578.34 L289.81 578.94 L290.4 579.55 L291 580.15 L291.59 580.75 L292.19 581.35 L292.78 581.95 L293.38 582.55 L293.98 583.15 L294.58 583.74 L295.18 584.34 L295.78 584.93 L296.38 585.52 L296.99 586.11 L297.6 586.7 L298.21 587.28 L298.83 587.86 L299.45 588.43 L300.08 589 L300.7 589.57 L301.33 590.14 L301.96 590.7 L302.59 591.26 L303.22 591.83 L303.85 592.39 L304.48 592.95 L305.11 593.51 L305.74 594.08 L306.38 594.64 L307.01 595.2 L307.64 595.76 L308.28 596.32 L308.91 596.87 L309.55 597.43 L310.18 597.98 L310.83 598.54 L311.47 599.09 L312.11 599.64 L312.75 600.18 L313.4 600.73 L314.04 601.27 L314.69 601.81 L315.35 602.35 L316 602.88 L316.66 603.41 L317.32 603.94 L317.99 604.46 L318.66 604.97 L319.33 605.48 L320.02 605.98 L320.7 606.48 L321.39 606.96 L322.09 607.44 L322.8 607.9 L323.51 608.36 L324.22 608.81 L324.95 609.25 L325.67 609.69 L326.4 610.11 L327.14 610.53 L327.88 610.94 L328.62 611.34 L329.37 611.74 L330.11 612.14 L330.86 612.54 L331.61 612.93 L332.35 613.33 L333.1 613.73 L333.85 614.12" fill="none" stroke="#a82e5f" stroke-width="1.15" stroke-linejoin="round" stroke-linecap="butt" clip-path="url(#c3)"/>
<path d="M51 642.05 L50.96 641.22 L50.9 640.38 L50.86 639.5 L50.85 638.63 L50.87 637.75 L50.9 636.88 L50.97 636.02 L51.05 635.17 L51.13 634.32 L51.22 633.48 L51.31 632.64 L51.41 631.8 L51.5 630.96 L51.6 630.12 L51.7 629.28 L51.81 628.44 L51.92 627.6 L52.03 626.77 L52.14 625.93 L52.26 625.09 L52.38 624.25 L52.51 623.41 L52.64 622.57 L52.78 621.73 L52.93 620.9 L53.08 620.06 L53.24 619.22 L53.4 618.39 L53.57 617.56 L53.74 616.73 L53.92 615.9 L54.11 615.07 L54.29 614.24 L54.49 613.42 L54.69 612.59 L54.9 611.77 L55.11 610.94 L55.33 610.12 L55.56 609.3 L55.79 608.48 L56.04 607.67 L56.28 606.85 L56.55 606.04 L56.81 605.23 L57.09 604.42 L57.38 603.61 L57.68 602.81 L57.99 602.01 L58.31 601.22 L58.64 600.43 L58.98 599.65 L59.33 598.87 L59.69 598.09 L60.06 597.32 L60.43 596.55 L60.81 595.79 L61.2 595.03 L61.59 594.28 L61.99 593.53 L62.4 592.78 L62.82 592.04 L63.25 591.29 L63.69 590.56 L64.13 589.83 L64.59 589.1 L65.06 588.39 L65.53 587.68 L66.01 586.97 L66.49 586.27 L66.98 585.58 L67.47 584.89 L67.96 584.2 L68.45 583.52 L68.95 582.83 L69.44 582.15 L69.93 581.47 L70.43 580.78 L70.93 580.1 L71.42 579.42 L71.92 578.74 L72.43 578.06 L72.93 577.38 L73.44 576.7 L73.96 576.03 L74.47 575.36 L74.99 574.69 L75.52 574.02 L76.05 573.36 L76.58 572.69 L77.12 572.04 L77.66 571.39 L78.21 570.73 L78.77 570.09 L79.33 569.45 L79.9 568.81 L80.48 568.19 L81.06 567.57 L81.65 566.95 L82.24 566.34 L82.83 565.73 L83.43 565.13 L84.03 564.53 L84.64 563.94 L85.25 563.34 L85.86 562.76 L86.47 562.18 L87.09 561.6 L87.7 561.02 L88.32 560.44 L88.94 559.87 L89.56 559.3 L90.18 558.72 L90.8 558.15 L91.42 557.58 L92.04 557.01 L92.66 556.44 L93.28 555.87 L93.89 555.3 L94.51 554.73 L95.12 554.16 L95.74 553.59 L96.35 553.01 L96.97 552.44 L97.58 551.86 L98.2 551.29 L98.81 550.71 L99.43 550.14 L100.04 549.56 L100.66 548.98 L101.28 548.41 L101.9 547.84 L102.52 547.27 L103.15 546.7 L103.77 546.13 L104.4 545.57 L105.03 545 L105.67 544.44 L106.3 543.88 L106.93 543.32 L107.57 542.76 L108.22 542.21 L108.86 541.67 L109.5 541.12 L110.16 540.59 L110.83 540.06 L111.49 539.54 L112.15 539.01 L112.82 538.49 L113.49 537.97 L114.15 537.46 L114.82 536.94 L115.49 536.43 L116.16 535.91 L116.83 535.4 L117.49 534.89 L118.16 534.38 L118.83 533.86 L119.5 533.35 L120.18 532.84 L120.85 532.34 L121.52 531.83 L122.19 531.32 L122.87 530.81 L123.55 530.31 L124.22 529.81 L124.9 529.3 L125.58 528.8 L126.26 528.3 L126.94 527.8 L127.62 527.31 L128.3 526.82 L128.99 526.32 L129.67 525.83 L130.36 525.34 L131.05 524.85 L131.74 524.37 L132.43 523.89 L133.13 523.41 L133.82 522.93 L134.52 522.46 L135.23 521.99 L135.93 521.52 L136.63 521.06 L137.34 520.6 L138.06 520.15 L138.78 519.71 L139.5 519.27 L140.22 518.83 L140.95 518.41 L141.69 517.99 L142.43 517.58 L143.17 517.18 L143.92 516.79 L144.67 516.41 L145.43 516.04 L146.19 515.67 L146.95 515.32 L147.72 514.98 L148.5 514.64 L149.27 514.32 L150.05 514 L150.83 513.67 L151.61 513.35 L152.39 513.04 L153.17 512.73 L153.96 512.43 L154.75 512.13 L155.54 511.84 L156.32 511.54 L157.11 511.25 L157.9 510.96 L158.69 510.66 L159.48 510.36 L160.26 510.06 L161.05 509.77 L161.84 509.46 L162.62 509.17 L163.41 508.87 L164.2 508.57 L164.99 508.28 L165.78 507.99 L166.57 507.7 L167.36 507.42 L168.16 507.14 L168.95 506.86 L169.75 506.6 L170.55 506.33 L171.35 506.08 L172.16 505.83 L172.96 505.59 L173.77 505.36 L174.59 505.14 L175.4 504.92 L176.22 504.71 L177.04 504.52 L177.86 504.33 L178.68 504.16 L179.51 504 L180.33 503.84 L181.16 503.71 L182 503.58 L182.83 503.47 L183.67 503.36 L184.5 503.27 L185.34 503.18 L186.18 503.1 L187.02 503.03 L187.86 502.97 L188.7 502.9 L189.54 502.84 L190.38 502.79 L191.22 502.74 L192.06 502.7 L192.9 502.65 L193.74 502.61 L194.58 502.57 L195.42 502.54 L196.26 502.5 L197.1 502.47 L197.94 502.44 L198.78 502.41 L199.63 502.37 L200.47 502.34 L201.31 502.3 L202.15 502.27 L202.99 502.28 L203.83 502.31 L204.65 502.46 L205.48 502.6 L206.31 502.74 L207.14 502.88 L207.97 503.02 L208.8 503.16 L209.62 503.3 L210.45 503.45 L211.28 503.59 L212.11 503.74 L212.94 503.88 L213.76 504.03 L214.59 504.19 L215.41 504.34 L216.24 504.5 L217.06 504.67 L217.89 504.83 L218.71 505.01 L219.53 505.19 L220.35 505.38 L221.17 505.58 L221.98 505.8 L222.79 506.02 L223.59 506.27 L224.39 506.53 L225.19 506.81 L225.98 507.09 L226.76 507.4 L227.54 507.72 L228.31 508.06 L229.07 508.4 L229.82 508.77 L230.57 509.15 L231.32 509.53 L232.05 509.93 L232.79 510.33 L233.52 510.74 L234.24 511.16 L234.94 511.6 L235.62 512.07 L236.29 512.57 L236.93 513.09 L237.55 513.63 L238.16 514.2 L238.75 514.79 L239.31 515.41 L239.8 516.09 L240.22 516.82 L240.57 517.58 L240.9 518.34 L241.26 519.09 L241.68 519.81 L242.12 520.48 L242.59 521.13 L243.07 521.75 L243.56 522.34 L244.07 522.93 L244.58 523.51 L245.1 524.08 L245.64 524.63 L246.2 525.17 L246.76 525.71 L247.32 526.24 L247.89 526.78 L248.47 527.32 L249.05 527.87 L249.65 528.41 L250.28 528.91 L250.92 529.4 L251.57 529.91 L252.18 530.47 L252.74 531.1 L253.22 531.78 L253.62 532.52 L253.94 533.28 L254.22 534.05 L254.48 534.83 L254.73 535.6 L254.98 536.38 L255.24 537.15 L255.52 537.92 L255.83 538.68 L256.2 539.43 L256.6 540.16 L257.05 540.87 L257.52 541.56 L258.03 542.23 L258.57 542.88 L259.11 543.52 L259.66 544.16 L260.21 544.8 L260.75 545.44 L261.29 546.09 L261.82 546.74 L262.36 547.39 L262.88 548.05 L263.41 548.7 L263.93 549.36 L264.45 550.02 L264.97 550.68 L265.49 551.34 L266.01 551.99 L266.53 552.65 L267.05 553.31 L267.57 553.97 L268.09 554.62 L268.62 555.28 L269.14 555.93 L269.67 556.58 L270.2 557.23 L270.74 557.88 L271.28 558.52 L271.82 559.17 L272.36 559.81 L272.91 560.45 L273.46 561.08 L274.01 561.71 L274.57 562.35 L275.13 562.97 L275.7 563.59 L276.26 564.22 L276.83 564.84 L277.41 565.45 L277.98 566.07 L278.56 566.68 L279.14 567.29 L279.72 567.9 L280.3 568.51 L280.89 569.11 L281.47 569.72 L282.06 570.32 L282.65 570.92 L283.24 571.52 L283.83 572.12 L284.42 572.71 L285.02 573.31 L285.61 573.91 L286.21 574.5 L286.8 575.1 L287.4 575.69 L287.99 576.29 L288.59 576.88 L289.19 577.48 L289.78 578.07 L290.38 578.67 L290.97 579.26 L291.57 579.86 L292.16 580.45 L292.76 581.05 L293.35 581.64 L293.95 582.24 L294.54 582.83 L295.14 583.43 L295.74 584.02 L296.34 584.61 L296.94 585.2 L297.54 585.79 L298.15 586.37 L298.76 586.95 L299.37 587.53 L299.99 588.1 L300.6 588.67 L301.22 589.25 L301.84 589.81 L302.46 590.38 L303.09 590.95 L303.71 591.52 L304.33 592.09 L304.95 592.65 L305.57 593.22 L306.19 593.79 L306.81 594.36 L307.43 594.92 L308.05 595.49 L308.68 596.05 L309.3 596.62 L309.93 597.18 L310.55 597.74 L311.18 598.3 L311.81 598.86 L312.44 599.42 L313.08 599.97 L313.71 600.52 L314.35 601.07 L314.99 601.62 L315.63 602.16 L316.28 602.7 L316.93 603.24 L317.58 603.77 L318.24 604.29 L318.9 604.81 L319.56 605.33 L320.24 605.83 L320.92 606.32 L321.61 606.81 L322.3 607.29 L323 607.76 L323.7 608.22 L324.42 608.67 L325.13 609.11 L325.86 609.54 L326.58 609.97 L327.31 610.38 L328.05 610.79 L328.79 611.2 L329.53 611.6 L330.27 612 L331.01 612.4 L331.75 612.79 L332.49 613.19 L333.23 613.59 L333.97 613.99" fill="none" stroke="#dd513a" stroke-width="1.15" stroke-linejoin="round" stroke-linecap="butt" clip-path="url(#c3)"/>
<path d="M51.6 642.03 L51.56 641.2 L51.5 640.36 L51.46 639.5 L51.45 638.63 L51.47 637.77 L51.5 636.91 L51.57 636.05 L51.65 635.21 L51.73 634.37 L51.82 633.53 L51.91 632.7 L52 631.86 L52.1 631.02 L52.2 630.19 L52.3 629.35 L52.4 628.52 L52.51 627.68 L52.62 626.85 L52.73 626.02 L52.85 625.18 L52.97 624.35 L53.1 623.52 L53.23 622.69 L53.37 621.85 L53.51 621.02 L53.66 620.19 L53.82 619.36 L53.98 618.53 L54.15 617.7 L54.32 616.88 L54.5 616.05 L54.69 615.23 L54.87 614.41 L55.07 613.59 L55.27 612.77 L55.47 611.95 L55.68 611.13 L55.9 610.31 L56.13 609.5 L56.36 608.68 L56.6 607.87 L56.85 607.06 L57.11 606.26 L57.37 605.45 L57.65 604.65 L57.93 603.85 L58.23 603.05 L58.54 602.26 L58.86 601.48 L59.18 600.69 L59.52 599.91 L59.87 599.14 L60.22 598.37 L60.59 597.61 L60.95 596.84 L61.34 596.09 L61.72 595.33 L62.11 594.59 L62.51 593.84 L62.91 593.1 L63.33 592.36 L63.75 591.62 L64.19 590.89 L64.63 590.17 L65.08 589.45 L65.55 588.74 L66.01 588.03 L66.49 587.33 L66.97 586.64 L67.46 585.95 L67.94 585.26 L68.43 584.58 L68.92 583.9 L69.41 583.21 L69.9 582.53 L70.39 581.85 L70.89 581.17 L71.38 580.49 L71.88 579.82 L72.37 579.14 L72.88 578.46 L73.38 577.79 L73.88 577.12 L74.4 576.45 L74.91 575.78 L75.42 575.11 L75.95 574.45 L76.47 573.79 L77 573.13 L77.54 572.48 L78.07 571.83 L78.62 571.18 L79.18 570.54 L79.73 569.91 L80.29 569.27 L80.87 568.65 L81.44 568.03 L82.02 567.42 L82.61 566.81 L83.2 566.21 L83.8 565.61 L84.4 565.02 L85 564.42 L85.6 563.84 L86.21 563.26 L86.82 562.67 L87.43 562.1 L88.05 561.52 L88.66 560.95 L89.27 560.38 L89.89 559.81 L90.51 559.24 L91.12 558.67 L91.74 558.1 L92.36 557.54 L92.97 556.97 L93.59 556.4 L94.21 555.83 L94.82 555.26 L95.43 554.69 L96.04 554.12 L96.66 553.55 L97.27 552.98 L97.88 552.41 L98.49 551.83 L99.1 551.26 L99.72 550.69 L100.33 550.11 L100.94 549.54 L101.56 548.97 L102.18 548.4 L102.8 547.83 L103.42 547.27 L104.04 546.7 L104.66 546.14 L105.29 545.57 L105.92 545.02 L106.55 544.46 L107.18 543.91 L107.81 543.35 L108.45 542.8 L109.09 542.26 L109.73 541.72 L110.39 541.18 L111.05 540.65 L111.71 540.13 L112.36 539.61 L113.02 539.09 L113.69 538.57 L114.35 538.06 L115.01 537.54 L115.67 537.03 L116.34 536.51 L117 536 L117.67 535.49 L118.33 534.98 L119 534.47 L119.66 533.96 L120.33 533.45 L121 532.94 L121.67 532.43 L122.33 531.93 L123 531.42 L123.68 530.92 L124.35 530.41 L125.02 529.91 L125.69 529.41 L126.37 528.91 L127.04 528.41 L127.72 527.92 L128.4 527.42 L129.08 526.93 L129.76 526.44 L130.44 525.95 L131.13 525.46 L131.81 524.98 L132.5 524.5 L133.19 524.02 L133.88 523.54 L134.57 523.07 L135.27 522.6 L135.97 522.13 L136.67 521.67 L137.37 521.2 L138.08 520.76 L138.79 520.31 L139.51 519.87 L140.22 519.43 L140.95 519 L141.68 518.59 L142.41 518.17 L143.14 517.77 L143.89 517.37 L144.63 516.99 L145.38 516.62 L146.14 516.24 L146.9 515.89 L147.66 515.55 L148.43 515.2 L149.2 514.88 L149.98 514.56 L150.75 514.23 L151.52 513.91 L152.3 513.6 L153.08 513.3 L153.86 513 L154.65 512.7 L155.43 512.41 L156.22 512.12 L157.01 511.83 L157.79 511.54 L158.58 511.24 L159.36 510.95 L160.15 510.66 L160.93 510.36 L161.72 510.06 L162.5 509.77 L163.28 509.47 L164.07 509.18 L164.86 508.89 L165.64 508.6 L166.43 508.31 L167.22 508.03 L168.01 507.75 L168.8 507.48 L169.6 507.22 L170.39 506.95 L171.19 506.7 L171.99 506.45 L172.8 506.21 L173.6 505.98 L174.41 505.76 L175.22 505.54 L176.03 505.34 L176.85 505.14 L177.66 504.95 L178.48 504.78 L179.31 504.61 L180.13 504.46 L180.95 504.32 L181.78 504.2 L182.61 504.08 L183.44 503.97 L184.28 503.88 L185.11 503.8 L185.95 503.72 L186.78 503.64 L187.62 503.58 L188.45 503.52 L189.29 503.46 L190.13 503.41 L190.96 503.36 L191.8 503.32 L192.64 503.28 L193.47 503.24 L194.31 503.2 L195.15 503.17 L195.99 503.14 L196.82 503.1 L197.66 503.08 L198.5 503.05 L199.34 503.02 L200.17 502.98 L201.01 502.95 L201.85 502.92 L202.68 502.91 L203.52 502.92 L204.34 503.09 L205.16 503.25 L205.98 503.41 L206.8 503.57 L207.62 503.73 L208.45 503.89 L209.27 504.05 L210.09 504.21 L210.91 504.38 L211.73 504.54 L212.55 504.71 L213.37 504.88 L214.19 505.05 L215.01 505.22 L215.83 505.4 L216.65 505.58 L217.46 505.77 L218.28 505.96 L219.09 506.16 L219.9 506.36 L220.71 506.57 L221.52 506.81 L222.32 507.04 L223.12 507.3 L223.91 507.57 L224.69 507.87 L225.48 508.17 L226.25 508.5 L227.01 508.83 L227.77 509.19 L228.52 509.56 L229.25 509.96 L229.99 510.36 L230.71 510.78 L231.43 511.21 L232.14 511.64 L232.85 512.08 L233.54 512.54 L234.21 513.03 L234.86 513.55 L235.48 514.09 L236.08 514.66 L236.66 515.25 L237.23 515.86 L237.78 516.48 L238.32 517.13 L238.8 517.81 L239.22 518.53 L239.6 519.28 L239.98 520.02 L240.39 520.74 L240.86 521.42 L241.38 522.05 L241.94 522.63 L242.53 523.18 L243.13 523.69 L243.74 524.2 L244.36 524.69 L244.99 525.17 L245.63 525.63 L246.29 526.08 L246.94 526.53 L247.6 526.98 L248.26 527.43 L248.92 527.89 L249.58 528.37 L250.25 528.82 L250.94 529.25 L251.65 529.67 L252.33 530.12 L252.98 530.64 L253.56 531.24 L254.05 531.92 L254.41 532.67 L254.67 533.46 L254.88 534.25 L255.06 535.06 L255.22 535.86 L255.39 536.66 L255.57 537.46 L255.78 538.26 L256.02 539.05 L256.34 539.81 L256.72 540.56 L257.13 541.29 L257.59 541.99 L258.08 542.66 L258.61 543.31 L259.16 543.95 L259.71 544.58 L260.26 545.21 L260.81 545.84 L261.36 546.47 L261.9 547.11 L262.45 547.75 L262.99 548.39 L263.53 549.03 L264.07 549.67 L264.61 550.31 L265.15 550.94 L265.69 551.58 L266.23 552.22 L266.77 552.86 L267.31 553.49 L267.85 554.13 L268.4 554.77 L268.94 555.4 L269.49 556.03 L270.04 556.66 L270.59 557.29 L271.14 557.93 L271.69 558.55 L272.25 559.18 L272.8 559.8 L273.36 560.43 L273.92 561.05 L274.49 561.67 L275.05 562.29 L275.62 562.9 L276.19 563.52 L276.76 564.13 L277.33 564.74 L277.91 565.35 L278.49 565.95 L279.07 566.56 L279.65 567.16 L280.24 567.76 L280.83 568.36 L281.41 568.95 L282 569.55 L282.6 570.14 L283.19 570.74 L283.78 571.33 L284.38 571.92 L284.97 572.51 L285.57 573.1 L286.17 573.68 L286.76 574.27 L287.36 574.86 L287.96 575.45 L288.56 576.03 L289.15 576.62 L289.75 577.21 L290.35 577.8 L290.94 578.39 L291.54 578.98 L292.13 579.57 L292.73 580.16 L293.32 580.75 L293.92 581.34 L294.51 581.93 L295.11 582.52 L295.7 583.11 L296.3 583.7 L296.9 584.29 L297.5 584.87 L298.1 585.46 L298.7 586.04 L299.3 586.62 L299.91 587.2 L300.52 587.77 L301.13 588.35 L301.74 588.92 L302.36 589.49 L302.97 590.06 L303.58 590.64 L304.19 591.21 L304.8 591.78 L305.41 592.35 L306.02 592.93 L306.64 593.5 L307.25 594.08 L307.86 594.65 L308.47 595.22 L309.08 595.79 L309.7 596.36 L310.31 596.93 L310.92 597.5 L311.54 598.07 L312.16 598.63 L312.78 599.2 L313.4 599.76 L314.03 600.32 L314.65 600.87 L315.28 601.43 L315.92 601.97 L316.55 602.52 L317.19 603.06 L317.83 603.6 L318.48 604.13 L319.14 604.65 L319.79 605.17 L320.47 605.67 L321.14 606.17 L321.82 606.67 L322.51 607.14 L323.2 607.61 L323.9 608.07 L324.61 608.52 L325.32 608.97 L326.04 609.4 L326.76 609.82 L327.49 610.24 L328.22 610.65 L328.95 611.05 L329.69 611.45 L330.42 611.85 L331.16 612.25 L331.9 612.65 L332.63 613.05 L333.37 613.46" fill="none" stroke="#f98e09" stroke-width="1.15" stroke-linejoin="round" stroke-linecap="butt" clip-path="url(#c3)"/>
<path d="M52.2 642 L52.16 641.17 L52.1 640.34 L52.06 639.49 L52.05 638.63 L52.07 637.78 L52.1 636.93 L52.17 636.09 L52.25 635.25 L52.33 634.41 L52.42 633.58 L52.51 632.75 L52.6 631.92 L52.7 631.09 L52.79 630.26 L52.89 629.43 L53 628.6 L53.1 627.77 L53.21 626.94 L53.33 626.11 L53.45 625.28 L53.57 624.45 L53.69 623.62 L53.82 622.8 L53.95 621.97 L54.1 621.14 L54.25 620.31 L54.41 619.49 L54.57 618.67 L54.73 617.85 L54.91 617.03 L55.08 616.21 L55.27 615.39 L55.45 614.57 L55.64 613.75 L55.84 612.94 L56.05 612.13 L56.26 611.31 L56.47 610.5 L56.7 609.69 L56.92 608.89 L57.16 608.08 L57.41 607.28 L57.67 606.48 L57.93 605.68 L58.2 604.88 L58.48 604.09 L58.78 603.3 L59.08 602.51 L59.4 601.73 L59.72 600.95 L60.06 600.18 L60.4 599.41 L60.75 598.65 L61.11 597.89 L61.48 597.13 L61.86 596.38 L62.24 595.63 L62.63 594.89 L63.02 594.15 L63.42 593.41 L63.84 592.68 L64.25 591.95 L64.69 591.22 L65.13 590.5 L65.58 589.79 L66.04 589.09 L66.5 588.39 L66.97 587.69 L67.45 587 L67.93 586.32 L68.41 585.63 L68.9 584.95 L69.39 584.27 L69.88 583.6 L70.36 582.92 L70.85 582.24 L71.34 581.57 L71.83 580.89 L72.33 580.22 L72.82 579.54 L73.32 578.87 L73.82 578.2 L74.32 577.53 L74.83 576.86 L75.34 576.2 L75.85 575.53 L76.37 574.88 L76.89 574.22 L77.42 573.57 L77.95 572.92 L78.49 572.28 L79.02 571.63 L79.58 570.99 L80.13 570.37 L80.69 569.73 L81.26 569.12 L81.83 568.5 L82.4 567.89 L82.99 567.29 L83.57 566.69 L84.16 566.09 L84.76 565.5 L85.36 564.91 L85.96 564.33 L86.56 563.75 L87.17 563.17 L87.78 562.6 L88.39 562.03 L89 561.45 L89.61 560.89 L90.22 560.32 L90.84 559.75 L91.45 559.19 L92.06 558.62 L92.68 558.06 L93.29 557.49 L93.9 556.93 L94.52 556.36 L95.13 555.8 L95.74 555.23 L96.35 554.66 L96.96 554.09 L97.57 553.52 L98.18 552.95 L98.79 552.38 L99.4 551.81 L100.01 551.24 L100.62 550.67 L101.23 550.1 L101.84 549.53 L102.45 548.96 L103.07 548.4 L103.68 547.83 L104.3 547.27 L104.92 546.71 L105.54 546.15 L106.17 545.59 L106.8 545.04 L107.42 544.49 L108.05 543.93 L108.69 543.39 L109.33 542.85 L109.96 542.31 L110.61 541.77 L111.27 541.25 L111.92 540.73 L112.57 540.21 L113.23 539.68 L113.89 539.17 L114.54 538.65 L115.2 538.14 L115.86 537.63 L116.52 537.11 L117.18 536.6 L117.84 536.09 L118.5 535.58 L119.16 535.07 L119.82 534.56 L120.48 534.05 L121.15 533.54 L121.81 533.04 L122.47 532.53 L123.14 532.02 L123.81 531.52 L124.47 531.02 L125.14 530.52 L125.81 530.02 L126.48 529.52 L127.15 529.02 L127.83 528.53 L128.5 528.03 L129.17 527.54 L129.85 527.05 L130.52 526.56 L131.2 526.07 L131.89 525.59 L132.57 525.11 L133.25 524.63 L133.93 524.14 L134.62 523.67 L135.32 523.21 L136.01 522.74 L136.7 522.27 L137.39 521.81 L138.1 521.36 L138.81 520.91 L139.51 520.47 L140.22 520.02 L140.94 519.59 L141.67 519.18 L142.39 518.77 L143.12 518.35 L143.86 517.96 L144.6 517.57 L145.34 517.19 L146.08 516.81 L146.84 516.46 L147.6 516.11 L148.36 515.76 L149.13 515.44 L149.9 515.12 L150.66 514.79 L151.44 514.47 L152.21 514.16 L152.99 513.86 L153.77 513.56 L154.55 513.27 L155.33 512.98 L156.11 512.69 L156.9 512.4 L157.68 512.12 L158.47 511.83 L159.25 511.54 L160.03 511.25 L160.81 510.96 L161.59 510.66 L162.37 510.37 L163.16 510.08 L163.94 509.79 L164.72 509.5 L165.5 509.21 L166.29 508.93 L167.08 508.65 L167.86 508.37 L168.65 508.1 L169.44 507.84 L170.23 507.57 L171.03 507.32 L171.83 507.08 L172.63 506.83 L173.43 506.6 L174.23 506.38 L175.04 506.16 L175.85 505.96 L176.66 505.76 L177.47 505.57 L178.29 505.4 L179.1 505.23 L179.92 505.07 L180.75 504.93 L181.57 504.81 L182.4 504.69 L183.22 504.58 L184.05 504.49 L184.88 504.41 L185.71 504.33 L186.55 504.25 L187.38 504.2 L188.21 504.14 L189.04 504.08 L189.88 504.03 L190.71 503.98 L191.54 503.94 L192.38 503.9 L193.21 503.86 L194.04 503.83 L194.88 503.8 L195.71 503.77 L196.54 503.74 L197.38 503.71 L198.21 503.69 L199.05 503.66 L199.88 503.63 L200.71 503.6 L201.55 503.57 L202.38 503.53 L203.21 503.53 L204.03 503.71 L204.84 503.9 L205.65 504.08 L206.47 504.26 L207.28 504.44 L208.1 504.62 L208.91 504.8 L209.73 504.98 L210.54 505.16 L211.36 505.35 L212.17 505.53 L212.98 505.72 L213.79 505.91 L214.61 506.1 L215.42 506.3 L216.23 506.5 L217.04 506.7 L217.85 506.9 L218.65 507.12 L219.46 507.34 L220.26 507.57 L221.06 507.81 L221.86 508.06 L222.64 508.33 L223.43 508.62 L224.2 508.93 L224.97 509.25 L225.73 509.59 L226.49 509.95 L227.23 510.33 L227.96 510.72 L228.69 511.14 L229.4 511.58 L230.1 512.02 L230.8 512.48 L231.49 512.95 L232.17 513.43 L232.85 513.92 L233.49 514.46 L234.1 515.02 L234.68 515.62 L235.24 516.24 L235.78 516.88 L236.3 517.53 L236.82 518.18 L237.33 518.84 L237.8 519.53 L238.23 520.25 L238.64 520.97 L239.05 521.7 L239.51 522.4 L240.04 523.04 L240.64 523.61 L241.29 524.14 L241.98 524.61 L242.69 525.04 L243.41 525.46 L244.14 525.88 L244.87 526.27 L245.62 526.64 L246.37 527 L247.13 527.36 L247.88 527.71 L248.63 528.08 L249.38 528.46 L250.11 528.86 L250.85 529.24 L251.61 529.59 L252.37 529.94 L253.1 530.33 L253.79 530.81 L254.39 531.38 L254.87 532.06 L255.2 532.83 L255.41 533.63 L255.54 534.46 L255.64 535.28 L255.72 536.11 L255.8 536.95 L255.91 537.77 L256.04 538.6 L256.22 539.41 L256.49 540.2 L256.83 540.96 L257.21 541.7 L257.65 542.41 L258.14 543.09 L258.66 543.74 L259.21 544.37 L259.76 544.99 L260.32 545.61 L260.88 546.23 L261.43 546.86 L261.98 547.48 L262.54 548.11 L263.09 548.73 L263.65 549.35 L264.21 549.97 L264.76 550.59 L265.32 551.21 L265.89 551.83 L266.45 552.45 L267.01 553.06 L267.57 553.68 L268.14 554.29 L268.7 554.91 L269.27 555.52 L269.83 556.13 L270.4 556.75 L270.97 557.36 L271.53 557.97 L272.1 558.58 L272.67 559.19 L273.24 559.8 L273.81 560.41 L274.39 561.02 L274.96 561.62 L275.53 562.23 L276.11 562.83 L276.68 563.44 L277.26 564.04 L277.84 564.64 L278.42 565.24 L279 565.84 L279.59 566.43 L280.17 567.03 L280.76 567.62 L281.35 568.21 L281.94 568.8 L282.54 569.38 L283.13 569.97 L283.73 570.55 L284.32 571.14 L284.92 571.72 L285.52 572.3 L286.12 572.88 L286.72 573.46 L287.32 574.04 L287.92 574.62 L288.52 575.2 L289.12 575.78 L289.72 576.36 L290.32 576.94 L290.91 577.53 L291.51 578.11 L292.11 578.69 L292.7 579.28 L293.3 579.86 L293.89 580.45 L294.48 581.04 L295.08 581.62 L295.67 582.21 L296.27 582.79 L296.86 583.38 L297.46 583.96 L298.05 584.55 L298.65 585.13 L299.25 585.71 L299.85 586.29 L300.45 586.87 L301.05 587.45 L301.66 588.02 L302.26 588.6 L302.87 589.17 L303.47 589.75 L304.08 590.32 L304.68 590.9 L305.28 591.48 L305.88 592.06 L306.48 592.64 L307.08 593.21 L307.68 593.79 L308.28 594.37 L308.88 594.95 L309.48 595.53 L310.09 596.11 L310.69 596.69 L311.29 597.26 L311.9 597.83 L312.51 598.4 L313.12 598.98 L313.73 599.55 L314.34 600.11 L314.96 600.67 L315.58 601.23 L316.2 601.79 L316.83 602.34 L317.46 602.89 L318.09 603.43 L318.73 603.96 L319.38 604.49 L320.02 605.02 L320.69 605.52 L321.36 606.02 L322.03 606.52 L322.71 606.99 L323.4 607.47 L324.1 607.93 L324.8 608.38 L325.5 608.82 L326.22 609.25 L326.94 609.68 L327.66 610.09 L328.39 610.5 L329.12 610.91 L329.85 611.31 L330.58 611.71 L331.31 612.11 L332.05 612.51 L332.77 612.92 L333.5 613.32 L334.23 613.73 L334.96 614.14 L335.69 614.54 L336.42 614.94 L337.16 615.34 L337.89 615.73 L338.63 616.12 L339.37 616.51 L340.1 616.9 L340.84 617.29 L341.58 617.68 L342.32 618.06 L343.07 618.44 L343.81 618.83 L344.55 619.21 L345.29 619.59 L346.03 619.97 L346.78 620.35 L347.52 620.73 L348.26 621.12 L349 621.5" fill="none" stroke="#f6d746" stroke-width="1.15" stroke-linejoin="round" stroke-linecap="butt" clip-path="url(#c3)"/>
<rect x="40.6" y="483.5" width="307.9" height="152.7" fill="none" stroke="#262626" stroke-width="0.85"/>
<line x1="44.69" y1="636.2" x2="44.69" y2="637.4" stroke="#262626" stroke-width="0.7"/>
<line x1="49.23" y1="636.2" x2="49.23" y2="637.4" stroke="#262626" stroke-width="0.7"/>
<line x1="53.3" y1="636.2" x2="53.3" y2="638.4" stroke="#262626" stroke-width="0.7"/>
<line x1="80.05" y1="636.2" x2="80.05" y2="637.4" stroke="#262626" stroke-width="0.7"/>
<line x1="95.69" y1="636.2" x2="95.69" y2="637.4" stroke="#262626" stroke-width="0.7"/>
<line x1="106.79" y1="636.2" x2="106.79" y2="637.4" stroke="#262626" stroke-width="0.7"/>
<line x1="115.4" y1="636.2" x2="115.4" y2="637.4" stroke="#262626" stroke-width="0.7"/>
<line x1="122.44" y1="636.2" x2="122.44" y2="637.4" stroke="#262626" stroke-width="0.7"/>
<line x1="128.39" y1="636.2" x2="128.39" y2="637.4" stroke="#262626" stroke-width="0.7"/>
<line x1="133.54" y1="636.2" x2="133.54" y2="637.4" stroke="#262626" stroke-width="0.7"/>
<line x1="138.08" y1="636.2" x2="138.08" y2="637.4" stroke="#262626" stroke-width="0.7"/>
<line x1="142.15" y1="636.2" x2="142.15" y2="638.4" stroke="#262626" stroke-width="0.7"/>
<line x1="168.9" y1="636.2" x2="168.9" y2="637.4" stroke="#262626" stroke-width="0.7"/>
<line x1="184.54" y1="636.2" x2="184.54" y2="637.4" stroke="#262626" stroke-width="0.7"/>
<line x1="195.64" y1="636.2" x2="195.64" y2="637.4" stroke="#262626" stroke-width="0.7"/>
<line x1="204.25" y1="636.2" x2="204.25" y2="637.4" stroke="#262626" stroke-width="0.7"/>
<line x1="211.29" y1="636.2" x2="211.29" y2="637.4" stroke="#262626" stroke-width="0.7"/>
<line x1="217.24" y1="636.2" x2="217.24" y2="637.4" stroke="#262626" stroke-width="0.7"/>
<line x1="222.39" y1="636.2" x2="222.39" y2="637.4" stroke="#262626" stroke-width="0.7"/>
<line x1="226.93" y1="636.2" x2="226.93" y2="637.4" stroke="#262626" stroke-width="0.7"/>
<line x1="231" y1="636.2" x2="231" y2="638.4" stroke="#262626" stroke-width="0.7"/>
<line x1="257.75" y1="636.2" x2="257.75" y2="637.4" stroke="#262626" stroke-width="0.7"/>
<line x1="273.39" y1="636.2" x2="273.39" y2="637.4" stroke="#262626" stroke-width="0.7"/>
<line x1="284.49" y1="636.2" x2="284.49" y2="637.4" stroke="#262626" stroke-width="0.7"/>
<line x1="293.1" y1="636.2" x2="293.1" y2="637.4" stroke="#262626" stroke-width="0.7"/>
<line x1="300.14" y1="636.2" x2="300.14" y2="637.4" stroke="#262626" stroke-width="0.7"/>
<line x1="306.09" y1="636.2" x2="306.09" y2="637.4" stroke="#262626" stroke-width="0.7"/>
<line x1="311.24" y1="636.2" x2="311.24" y2="637.4" stroke="#262626" stroke-width="0.7"/>
<line x1="315.78" y1="636.2" x2="315.78" y2="637.4" stroke="#262626" stroke-width="0.7"/>
<line x1="319.85" y1="636.2" x2="319.85" y2="638.4" stroke="#262626" stroke-width="0.7"/>
<line x1="346.6" y1="636.2" x2="346.6" y2="637.4" stroke="#262626" stroke-width="0.7"/>
<line x1="66.06" y1="483.5" x2="66.06" y2="482.3" stroke="#262626" stroke-width="0.7"/>
<line x1="81.71" y1="483.5" x2="81.71" y2="482.3" stroke="#262626" stroke-width="0.7"/>
<line x1="92.81" y1="483.5" x2="92.81" y2="482.3" stroke="#262626" stroke-width="0.7"/>
<line x1="101.42" y1="483.5" x2="101.42" y2="482.3" stroke="#262626" stroke-width="0.7"/>
<line x1="108.45" y1="483.5" x2="108.45" y2="482.3" stroke="#262626" stroke-width="0.7"/>
<line x1="114.4" y1="483.5" x2="114.4" y2="482.3" stroke="#262626" stroke-width="0.7"/>
<line x1="119.56" y1="483.5" x2="119.56" y2="482.3" stroke="#262626" stroke-width="0.7"/>
<line x1="124.1" y1="483.5" x2="124.1" y2="482.3" stroke="#262626" stroke-width="0.7"/>
<line x1="128.17" y1="483.5" x2="128.17" y2="481.3" stroke="#262626" stroke-width="0.7"/>
<line x1="154.91" y1="483.5" x2="154.91" y2="482.3" stroke="#262626" stroke-width="0.7"/>
<line x1="170.56" y1="483.5" x2="170.56" y2="482.3" stroke="#262626" stroke-width="0.7"/>
<line x1="181.66" y1="483.5" x2="181.66" y2="482.3" stroke="#262626" stroke-width="0.7"/>
<line x1="190.27" y1="483.5" x2="190.27" y2="482.3" stroke="#262626" stroke-width="0.7"/>
<line x1="197.3" y1="483.5" x2="197.3" y2="482.3" stroke="#262626" stroke-width="0.7"/>
<line x1="203.25" y1="483.5" x2="203.25" y2="482.3" stroke="#262626" stroke-width="0.7"/>
<line x1="208.41" y1="483.5" x2="208.41" y2="482.3" stroke="#262626" stroke-width="0.7"/>
<line x1="212.95" y1="483.5" x2="212.95" y2="482.3" stroke="#262626" stroke-width="0.7"/>
<line x1="217.02" y1="483.5" x2="217.02" y2="481.3" stroke="#262626" stroke-width="0.7"/>
<line x1="243.76" y1="483.5" x2="243.76" y2="482.3" stroke="#262626" stroke-width="0.7"/>
<line x1="259.41" y1="483.5" x2="259.41" y2="482.3" stroke="#262626" stroke-width="0.7"/>
<line x1="270.51" y1="483.5" x2="270.51" y2="482.3" stroke="#262626" stroke-width="0.7"/>
<line x1="279.12" y1="483.5" x2="279.12" y2="482.3" stroke="#262626" stroke-width="0.7"/>
<line x1="286.15" y1="483.5" x2="286.15" y2="482.3" stroke="#262626" stroke-width="0.7"/>
<line x1="292.1" y1="483.5" x2="292.1" y2="482.3" stroke="#262626" stroke-width="0.7"/>
<line x1="297.26" y1="483.5" x2="297.26" y2="482.3" stroke="#262626" stroke-width="0.7"/>
<line x1="301.8" y1="483.5" x2="301.8" y2="482.3" stroke="#262626" stroke-width="0.7"/>
<line x1="305.87" y1="483.5" x2="305.87" y2="481.3" stroke="#262626" stroke-width="0.7"/>
<line x1="332.61" y1="483.5" x2="332.61" y2="482.3" stroke="#262626" stroke-width="0.7"/>
<line x1="348.26" y1="483.5" x2="348.26" y2="482.3" stroke="#262626" stroke-width="0.7"/>
<text x="53.6" y="649.1" font-size="10.9" text-anchor="middle" transform="matrix(1 0 0 1.1 0 -64.91)">10<tspan dy="-4.6" font-size="6.9">1</tspan></text>
<text x="142.45" y="649.1" font-size="10.9" text-anchor="middle" transform="matrix(1 0 0 1.1 0 -64.91)">10<tspan dy="-4.6" font-size="6.9">2</tspan></text>
<text x="231.3" y="649.1" font-size="10.9" text-anchor="middle" transform="matrix(1 0 0 1.1 0 -64.91)">10<tspan dy="-4.6" font-size="6.9">3</tspan></text>
<text x="320.15" y="649.1" font-size="10.9" text-anchor="middle" transform="matrix(1 0 0 1.1 0 -64.91)">10<tspan dy="-4.6" font-size="6.9">4</tspan></text>
<text x="128.37" y="477.7" font-size="10.9" text-anchor="middle" transform="matrix(1 0 0 1.1 0 -47.77)">0.1</text>
<text x="217.22" y="477.7" font-size="10.9" text-anchor="middle" transform="matrix(1 0 0 1.1 0 -47.77)">1.0</text>
<text x="306.07" y="477.7" font-size="10.9" text-anchor="middle" transform="matrix(1 0 0 1.1 0 -47.77)">10.0</text>
<text x="165.6" y="662" font-size="10.9" textLength="58" lengthAdjust="spacingAndGlyphs" transform="matrix(1 0 0 1.1 0 -66.2)">Height [Mm]</text>
<text x="152" y="466.9" font-size="10.9" textLength="84.5" lengthAdjust="spacingAndGlyphs" transform="matrix(1 0 0 1.1 0 -46.69)">Height [<tspan font-style="italic">r</tspan>/<tspan font-style="italic">R</tspan><tspan dy="2.2" font-size="7">&#8857;</tspan><tspan dy="-2.2"> &#8722; 1]</tspan></text>
<line x1="38.4" y1="636.3" x2="40.6" y2="636.3" stroke="#262626" stroke-width="0.7"/>
<text x="35.4" y="640.5" font-size="10.9" text-anchor="end" transform="matrix(1 0 0 1.1 0 -64.05)">75</text>
<line x1="38.4" y1="610.8" x2="40.6" y2="610.8" stroke="#262626" stroke-width="0.7"/>
<text x="35.4" y="615" font-size="10.9" text-anchor="end" transform="matrix(1 0 0 1.1 0 -61.5)">100</text>
<line x1="38.4" y1="585.3" x2="40.6" y2="585.3" stroke="#262626" stroke-width="0.7"/>
<text x="35.4" y="589.5" font-size="10.9" text-anchor="end" transform="matrix(1 0 0 1.1 0 -58.95)">125</text>
<line x1="38.4" y1="559.8" x2="40.6" y2="559.8" stroke="#262626" stroke-width="0.7"/>
<text x="35.4" y="564" font-size="10.9" text-anchor="end" transform="matrix(1 0 0 1.1 0 -56.4)">150</text>
<line x1="38.4" y1="534.3" x2="40.6" y2="534.3" stroke="#262626" stroke-width="0.7"/>
<text x="35.4" y="538.5" font-size="10.9" text-anchor="end" transform="matrix(1 0 0 1.1 0 -53.85)">175</text>
<line x1="38.4" y1="508.8" x2="40.6" y2="508.8" stroke="#262626" stroke-width="0.7"/>
<text x="35.4" y="513" font-size="10.9" text-anchor="end" transform="matrix(1 0 0 1.1 0 -51.3)">200</text>
<line x1="38.4" y1="483.3" x2="40.6" y2="483.3" stroke="#262626" stroke-width="0.7"/>
<text x="35.4" y="487.5" font-size="10.9" text-anchor="end" transform="matrix(1 0 0 1.1 0 -48.75)">225</text>
<text x="0" y="0" font-size="11.3" text-anchor="middle" textLength="146" lengthAdjust="spacingAndGlyphs" transform="translate(12.9 560.7) rotate(-90) scale(1 1.1)">Adiabatic sound speed [km<tspan dx="1.5">s</tspan><tspan dy="-4.4" font-size="7.8">&#8722;1</tspan><tspan dy="4.4">]</tspan></text>
<text x="262" y="497.2" font-size="10.9" textLength="82.5" lengthAdjust="spacingAndGlyphs" transform="matrix(1 0 0 1.1 0 -49.72)">Adiabatic Heating</text>
<text x="105.6" y="557.6" font-size="10.9" textLength="90.4" lengthAdjust="spacingAndGlyphs" transform="matrix(1 0 0 1.1 0 -55.76)">Conductive Cooling</text>
<text x="136" y="587.6" font-size="10.9" textLength="82" lengthAdjust="spacingAndGlyphs" transform="matrix(1 0 0 1.1 0 -58.76)">Adiabatic Cooling</text>
<text x="193.7" y="628.6" font-size="10.9" textLength="92" lengthAdjust="spacingAndGlyphs" transform="matrix(1 0 0 1.1 0 -62.86)">Conductive Heating</text>
<path d="M198.62 543.32 L203.85 517.15 L206.65 517.71 L204 508 L197.82 515.94 L200.62 516.5 L195.38 542.68Z" fill="#000"/>
<path d="M223.51 572.66 L238.6 538.21 L241.21 539.35 L240.7 529.3 L232.97 535.74 L235.58 536.88 L220.49 571.34Z" fill="#000"/>
<path d="M259.37 503.37 L256.72 522.26 L253.89 521.86 L257.1 531.4 L262.81 523.11 L259.98 522.72 L262.63 503.83Z" fill="#000"/>
<path d="M287.23 615.93 L292.81 602.35 L295.44 603.43 L294.7 593.4 L287.12 600.01 L289.75 601.1 L284.17 614.67Z" fill="#000"/>
</svg>
</body></html>
